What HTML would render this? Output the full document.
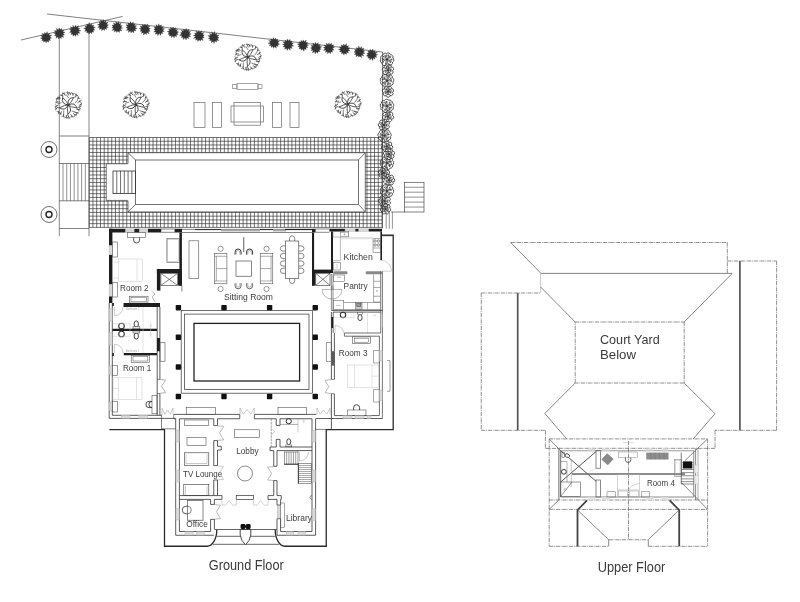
<!DOCTYPE html>
<html><head><meta charset="utf-8"><title>Floor Plan</title>
<style>
html,body{margin:0;padding:0;background:#fff;}
body{width:800px;height:602px;overflow:hidden;}
svg{display:block;will-change:transform;}
text{font-family:"Liberation Sans","DejaVu Sans",sans-serif;}
</style></head><body>
<svg width="800" height="602" viewBox="0 0 800 602">
<rect width="800" height="602" fill="#fff"/>
<g id="garden">
<line x1="21.00" y1="40.00" x2="122.75" y2="16.40" stroke="#4a4a4a" stroke-width="0.7" />
<line x1="47.00" y1="14.00" x2="382.50" y2="52.00" stroke="#4a4a4a" stroke-width="0.7" />
<line x1="382.50" y1="52.00" x2="382.50" y2="228.50" stroke="#4a4a4a" stroke-width="0.7" />
<line x1="59.30" y1="37.00" x2="59.30" y2="236.20" stroke="#555" stroke-width="0.7" />
<line x1="89.00" y1="28.50" x2="89.00" y2="236.20" stroke="#555" stroke-width="0.7" />
<line x1="59.30" y1="136.00" x2="89.00" y2="136.00" stroke="#4a4a4a" stroke-width="0.7" />
<line x1="59.30" y1="163.50" x2="89.00" y2="163.50" stroke="#4a4a4a" stroke-width="0.7" />
<line x1="59.30" y1="200.80" x2="89.00" y2="200.80" stroke="#4a4a4a" stroke-width="0.7" />
<line x1="59.30" y1="228.50" x2="89.00" y2="228.50" stroke="#4a4a4a" stroke-width="0.7" />
<line x1="63.02" y1="163.50" x2="63.02" y2="200.80" stroke="#4a4a4a" stroke-width="0.6" />
<line x1="66.74" y1="163.50" x2="66.74" y2="200.80" stroke="#4a4a4a" stroke-width="0.6" />
<line x1="70.46" y1="163.50" x2="70.46" y2="200.80" stroke="#4a4a4a" stroke-width="0.6" />
<line x1="74.18" y1="163.50" x2="74.18" y2="200.80" stroke="#4a4a4a" stroke-width="0.6" />
<line x1="77.90" y1="163.50" x2="77.90" y2="200.80" stroke="#4a4a4a" stroke-width="0.6" />
<line x1="81.62" y1="163.50" x2="81.62" y2="200.80" stroke="#4a4a4a" stroke-width="0.6" />
<line x1="85.34" y1="163.50" x2="85.34" y2="200.80" stroke="#4a4a4a" stroke-width="0.6" />
<circle cx="49.00" cy="149.50" r="8.00" stroke="#333" stroke-width="0.7" fill="none"/>
<circle cx="49.00" cy="149.50" r="3.00" stroke="#222" stroke-width="1.4" fill="none"/>
<circle cx="49.00" cy="214.50" r="8.00" stroke="#333" stroke-width="0.7" fill="none"/>
<circle cx="49.00" cy="214.50" r="3.00" stroke="#222" stroke-width="1.4" fill="none"/>
<path d="M43.60,42.32 L43.54,40.39 L41.69,40.61 L42.54,38.89 L40.48,38.29 L42.56,37.15 L40.62,35.59 L43.13,35.60 L42.17,33.36 L44.33,34.47 L44.62,32.36 L45.93,33.84 L47.32,31.65 L47.56,34.38 L49.53,33.35 L49.06,35.29 L51.67,35.22 L49.71,36.97 L51.58,38.06 L49.75,38.83 L50.41,40.41 L48.65,40.37 L48.66,42.32 L46.91,40.88 L46.11,42.85 L45.21,41.01 Z" stroke="#333" stroke-width="0.3" fill="#333" />
<path d="M61.67,28.45 L61.78,30.42 L64.05,29.76 L62.80,31.88 L65.14,32.31 L62.95,33.57 L64.57,34.93 L62.55,35.20 L63.69,37.51 L61.43,36.52 L61.20,38.66 L59.76,37.14 L58.54,38.97 L58.06,36.69 L55.87,38.13 L56.52,35.78 L54.54,35.69 L55.82,34.11 L53.78,33.11 L55.75,32.27 L54.41,30.39 L56.94,30.89 L56.27,28.18 L58.43,30.08 L59.10,27.79 L60.16,29.60 Z" stroke="#333" stroke-width="0.3" fill="#333" />
<path d="M78.29,35.44 L76.26,34.00 L75.78,36.60 L74.58,34.63 L73.02,36.22 L72.81,34.05 L70.91,34.52 L71.64,32.61 L69.40,32.25 L71.25,30.85 L69.49,29.51 L71.53,29.03 L70.38,26.81 L72.87,27.79 L72.86,25.36 L74.54,27.38 L75.64,24.95 L76.30,27.24 L78.43,25.70 L77.88,28.19 L79.84,28.18 L78.52,29.89 L80.85,30.73 L78.34,31.58 L80.05,33.37 L77.66,33.10 Z" stroke="#333" stroke-width="0.3" fill="#333" />
<path d="M93.68,32.15 L91.91,31.80 L91.60,33.63 L90.14,32.14 L89.02,34.15 L88.32,32.25 L86.68,32.94 L86.97,31.01 L84.64,31.22 L85.93,29.50 L83.76,28.54 L85.96,27.62 L84.91,25.99 L87.04,26.15 L86.63,23.98 L88.40,24.92 L89.08,22.52 L90.21,25.12 L91.72,23.57 L91.80,25.70 L93.87,25.02 L93.04,26.92 L95.38,27.27 L93.32,28.64 L94.83,29.91 L92.97,30.33 Z" stroke="#333" stroke-width="0.3" fill="#333" />
<path d="M99.33,29.62 L99.94,27.58 L97.71,27.36 L99.55,25.76 L97.50,24.57 L99.72,23.97 L98.96,22.29 L100.71,22.40 L100.61,20.06 L102.40,21.57 L103.39,19.43 L104.20,21.88 L105.97,20.50 L105.62,22.85 L108.12,22.20 L106.51,24.25 L108.53,24.88 L106.75,25.91 L108.25,27.43 L106.18,27.52 L106.67,29.44 L104.77,28.46 L104.42,30.65 L103.17,28.88 L101.79,30.78 L101.58,28.40 Z" stroke="#333" stroke-width="0.3" fill="#333" />
<path d="M121.18,23.17 L120.09,25.47 L122.31,25.64 L120.71,27.06 L122.59,28.27 L120.29,28.71 L121.86,30.98 L119.58,30.42 L119.46,32.45 L117.79,30.93 L116.82,32.61 L116.09,30.63 L114.26,32.08 L114.59,29.84 L111.99,30.44 L113.75,28.37 L111.85,27.65 L113.20,26.61 L111.86,24.99 L114.33,25.16 L113.53,22.81 L115.67,24.18 L116.03,21.68 L117.31,23.33 L118.85,21.53 L119.05,24.02 Z" stroke="#333" stroke-width="0.3" fill="#333" />
<path d="M131.02,32.97 L130.33,30.75 L128.28,32.46 L128.74,30.01 L126.28,30.44 L127.95,28.44 L125.96,27.68 L127.59,26.67 L125.82,24.83 L128.35,24.96 L127.75,22.66 L129.84,23.84 L130.38,21.57 L131.64,23.86 L133.15,21.96 L133.30,24.32 L135.16,23.71 L134.36,25.65 L136.66,25.81 L134.96,27.22 L137.17,28.51 L135.00,29.06 L135.82,30.92 L133.81,30.53 L133.87,33.03 L132.08,31.31 Z" stroke="#333" stroke-width="0.3" fill="#333" />
<path d="M141.41,33.40 L142.09,31.33 L139.94,31.25 L141.49,29.75 L139.23,28.63 L141.31,27.93 L140.03,25.91 L142.53,26.55 L142.26,24.15 L144.05,25.54 L144.97,23.98 L145.89,25.61 L147.79,23.91 L147.55,26.39 L149.86,25.90 L148.44,27.97 L150.36,28.62 L148.84,29.74 L150.20,31.24 L148.20,31.48 L149.09,33.86 L146.71,32.52 L146.37,34.74 L145.02,33.26 L143.62,35.04 L143.38,32.42 Z" stroke="#333" stroke-width="0.3" fill="#333" />
<path d="M162.76,33.65 L160.99,33.19 L160.71,35.53 L159.17,33.30 L157.85,35.69 L157.32,33.41 L155.34,34.35 L156.12,32.00 L153.73,32.09 L155.56,30.39 L153.76,29.42 L155.22,28.57 L154.04,26.72 L156.40,27.14 L155.91,24.54 L157.95,26.29 L158.71,23.77 L159.75,25.98 L161.29,24.87 L161.23,27.02 L163.38,26.46 L162.26,28.38 L164.70,28.83 L162.56,30.06 L164.35,31.54 L161.97,31.64 Z" stroke="#333" stroke-width="0.3" fill="#333" />
<path d="M177.69,29.40 L176.49,31.22 L178.76,31.91 L176.89,33.01 L178.19,34.58 L176.16,34.75 L176.63,36.80 L174.61,35.76 L174.17,38.00 L172.88,35.83 L171.45,37.83 L171.25,35.46 L169.38,36.20 L169.73,34.49 L167.88,34.13 L169.32,32.71 L167.17,31.48 L169.56,30.95 L168.56,29.09 L170.64,29.53 L170.51,27.22 L172.21,28.61 L173.19,27.06 L174.02,28.80 L175.71,27.65 L175.47,29.81 Z" stroke="#333" stroke-width="0.3" fill="#333" />
<path d="M186.28,28.35 L186.88,30.53 L188.95,29.17 L188.49,31.44 L190.54,31.46 L189.17,33.16 L191.20,34.09 L189.09,34.95 L190.66,36.82 L188.21,36.48 L188.68,38.77 L186.75,37.47 L186.14,40.07 L184.98,37.78 L183.26,39.61 L183.20,37.22 L181.34,37.57 L182.16,35.68 L179.55,35.36 L181.60,33.94 L180.31,32.63 L182.44,32.33 L181.34,30.19 L183.58,31.12 L183.65,28.86 L185.14,30.56 Z" stroke="#333" stroke-width="0.3" fill="#333" />
<path d="M196.10,30.79 L197.96,32.21 L198.87,30.62 L199.82,32.26 L201.59,30.76 L201.26,33.32 L203.89,32.44 L202.68,34.50 L204.39,35.21 L202.94,36.38 L204.29,37.86 L202.09,38.02 L203.19,40.50 L200.89,39.40 L200.42,41.20 L199.09,39.66 L197.77,41.58 L197.40,39.24 L195.51,40.15 L196.09,38.12 L193.53,38.23 L195.61,36.50 L193.28,35.45 L195.54,34.78 L194.60,33.12 L196.54,33.36 Z" stroke="#333" stroke-width="0.3" fill="#333" />
<path d="M209.63,33.50 L211.89,34.56 L211.82,31.65 L213.43,33.64 L214.75,31.46 L215.10,34.31 L217.05,33.15 L216.39,35.35 L219.11,35.01 L217.21,36.83 L219.05,37.78 L217.20,38.56 L218.93,40.60 L216.47,40.22 L216.58,42.16 L214.77,40.84 L214.12,43.57 L213.06,41.19 L211.33,42.89 L211.58,40.25 L209.56,40.80 L210.24,39.09 L208.17,38.56 L210.24,37.32 L207.86,35.74 L210.45,35.57 Z" stroke="#333" stroke-width="0.3" fill="#333" />
<path d="M275.68,37.95 L276.09,39.70 L277.82,39.32 L277.39,41.04 L279.43,41.42 L277.61,42.85 L279.63,44.15 L277.57,44.69 L278.25,46.47 L276.10,45.79 L276.25,48.27 L274.57,46.51 L273.57,48.33 L272.89,46.33 L271.17,47.47 L271.45,45.45 L269.21,45.77 L270.55,44.00 L268.07,43.24 L270.49,42.28 L268.85,40.56 L271.27,40.77 L270.66,38.56 L272.65,39.84 L273.12,37.60 L274.27,39.58 Z" stroke="#333" stroke-width="0.3" fill="#333" />
<path d="M287.38,38.89 L288.47,41.10 L290.08,39.32 L290.28,41.37 L292.04,41.11 L291.46,42.84 L293.49,43.32 L291.70,44.65 L293.81,46.11 L291.21,46.33 L292.22,48.44 L290.13,47.76 L290.11,50.37 L288.39,48.19 L287.20,50.55 L286.60,48.16 L284.63,49.35 L285.24,46.99 L283.04,47.12 L284.64,45.38 L282.64,44.53 L284.65,43.73 L282.79,41.79 L285.36,42.20 L284.99,40.12 L286.81,41.34 Z" stroke="#333" stroke-width="0.3" fill="#333" />
<path d="M306.26,40.12 L305.76,42.59 L307.78,42.48 L306.42,44.23 L308.51,45.02 L306.60,45.96 L307.85,47.54 L305.83,47.54 L306.26,49.61 L304.53,48.86 L303.94,51.26 L302.67,48.92 L301.23,50.37 L300.85,48.54 L298.99,49.00 L299.85,46.99 L297.95,46.62 L299.36,45.32 L297.45,44.03 L299.66,43.59 L298.82,41.74 L300.79,42.22 L300.98,40.36 L302.45,41.67 L303.47,39.89 L304.18,41.75 Z" stroke="#333" stroke-width="0.3" fill="#333" />
<path d="M321.09,49.36 L319.15,49.73 L320.01,51.70 L318.07,51.13 L317.92,53.39 L316.39,51.83 L315.18,53.79 L314.57,51.55 L312.47,52.91 L313.23,50.36 L311.04,50.48 L312.12,48.88 L310.62,47.89 L312.30,47.01 L310.89,45.19 L313.47,45.66 L312.69,42.99 L314.68,44.30 L315.41,42.21 L316.54,44.20 L318.23,42.45 L318.05,45.16 L320.36,44.29 L319.32,46.34 L321.86,46.68 L319.88,48.08 Z" stroke="#333" stroke-width="0.3" fill="#333" />
<path d="M331.65,43.07 L331.59,45.24 L333.81,44.84 L332.56,46.83 L334.41,47.51 L332.42,48.59 L334.03,50.07 L332.00,50.24 L332.56,52.18 L330.83,51.64 L330.41,53.78 L329.02,51.98 L327.64,53.85 L327.25,51.58 L325.25,52.48 L326.20,50.16 L323.43,50.35 L325.18,48.69 L323.33,47.55 L325.51,46.90 L324.17,44.91 L326.69,45.63 L326.22,42.98 L328.13,44.74 L328.97,42.89 L329.83,44.73 Z" stroke="#333" stroke-width="0.3" fill="#333" />
<path d="M343.68,44.02 L344.82,45.58 L346.51,43.64 L346.47,46.33 L348.54,45.64 L347.65,47.65 L350.08,47.93 L348.26,49.36 L350.05,50.73 L347.77,51.12 L348.42,52.88 L346.42,52.26 L346.40,54.50 L344.91,53.21 L343.80,54.89 L343.11,52.92 L341.46,53.76 L341.84,51.72 L339.57,52.01 L340.72,50.35 L338.53,49.47 L340.70,48.53 L339.49,46.90 L341.59,46.97 L341.13,44.77 L343.05,45.97 Z" stroke="#333" stroke-width="0.3" fill="#333" />
<path d="M363.86,56.10 L361.35,54.95 L361.47,57.78 L359.80,55.93 L358.67,57.21 L358.03,55.42 L355.90,56.86 L356.38,54.58 L354.34,54.53 L355.91,52.79 L353.97,51.90 L355.57,50.98 L354.64,49.38 L356.64,49.46 L356.43,47.52 L358.15,48.50 L358.78,45.92 L359.89,48.54 L361.63,46.44 L361.57,48.99 L364.01,48.07 L362.82,50.29 L364.72,50.80 L363.33,52.08 L364.89,53.47 L362.41,53.65 Z" stroke="#333" stroke-width="0.3" fill="#333" />
<path d="M377.69,54.83 L375.55,55.66 L376.83,57.37 L374.57,57.08 L375.05,59.34 L373.20,58.09 L372.59,60.68 L371.51,58.09 L369.77,60.19 L369.71,57.86 L367.91,58.16 L368.46,56.46 L366.25,55.98 L368.07,54.61 L366.68,53.26 L368.82,52.94 L367.89,50.89 L369.81,51.37 L370.07,49.25 L371.64,51.09 L372.81,49.12 L373.34,51.39 L375.10,50.42 L374.65,52.45 L377.38,52.03 L375.50,53.92 Z" stroke="#333" stroke-width="0.3" fill="#333" />
<path d="M68.20,105.00 Q60.98,104.07 62.66,97.60" stroke="#363636" stroke-width="0.9" fill="none" />
<path d="M68.20,105.00 Q67.46,102.01 62.66,97.60" stroke="#363636" stroke-width="0.8" fill="none" />
<line x1="61.64" y1="102.55" x2="57.33" y2="103.93" stroke="#363636" stroke-width="0.6" />
<line x1="62.66" y1="97.60" x2="62.42" y2="95.41" stroke="#363636" stroke-width="0.6" />
<path d="M68.20,105.00 Q66.99,97.82 73.67,97.55" stroke="#363636" stroke-width="0.9" fill="none" />
<path d="M68.20,105.00 Q70.85,103.42 73.67,97.55" stroke="#363636" stroke-width="0.8" fill="none" />
<line x1="68.64" y1="98.01" x2="66.06" y2="94.29" stroke="#363636" stroke-width="0.6" />
<line x1="73.67" y1="97.55" x2="75.69" y2="96.68" stroke="#363636" stroke-width="0.6" />
<path d="M68.20,105.00 Q74.68,101.69 76.95,107.97" stroke="#363636" stroke-width="0.9" fill="none" />
<path d="M68.20,105.00 Q70.50,107.05 76.95,107.97" stroke="#363636" stroke-width="0.8" fill="none" />
<line x1="74.99" y1="103.32" x2="77.77" y2="99.74" stroke="#363636" stroke-width="0.6" />
<line x1="76.95" y1="107.97" x2="78.39" y2="109.64" stroke="#363636" stroke-width="0.6" />
<path d="M68.20,105.00 Q73.23,110.26 67.86,114.23" stroke="#363636" stroke-width="0.9" fill="none" />
<path d="M68.20,105.00 Q66.90,107.79 67.86,114.23" stroke="#363636" stroke-width="0.8" fill="none" />
<line x1="71.76" y1="111.03" x2="75.98" y2="112.66" stroke="#363636" stroke-width="0.6" />
<line x1="67.86" y1="114.23" x2="66.67" y2="116.10" stroke="#363636" stroke-width="0.6" />
<path d="M68.20,105.00 Q64.96,111.52 59.40,107.82" stroke="#363636" stroke-width="0.9" fill="none" />
<path d="M68.20,105.00 Q65.13,104.72 59.40,107.82" stroke="#363636" stroke-width="0.8" fill="none" />
<line x1="63.74" y1="110.39" x2="63.64" y2="114.92" stroke="#363636" stroke-width="0.6" />
<line x1="59.40" y1="107.82" x2="57.25" y2="107.33" stroke="#363636" stroke-width="0.6" />
<line x1="59.44" y1="101.93" x2="55.26" y2="102.14" stroke="#363636" stroke-width="0.7" />
<line x1="57.35" y1="102.03" x2="55.66" y2="103.27" stroke="#363636" stroke-width="0.6" />
<line x1="57.35" y1="102.03" x2="56.34" y2="100.19" stroke="#363636" stroke-width="0.6" />
<line x1="59.84" y1="99.25" x2="55.92" y2="98.57" stroke="#363636" stroke-width="0.7" />
<line x1="57.88" y1="98.91" x2="55.92" y2="99.67" stroke="#363636" stroke-width="0.6" />
<line x1="57.88" y1="98.91" x2="57.38" y2="96.87" stroke="#363636" stroke-width="0.6" />
<line x1="60.94" y1="98.27" x2="57.72" y2="97.40" stroke="#363636" stroke-width="0.7" />
<line x1="59.33" y1="97.83" x2="57.29" y2="98.30" stroke="#363636" stroke-width="0.6" />
<line x1="59.33" y1="97.83" x2="59.14" y2="95.74" stroke="#363636" stroke-width="0.6" />
<line x1="63.38" y1="96.19" x2="60.86" y2="94.74" stroke="#363636" stroke-width="0.7" />
<line x1="62.12" y1="95.46" x2="60.03" y2="95.25" stroke="#363636" stroke-width="0.6" />
<line x1="62.12" y1="95.46" x2="62.60" y2="93.42" stroke="#363636" stroke-width="0.6" />
<line x1="65.49" y1="95.76" x2="62.73" y2="92.24" stroke="#363636" stroke-width="0.7" />
<line x1="64.11" y1="94.00" x2="62.12" y2="93.35" stroke="#363636" stroke-width="0.6" />
<line x1="64.11" y1="94.00" x2="65.02" y2="92.10" stroke="#363636" stroke-width="0.6" />
<line x1="68.71" y1="95.55" x2="67.29" y2="91.31" stroke="#363636" stroke-width="0.7" />
<line x1="68.00" y1="93.43" x2="66.33" y2="92.15" stroke="#363636" stroke-width="0.6" />
<line x1="68.00" y1="93.43" x2="69.48" y2="91.94" stroke="#363636" stroke-width="0.6" />
<line x1="70.48" y1="95.16" x2="69.58" y2="92.30" stroke="#363636" stroke-width="0.7" />
<line x1="70.03" y1="93.73" x2="68.61" y2="92.18" stroke="#363636" stroke-width="0.6" />
<line x1="70.03" y1="93.73" x2="71.75" y2="92.52" stroke="#363636" stroke-width="0.6" />
<line x1="72.94" y1="95.68" x2="72.63" y2="92.89" stroke="#363636" stroke-width="0.7" />
<line x1="72.78" y1="94.28" x2="71.78" y2="92.44" stroke="#363636" stroke-width="0.6" />
<line x1="72.78" y1="94.28" x2="74.74" y2="93.52" stroke="#363636" stroke-width="0.6" />
<line x1="75.53" y1="97.32" x2="76.48" y2="93.93" stroke="#363636" stroke-width="0.7" />
<line x1="76.00" y1="95.63" x2="75.57" y2="93.57" stroke="#363636" stroke-width="0.6" />
<line x1="76.00" y1="95.63" x2="78.10" y2="95.46" stroke="#363636" stroke-width="0.6" />
<line x1="77.30" y1="99.59" x2="78.78" y2="96.85" stroke="#363636" stroke-width="0.7" />
<line x1="78.04" y1="98.22" x2="78.17" y2="96.12" stroke="#363636" stroke-width="0.6" />
<line x1="78.04" y1="98.22" x2="80.10" y2="98.62" stroke="#363636" stroke-width="0.6" />
<line x1="77.50" y1="102.92" x2="81.32" y2="100.35" stroke="#363636" stroke-width="0.7" />
<line x1="79.41" y1="101.64" x2="80.19" y2="99.69" stroke="#363636" stroke-width="0.6" />
<line x1="79.41" y1="101.64" x2="81.24" y2="102.66" stroke="#363636" stroke-width="0.6" />
<line x1="78.78" y1="105.46" x2="82.01" y2="103.94" stroke="#363636" stroke-width="0.7" />
<line x1="80.40" y1="104.70" x2="81.66" y2="103.02" stroke="#363636" stroke-width="0.6" />
<line x1="80.40" y1="104.70" x2="81.90" y2="106.17" stroke="#363636" stroke-width="0.6" />
<line x1="77.64" y1="107.41" x2="80.92" y2="106.67" stroke="#363636" stroke-width="0.7" />
<line x1="79.28" y1="107.04" x2="80.86" y2="105.66" stroke="#363636" stroke-width="0.6" />
<line x1="79.28" y1="107.04" x2="80.45" y2="108.78" stroke="#363636" stroke-width="0.6" />
<line x1="76.43" y1="109.40" x2="80.34" y2="109.72" stroke="#363636" stroke-width="0.7" />
<line x1="78.38" y1="109.56" x2="80.25" y2="108.59" stroke="#363636" stroke-width="0.6" />
<line x1="78.38" y1="109.56" x2="79.10" y2="111.53" stroke="#363636" stroke-width="0.6" />
<line x1="74.53" y1="111.74" x2="78.59" y2="113.69" stroke="#363636" stroke-width="0.7" />
<line x1="76.56" y1="112.71" x2="78.64" y2="112.39" stroke="#363636" stroke-width="0.6" />
<line x1="76.56" y1="112.71" x2="76.61" y2="114.81" stroke="#363636" stroke-width="0.6" />
<line x1="73.09" y1="113.35" x2="76.52" y2="115.95" stroke="#363636" stroke-width="0.7" />
<line x1="74.80" y1="114.65" x2="76.90" y2="114.80" stroke="#363636" stroke-width="0.6" />
<line x1="74.80" y1="114.65" x2="74.38" y2="116.70" stroke="#363636" stroke-width="0.6" />
<line x1="70.58" y1="114.39" x2="72.97" y2="117.39" stroke="#363636" stroke-width="0.7" />
<line x1="71.77" y1="115.89" x2="73.75" y2="116.61" stroke="#363636" stroke-width="0.6" />
<line x1="71.77" y1="115.89" x2="70.80" y2="117.75" stroke="#363636" stroke-width="0.6" />
<line x1="67.78" y1="114.31" x2="69.24" y2="118.93" stroke="#363636" stroke-width="0.7" />
<line x1="68.51" y1="116.62" x2="70.19" y2="117.88" stroke="#363636" stroke-width="0.6" />
<line x1="68.51" y1="116.62" x2="67.04" y2="118.12" stroke="#363636" stroke-width="0.6" />
<line x1="66.04" y1="115.06" x2="66.94" y2="118.73" stroke="#363636" stroke-width="0.7" />
<line x1="66.49" y1="116.89" x2="67.93" y2="118.42" stroke="#363636" stroke-width="0.6" />
<line x1="66.49" y1="116.89" x2="64.79" y2="118.13" stroke="#363636" stroke-width="0.6" />
<line x1="63.49" y1="114.21" x2="63.67" y2="117.31" stroke="#363636" stroke-width="0.7" />
<line x1="63.58" y1="115.76" x2="64.58" y2="117.60" stroke="#363636" stroke-width="0.6" />
<line x1="63.58" y1="115.76" x2="61.62" y2="116.51" stroke="#363636" stroke-width="0.6" />
<line x1="61.48" y1="111.36" x2="60.11" y2="114.74" stroke="#363636" stroke-width="0.7" />
<line x1="60.79" y1="113.05" x2="61.12" y2="115.13" stroke="#363636" stroke-width="0.6" />
<line x1="60.79" y1="113.05" x2="58.69" y2="113.11" stroke="#363636" stroke-width="0.6" />
<line x1="59.19" y1="110.54" x2="58.12" y2="113.01" stroke="#363636" stroke-width="0.7" />
<line x1="58.66" y1="111.78" x2="58.55" y2="113.88" stroke="#363636" stroke-width="0.6" />
<line x1="58.66" y1="111.78" x2="56.59" y2="111.41" stroke="#363636" stroke-width="0.6" />
<line x1="57.89" y1="107.19" x2="55.03" y2="109.50" stroke="#363636" stroke-width="0.7" />
<line x1="56.46" y1="108.35" x2="55.66" y2="110.29" stroke="#363636" stroke-width="0.6" />
<line x1="56.46" y1="108.35" x2="54.64" y2="107.30" stroke="#363636" stroke-width="0.6" />
<line x1="58.46" y1="105.05" x2="54.97" y2="106.66" stroke="#363636" stroke-width="0.7" />
<line x1="56.72" y1="105.86" x2="55.54" y2="107.60" stroke="#363636" stroke-width="0.6" />
<line x1="56.72" y1="105.86" x2="55.14" y2="104.47" stroke="#363636" stroke-width="0.6" />
<path d="M135.80,104.50 Q128.58,103.57 130.26,97.10" stroke="#363636" stroke-width="0.9" fill="none" />
<path d="M135.80,104.50 Q135.06,101.51 130.26,97.10" stroke="#363636" stroke-width="0.8" fill="none" />
<line x1="129.24" y1="102.05" x2="124.93" y2="103.43" stroke="#363636" stroke-width="0.6" />
<line x1="130.26" y1="97.10" x2="130.02" y2="94.91" stroke="#363636" stroke-width="0.6" />
<path d="M135.80,104.50 Q134.59,97.32 141.27,97.05" stroke="#363636" stroke-width="0.9" fill="none" />
<path d="M135.80,104.50 Q138.45,102.92 141.27,97.05" stroke="#363636" stroke-width="0.8" fill="none" />
<line x1="136.24" y1="97.51" x2="133.66" y2="93.79" stroke="#363636" stroke-width="0.6" />
<line x1="141.27" y1="97.05" x2="143.29" y2="96.18" stroke="#363636" stroke-width="0.6" />
<path d="M135.80,104.50 Q142.28,101.19 144.55,107.47" stroke="#363636" stroke-width="0.9" fill="none" />
<path d="M135.80,104.50 Q138.10,106.55 144.55,107.47" stroke="#363636" stroke-width="0.8" fill="none" />
<line x1="142.59" y1="102.82" x2="145.37" y2="99.24" stroke="#363636" stroke-width="0.6" />
<line x1="144.55" y1="107.47" x2="145.99" y2="109.14" stroke="#363636" stroke-width="0.6" />
<path d="M135.80,104.50 Q140.83,109.76 135.46,113.73" stroke="#363636" stroke-width="0.9" fill="none" />
<path d="M135.80,104.50 Q134.50,107.29 135.46,113.73" stroke="#363636" stroke-width="0.8" fill="none" />
<line x1="139.36" y1="110.53" x2="143.58" y2="112.16" stroke="#363636" stroke-width="0.6" />
<line x1="135.46" y1="113.73" x2="134.27" y2="115.60" stroke="#363636" stroke-width="0.6" />
<path d="M135.80,104.50 Q132.56,111.02 127.00,107.32" stroke="#363636" stroke-width="0.9" fill="none" />
<path d="M135.80,104.50 Q132.73,104.22 127.00,107.32" stroke="#363636" stroke-width="0.8" fill="none" />
<line x1="131.34" y1="109.89" x2="131.24" y2="114.42" stroke="#363636" stroke-width="0.6" />
<line x1="127.00" y1="107.32" x2="124.85" y2="106.83" stroke="#363636" stroke-width="0.6" />
<line x1="127.04" y1="101.43" x2="122.86" y2="101.64" stroke="#363636" stroke-width="0.7" />
<line x1="124.95" y1="101.53" x2="123.26" y2="102.77" stroke="#363636" stroke-width="0.6" />
<line x1="124.95" y1="101.53" x2="123.94" y2="99.69" stroke="#363636" stroke-width="0.6" />
<line x1="127.44" y1="98.75" x2="123.52" y2="98.07" stroke="#363636" stroke-width="0.7" />
<line x1="125.48" y1="98.41" x2="123.52" y2="99.17" stroke="#363636" stroke-width="0.6" />
<line x1="125.48" y1="98.41" x2="124.98" y2="96.37" stroke="#363636" stroke-width="0.6" />
<line x1="128.54" y1="97.77" x2="125.32" y2="96.90" stroke="#363636" stroke-width="0.7" />
<line x1="126.93" y1="97.33" x2="124.89" y2="97.80" stroke="#363636" stroke-width="0.6" />
<line x1="126.93" y1="97.33" x2="126.74" y2="95.24" stroke="#363636" stroke-width="0.6" />
<line x1="130.98" y1="95.69" x2="128.46" y2="94.24" stroke="#363636" stroke-width="0.7" />
<line x1="129.72" y1="94.96" x2="127.63" y2="94.75" stroke="#363636" stroke-width="0.6" />
<line x1="129.72" y1="94.96" x2="130.20" y2="92.92" stroke="#363636" stroke-width="0.6" />
<line x1="133.09" y1="95.26" x2="130.33" y2="91.74" stroke="#363636" stroke-width="0.7" />
<line x1="131.71" y1="93.50" x2="129.72" y2="92.85" stroke="#363636" stroke-width="0.6" />
<line x1="131.71" y1="93.50" x2="132.62" y2="91.60" stroke="#363636" stroke-width="0.6" />
<line x1="136.31" y1="95.05" x2="134.89" y2="90.81" stroke="#363636" stroke-width="0.7" />
<line x1="135.60" y1="92.93" x2="133.93" y2="91.65" stroke="#363636" stroke-width="0.6" />
<line x1="135.60" y1="92.93" x2="137.08" y2="91.44" stroke="#363636" stroke-width="0.6" />
<line x1="138.08" y1="94.66" x2="137.18" y2="91.80" stroke="#363636" stroke-width="0.7" />
<line x1="137.63" y1="93.23" x2="136.21" y2="91.68" stroke="#363636" stroke-width="0.6" />
<line x1="137.63" y1="93.23" x2="139.35" y2="92.02" stroke="#363636" stroke-width="0.6" />
<line x1="140.54" y1="95.18" x2="140.23" y2="92.39" stroke="#363636" stroke-width="0.7" />
<line x1="140.38" y1="93.78" x2="139.38" y2="91.94" stroke="#363636" stroke-width="0.6" />
<line x1="140.38" y1="93.78" x2="142.34" y2="93.02" stroke="#363636" stroke-width="0.6" />
<line x1="143.13" y1="96.82" x2="144.08" y2="93.43" stroke="#363636" stroke-width="0.7" />
<line x1="143.60" y1="95.13" x2="143.17" y2="93.07" stroke="#363636" stroke-width="0.6" />
<line x1="143.60" y1="95.13" x2="145.70" y2="94.96" stroke="#363636" stroke-width="0.6" />
<line x1="144.90" y1="99.09" x2="146.38" y2="96.35" stroke="#363636" stroke-width="0.7" />
<line x1="145.64" y1="97.72" x2="145.77" y2="95.62" stroke="#363636" stroke-width="0.6" />
<line x1="145.64" y1="97.72" x2="147.70" y2="98.12" stroke="#363636" stroke-width="0.6" />
<line x1="145.10" y1="102.42" x2="148.92" y2="99.85" stroke="#363636" stroke-width="0.7" />
<line x1="147.01" y1="101.14" x2="147.79" y2="99.19" stroke="#363636" stroke-width="0.6" />
<line x1="147.01" y1="101.14" x2="148.84" y2="102.16" stroke="#363636" stroke-width="0.6" />
<line x1="146.38" y1="104.96" x2="149.61" y2="103.44" stroke="#363636" stroke-width="0.7" />
<line x1="148.00" y1="104.20" x2="149.26" y2="102.52" stroke="#363636" stroke-width="0.6" />
<line x1="148.00" y1="104.20" x2="149.50" y2="105.67" stroke="#363636" stroke-width="0.6" />
<line x1="145.24" y1="106.91" x2="148.52" y2="106.17" stroke="#363636" stroke-width="0.7" />
<line x1="146.88" y1="106.54" x2="148.46" y2="105.16" stroke="#363636" stroke-width="0.6" />
<line x1="146.88" y1="106.54" x2="148.05" y2="108.28" stroke="#363636" stroke-width="0.6" />
<line x1="144.03" y1="108.90" x2="147.94" y2="109.22" stroke="#363636" stroke-width="0.7" />
<line x1="145.98" y1="109.06" x2="147.85" y2="108.09" stroke="#363636" stroke-width="0.6" />
<line x1="145.98" y1="109.06" x2="146.70" y2="111.03" stroke="#363636" stroke-width="0.6" />
<line x1="142.13" y1="111.24" x2="146.19" y2="113.19" stroke="#363636" stroke-width="0.7" />
<line x1="144.16" y1="112.21" x2="146.24" y2="111.89" stroke="#363636" stroke-width="0.6" />
<line x1="144.16" y1="112.21" x2="144.21" y2="114.31" stroke="#363636" stroke-width="0.6" />
<line x1="140.69" y1="112.85" x2="144.12" y2="115.45" stroke="#363636" stroke-width="0.7" />
<line x1="142.40" y1="114.15" x2="144.50" y2="114.30" stroke="#363636" stroke-width="0.6" />
<line x1="142.40" y1="114.15" x2="141.98" y2="116.20" stroke="#363636" stroke-width="0.6" />
<line x1="138.18" y1="113.89" x2="140.57" y2="116.89" stroke="#363636" stroke-width="0.7" />
<line x1="139.37" y1="115.39" x2="141.35" y2="116.11" stroke="#363636" stroke-width="0.6" />
<line x1="139.37" y1="115.39" x2="138.40" y2="117.25" stroke="#363636" stroke-width="0.6" />
<line x1="135.38" y1="113.81" x2="136.84" y2="118.43" stroke="#363636" stroke-width="0.7" />
<line x1="136.11" y1="116.12" x2="137.79" y2="117.38" stroke="#363636" stroke-width="0.6" />
<line x1="136.11" y1="116.12" x2="134.64" y2="117.62" stroke="#363636" stroke-width="0.6" />
<line x1="133.64" y1="114.56" x2="134.54" y2="118.23" stroke="#363636" stroke-width="0.7" />
<line x1="134.09" y1="116.39" x2="135.53" y2="117.92" stroke="#363636" stroke-width="0.6" />
<line x1="134.09" y1="116.39" x2="132.39" y2="117.63" stroke="#363636" stroke-width="0.6" />
<line x1="131.09" y1="113.71" x2="131.27" y2="116.81" stroke="#363636" stroke-width="0.7" />
<line x1="131.18" y1="115.26" x2="132.18" y2="117.10" stroke="#363636" stroke-width="0.6" />
<line x1="131.18" y1="115.26" x2="129.22" y2="116.01" stroke="#363636" stroke-width="0.6" />
<line x1="129.08" y1="110.86" x2="127.71" y2="114.24" stroke="#363636" stroke-width="0.7" />
<line x1="128.39" y1="112.55" x2="128.72" y2="114.63" stroke="#363636" stroke-width="0.6" />
<line x1="128.39" y1="112.55" x2="126.29" y2="112.61" stroke="#363636" stroke-width="0.6" />
<line x1="126.79" y1="110.04" x2="125.72" y2="112.51" stroke="#363636" stroke-width="0.7" />
<line x1="126.26" y1="111.28" x2="126.15" y2="113.38" stroke="#363636" stroke-width="0.6" />
<line x1="126.26" y1="111.28" x2="124.19" y2="110.91" stroke="#363636" stroke-width="0.6" />
<line x1="125.49" y1="106.69" x2="122.63" y2="109.00" stroke="#363636" stroke-width="0.7" />
<line x1="124.06" y1="107.85" x2="123.26" y2="109.79" stroke="#363636" stroke-width="0.6" />
<line x1="124.06" y1="107.85" x2="122.24" y2="106.80" stroke="#363636" stroke-width="0.6" />
<line x1="126.06" y1="104.55" x2="122.57" y2="106.16" stroke="#363636" stroke-width="0.7" />
<line x1="124.32" y1="105.36" x2="123.14" y2="107.10" stroke="#363636" stroke-width="0.6" />
<line x1="124.32" y1="105.36" x2="122.74" y2="103.97" stroke="#363636" stroke-width="0.6" />
<path d="M247.80,57.00 Q240.58,56.07 242.26,49.60" stroke="#363636" stroke-width="0.9" fill="none" />
<path d="M247.80,57.00 Q247.06,54.01 242.26,49.60" stroke="#363636" stroke-width="0.8" fill="none" />
<line x1="241.24" y1="54.55" x2="236.93" y2="55.93" stroke="#363636" stroke-width="0.6" />
<line x1="242.26" y1="49.60" x2="242.02" y2="47.41" stroke="#363636" stroke-width="0.6" />
<path d="M247.80,57.00 Q246.59,49.82 253.27,49.55" stroke="#363636" stroke-width="0.9" fill="none" />
<path d="M247.80,57.00 Q250.45,55.42 253.27,49.55" stroke="#363636" stroke-width="0.8" fill="none" />
<line x1="248.24" y1="50.01" x2="245.66" y2="46.29" stroke="#363636" stroke-width="0.6" />
<line x1="253.27" y1="49.55" x2="255.29" y2="48.68" stroke="#363636" stroke-width="0.6" />
<path d="M247.80,57.00 Q254.28,53.69 256.55,59.97" stroke="#363636" stroke-width="0.9" fill="none" />
<path d="M247.80,57.00 Q250.10,59.05 256.55,59.97" stroke="#363636" stroke-width="0.8" fill="none" />
<line x1="254.59" y1="55.32" x2="257.37" y2="51.74" stroke="#363636" stroke-width="0.6" />
<line x1="256.55" y1="59.97" x2="257.99" y2="61.64" stroke="#363636" stroke-width="0.6" />
<path d="M247.80,57.00 Q252.83,62.26 247.46,66.23" stroke="#363636" stroke-width="0.9" fill="none" />
<path d="M247.80,57.00 Q246.50,59.79 247.46,66.23" stroke="#363636" stroke-width="0.8" fill="none" />
<line x1="251.36" y1="63.03" x2="255.58" y2="64.66" stroke="#363636" stroke-width="0.6" />
<line x1="247.46" y1="66.23" x2="246.27" y2="68.10" stroke="#363636" stroke-width="0.6" />
<path d="M247.80,57.00 Q244.56,63.52 239.00,59.82" stroke="#363636" stroke-width="0.9" fill="none" />
<path d="M247.80,57.00 Q244.73,56.72 239.00,59.82" stroke="#363636" stroke-width="0.8" fill="none" />
<line x1="243.34" y1="62.39" x2="243.24" y2="66.92" stroke="#363636" stroke-width="0.6" />
<line x1="239.00" y1="59.82" x2="236.85" y2="59.33" stroke="#363636" stroke-width="0.6" />
<line x1="239.04" y1="53.93" x2="234.86" y2="54.14" stroke="#363636" stroke-width="0.7" />
<line x1="236.95" y1="54.03" x2="235.26" y2="55.27" stroke="#363636" stroke-width="0.6" />
<line x1="236.95" y1="54.03" x2="235.94" y2="52.19" stroke="#363636" stroke-width="0.6" />
<line x1="239.44" y1="51.25" x2="235.52" y2="50.57" stroke="#363636" stroke-width="0.7" />
<line x1="237.48" y1="50.91" x2="235.52" y2="51.67" stroke="#363636" stroke-width="0.6" />
<line x1="237.48" y1="50.91" x2="236.98" y2="48.87" stroke="#363636" stroke-width="0.6" />
<line x1="240.54" y1="50.27" x2="237.32" y2="49.40" stroke="#363636" stroke-width="0.7" />
<line x1="238.93" y1="49.83" x2="236.89" y2="50.30" stroke="#363636" stroke-width="0.6" />
<line x1="238.93" y1="49.83" x2="238.74" y2="47.74" stroke="#363636" stroke-width="0.6" />
<line x1="242.98" y1="48.19" x2="240.46" y2="46.74" stroke="#363636" stroke-width="0.7" />
<line x1="241.72" y1="47.46" x2="239.63" y2="47.25" stroke="#363636" stroke-width="0.6" />
<line x1="241.72" y1="47.46" x2="242.20" y2="45.42" stroke="#363636" stroke-width="0.6" />
<line x1="245.09" y1="47.76" x2="242.33" y2="44.24" stroke="#363636" stroke-width="0.7" />
<line x1="243.71" y1="46.00" x2="241.72" y2="45.35" stroke="#363636" stroke-width="0.6" />
<line x1="243.71" y1="46.00" x2="244.62" y2="44.10" stroke="#363636" stroke-width="0.6" />
<line x1="248.31" y1="47.55" x2="246.89" y2="43.31" stroke="#363636" stroke-width="0.7" />
<line x1="247.60" y1="45.43" x2="245.93" y2="44.15" stroke="#363636" stroke-width="0.6" />
<line x1="247.60" y1="45.43" x2="249.08" y2="43.94" stroke="#363636" stroke-width="0.6" />
<line x1="250.08" y1="47.16" x2="249.18" y2="44.30" stroke="#363636" stroke-width="0.7" />
<line x1="249.63" y1="45.73" x2="248.21" y2="44.18" stroke="#363636" stroke-width="0.6" />
<line x1="249.63" y1="45.73" x2="251.35" y2="44.52" stroke="#363636" stroke-width="0.6" />
<line x1="252.54" y1="47.68" x2="252.23" y2="44.89" stroke="#363636" stroke-width="0.7" />
<line x1="252.38" y1="46.28" x2="251.38" y2="44.44" stroke="#363636" stroke-width="0.6" />
<line x1="252.38" y1="46.28" x2="254.34" y2="45.52" stroke="#363636" stroke-width="0.6" />
<line x1="255.13" y1="49.32" x2="256.08" y2="45.93" stroke="#363636" stroke-width="0.7" />
<line x1="255.60" y1="47.63" x2="255.17" y2="45.57" stroke="#363636" stroke-width="0.6" />
<line x1="255.60" y1="47.63" x2="257.70" y2="47.46" stroke="#363636" stroke-width="0.6" />
<line x1="256.90" y1="51.59" x2="258.38" y2="48.85" stroke="#363636" stroke-width="0.7" />
<line x1="257.64" y1="50.22" x2="257.77" y2="48.12" stroke="#363636" stroke-width="0.6" />
<line x1="257.64" y1="50.22" x2="259.70" y2="50.62" stroke="#363636" stroke-width="0.6" />
<line x1="257.10" y1="54.92" x2="260.92" y2="52.35" stroke="#363636" stroke-width="0.7" />
<line x1="259.01" y1="53.64" x2="259.79" y2="51.69" stroke="#363636" stroke-width="0.6" />
<line x1="259.01" y1="53.64" x2="260.84" y2="54.66" stroke="#363636" stroke-width="0.6" />
<line x1="258.38" y1="57.46" x2="261.61" y2="55.94" stroke="#363636" stroke-width="0.7" />
<line x1="260.00" y1="56.70" x2="261.26" y2="55.02" stroke="#363636" stroke-width="0.6" />
<line x1="260.00" y1="56.70" x2="261.50" y2="58.17" stroke="#363636" stroke-width="0.6" />
<line x1="257.24" y1="59.41" x2="260.52" y2="58.67" stroke="#363636" stroke-width="0.7" />
<line x1="258.88" y1="59.04" x2="260.46" y2="57.66" stroke="#363636" stroke-width="0.6" />
<line x1="258.88" y1="59.04" x2="260.05" y2="60.78" stroke="#363636" stroke-width="0.6" />
<line x1="256.03" y1="61.40" x2="259.94" y2="61.72" stroke="#363636" stroke-width="0.7" />
<line x1="257.98" y1="61.56" x2="259.85" y2="60.59" stroke="#363636" stroke-width="0.6" />
<line x1="257.98" y1="61.56" x2="258.70" y2="63.53" stroke="#363636" stroke-width="0.6" />
<line x1="254.13" y1="63.74" x2="258.19" y2="65.69" stroke="#363636" stroke-width="0.7" />
<line x1="256.16" y1="64.71" x2="258.24" y2="64.39" stroke="#363636" stroke-width="0.6" />
<line x1="256.16" y1="64.71" x2="256.21" y2="66.81" stroke="#363636" stroke-width="0.6" />
<line x1="252.69" y1="65.35" x2="256.12" y2="67.95" stroke="#363636" stroke-width="0.7" />
<line x1="254.40" y1="66.65" x2="256.50" y2="66.80" stroke="#363636" stroke-width="0.6" />
<line x1="254.40" y1="66.65" x2="253.98" y2="68.70" stroke="#363636" stroke-width="0.6" />
<line x1="250.18" y1="66.39" x2="252.57" y2="69.39" stroke="#363636" stroke-width="0.7" />
<line x1="251.37" y1="67.89" x2="253.35" y2="68.61" stroke="#363636" stroke-width="0.6" />
<line x1="251.37" y1="67.89" x2="250.40" y2="69.75" stroke="#363636" stroke-width="0.6" />
<line x1="247.38" y1="66.31" x2="248.84" y2="70.93" stroke="#363636" stroke-width="0.7" />
<line x1="248.11" y1="68.62" x2="249.79" y2="69.88" stroke="#363636" stroke-width="0.6" />
<line x1="248.11" y1="68.62" x2="246.64" y2="70.12" stroke="#363636" stroke-width="0.6" />
<line x1="245.64" y1="67.06" x2="246.54" y2="70.73" stroke="#363636" stroke-width="0.7" />
<line x1="246.09" y1="68.89" x2="247.53" y2="70.42" stroke="#363636" stroke-width="0.6" />
<line x1="246.09" y1="68.89" x2="244.39" y2="70.13" stroke="#363636" stroke-width="0.6" />
<line x1="243.09" y1="66.21" x2="243.27" y2="69.31" stroke="#363636" stroke-width="0.7" />
<line x1="243.18" y1="67.76" x2="244.18" y2="69.60" stroke="#363636" stroke-width="0.6" />
<line x1="243.18" y1="67.76" x2="241.22" y2="68.51" stroke="#363636" stroke-width="0.6" />
<line x1="241.08" y1="63.36" x2="239.71" y2="66.74" stroke="#363636" stroke-width="0.7" />
<line x1="240.39" y1="65.05" x2="240.72" y2="67.13" stroke="#363636" stroke-width="0.6" />
<line x1="240.39" y1="65.05" x2="238.29" y2="65.11" stroke="#363636" stroke-width="0.6" />
<line x1="238.79" y1="62.54" x2="237.72" y2="65.01" stroke="#363636" stroke-width="0.7" />
<line x1="238.26" y1="63.78" x2="238.15" y2="65.88" stroke="#363636" stroke-width="0.6" />
<line x1="238.26" y1="63.78" x2="236.19" y2="63.41" stroke="#363636" stroke-width="0.6" />
<line x1="237.49" y1="59.19" x2="234.63" y2="61.50" stroke="#363636" stroke-width="0.7" />
<line x1="236.06" y1="60.35" x2="235.26" y2="62.29" stroke="#363636" stroke-width="0.6" />
<line x1="236.06" y1="60.35" x2="234.24" y2="59.30" stroke="#363636" stroke-width="0.6" />
<line x1="238.06" y1="57.05" x2="234.57" y2="58.66" stroke="#363636" stroke-width="0.7" />
<line x1="236.32" y1="57.86" x2="235.14" y2="59.60" stroke="#363636" stroke-width="0.6" />
<line x1="236.32" y1="57.86" x2="234.74" y2="56.47" stroke="#363636" stroke-width="0.6" />
<path d="M347.80,104.20 Q340.58,103.27 342.26,96.80" stroke="#363636" stroke-width="0.9" fill="none" />
<path d="M347.80,104.20 Q347.06,101.21 342.26,96.80" stroke="#363636" stroke-width="0.8" fill="none" />
<line x1="341.24" y1="101.75" x2="336.93" y2="103.13" stroke="#363636" stroke-width="0.6" />
<line x1="342.26" y1="96.80" x2="342.02" y2="94.61" stroke="#363636" stroke-width="0.6" />
<path d="M347.80,104.20 Q346.59,97.02 353.27,96.75" stroke="#363636" stroke-width="0.9" fill="none" />
<path d="M347.80,104.20 Q350.45,102.62 353.27,96.75" stroke="#363636" stroke-width="0.8" fill="none" />
<line x1="348.24" y1="97.21" x2="345.66" y2="93.49" stroke="#363636" stroke-width="0.6" />
<line x1="353.27" y1="96.75" x2="355.29" y2="95.88" stroke="#363636" stroke-width="0.6" />
<path d="M347.80,104.20 Q354.28,100.89 356.55,107.17" stroke="#363636" stroke-width="0.9" fill="none" />
<path d="M347.80,104.20 Q350.10,106.25 356.55,107.17" stroke="#363636" stroke-width="0.8" fill="none" />
<line x1="354.59" y1="102.52" x2="357.37" y2="98.94" stroke="#363636" stroke-width="0.6" />
<line x1="356.55" y1="107.17" x2="357.99" y2="108.84" stroke="#363636" stroke-width="0.6" />
<path d="M347.80,104.20 Q352.83,109.46 347.46,113.43" stroke="#363636" stroke-width="0.9" fill="none" />
<path d="M347.80,104.20 Q346.50,106.99 347.46,113.43" stroke="#363636" stroke-width="0.8" fill="none" />
<line x1="351.36" y1="110.23" x2="355.58" y2="111.86" stroke="#363636" stroke-width="0.6" />
<line x1="347.46" y1="113.43" x2="346.27" y2="115.30" stroke="#363636" stroke-width="0.6" />
<path d="M347.80,104.20 Q344.56,110.72 339.00,107.02" stroke="#363636" stroke-width="0.9" fill="none" />
<path d="M347.80,104.20 Q344.73,103.92 339.00,107.02" stroke="#363636" stroke-width="0.8" fill="none" />
<line x1="343.34" y1="109.59" x2="343.24" y2="114.12" stroke="#363636" stroke-width="0.6" />
<line x1="339.00" y1="107.02" x2="336.85" y2="106.53" stroke="#363636" stroke-width="0.6" />
<line x1="339.04" y1="101.13" x2="334.86" y2="101.34" stroke="#363636" stroke-width="0.7" />
<line x1="336.95" y1="101.23" x2="335.26" y2="102.47" stroke="#363636" stroke-width="0.6" />
<line x1="336.95" y1="101.23" x2="335.94" y2="99.39" stroke="#363636" stroke-width="0.6" />
<line x1="339.44" y1="98.45" x2="335.52" y2="97.77" stroke="#363636" stroke-width="0.7" />
<line x1="337.48" y1="98.11" x2="335.52" y2="98.87" stroke="#363636" stroke-width="0.6" />
<line x1="337.48" y1="98.11" x2="336.98" y2="96.07" stroke="#363636" stroke-width="0.6" />
<line x1="340.54" y1="97.47" x2="337.32" y2="96.60" stroke="#363636" stroke-width="0.7" />
<line x1="338.93" y1="97.03" x2="336.89" y2="97.50" stroke="#363636" stroke-width="0.6" />
<line x1="338.93" y1="97.03" x2="338.74" y2="94.94" stroke="#363636" stroke-width="0.6" />
<line x1="342.98" y1="95.39" x2="340.46" y2="93.94" stroke="#363636" stroke-width="0.7" />
<line x1="341.72" y1="94.66" x2="339.63" y2="94.45" stroke="#363636" stroke-width="0.6" />
<line x1="341.72" y1="94.66" x2="342.20" y2="92.62" stroke="#363636" stroke-width="0.6" />
<line x1="345.09" y1="94.96" x2="342.33" y2="91.44" stroke="#363636" stroke-width="0.7" />
<line x1="343.71" y1="93.20" x2="341.72" y2="92.55" stroke="#363636" stroke-width="0.6" />
<line x1="343.71" y1="93.20" x2="344.62" y2="91.30" stroke="#363636" stroke-width="0.6" />
<line x1="348.31" y1="94.75" x2="346.89" y2="90.51" stroke="#363636" stroke-width="0.7" />
<line x1="347.60" y1="92.63" x2="345.93" y2="91.35" stroke="#363636" stroke-width="0.6" />
<line x1="347.60" y1="92.63" x2="349.08" y2="91.14" stroke="#363636" stroke-width="0.6" />
<line x1="350.08" y1="94.36" x2="349.18" y2="91.50" stroke="#363636" stroke-width="0.7" />
<line x1="349.63" y1="92.93" x2="348.21" y2="91.38" stroke="#363636" stroke-width="0.6" />
<line x1="349.63" y1="92.93" x2="351.35" y2="91.72" stroke="#363636" stroke-width="0.6" />
<line x1="352.54" y1="94.88" x2="352.23" y2="92.09" stroke="#363636" stroke-width="0.7" />
<line x1="352.38" y1="93.48" x2="351.38" y2="91.64" stroke="#363636" stroke-width="0.6" />
<line x1="352.38" y1="93.48" x2="354.34" y2="92.72" stroke="#363636" stroke-width="0.6" />
<line x1="355.13" y1="96.52" x2="356.08" y2="93.13" stroke="#363636" stroke-width="0.7" />
<line x1="355.60" y1="94.83" x2="355.17" y2="92.77" stroke="#363636" stroke-width="0.6" />
<line x1="355.60" y1="94.83" x2="357.70" y2="94.66" stroke="#363636" stroke-width="0.6" />
<line x1="356.90" y1="98.79" x2="358.38" y2="96.05" stroke="#363636" stroke-width="0.7" />
<line x1="357.64" y1="97.42" x2="357.77" y2="95.32" stroke="#363636" stroke-width="0.6" />
<line x1="357.64" y1="97.42" x2="359.70" y2="97.82" stroke="#363636" stroke-width="0.6" />
<line x1="357.10" y1="102.12" x2="360.92" y2="99.55" stroke="#363636" stroke-width="0.7" />
<line x1="359.01" y1="100.84" x2="359.79" y2="98.89" stroke="#363636" stroke-width="0.6" />
<line x1="359.01" y1="100.84" x2="360.84" y2="101.86" stroke="#363636" stroke-width="0.6" />
<line x1="358.38" y1="104.66" x2="361.61" y2="103.14" stroke="#363636" stroke-width="0.7" />
<line x1="360.00" y1="103.90" x2="361.26" y2="102.22" stroke="#363636" stroke-width="0.6" />
<line x1="360.00" y1="103.90" x2="361.50" y2="105.37" stroke="#363636" stroke-width="0.6" />
<line x1="357.24" y1="106.61" x2="360.52" y2="105.87" stroke="#363636" stroke-width="0.7" />
<line x1="358.88" y1="106.24" x2="360.46" y2="104.86" stroke="#363636" stroke-width="0.6" />
<line x1="358.88" y1="106.24" x2="360.05" y2="107.98" stroke="#363636" stroke-width="0.6" />
<line x1="356.03" y1="108.60" x2="359.94" y2="108.92" stroke="#363636" stroke-width="0.7" />
<line x1="357.98" y1="108.76" x2="359.85" y2="107.79" stroke="#363636" stroke-width="0.6" />
<line x1="357.98" y1="108.76" x2="358.70" y2="110.73" stroke="#363636" stroke-width="0.6" />
<line x1="354.13" y1="110.94" x2="358.19" y2="112.89" stroke="#363636" stroke-width="0.7" />
<line x1="356.16" y1="111.91" x2="358.24" y2="111.59" stroke="#363636" stroke-width="0.6" />
<line x1="356.16" y1="111.91" x2="356.21" y2="114.01" stroke="#363636" stroke-width="0.6" />
<line x1="352.69" y1="112.55" x2="356.12" y2="115.15" stroke="#363636" stroke-width="0.7" />
<line x1="354.40" y1="113.85" x2="356.50" y2="114.00" stroke="#363636" stroke-width="0.6" />
<line x1="354.40" y1="113.85" x2="353.98" y2="115.90" stroke="#363636" stroke-width="0.6" />
<line x1="350.18" y1="113.59" x2="352.57" y2="116.59" stroke="#363636" stroke-width="0.7" />
<line x1="351.37" y1="115.09" x2="353.35" y2="115.81" stroke="#363636" stroke-width="0.6" />
<line x1="351.37" y1="115.09" x2="350.40" y2="116.95" stroke="#363636" stroke-width="0.6" />
<line x1="347.38" y1="113.51" x2="348.84" y2="118.13" stroke="#363636" stroke-width="0.7" />
<line x1="348.11" y1="115.82" x2="349.79" y2="117.08" stroke="#363636" stroke-width="0.6" />
<line x1="348.11" y1="115.82" x2="346.64" y2="117.32" stroke="#363636" stroke-width="0.6" />
<line x1="345.64" y1="114.26" x2="346.54" y2="117.93" stroke="#363636" stroke-width="0.7" />
<line x1="346.09" y1="116.09" x2="347.53" y2="117.62" stroke="#363636" stroke-width="0.6" />
<line x1="346.09" y1="116.09" x2="344.39" y2="117.33" stroke="#363636" stroke-width="0.6" />
<line x1="343.09" y1="113.41" x2="343.27" y2="116.51" stroke="#363636" stroke-width="0.7" />
<line x1="343.18" y1="114.96" x2="344.18" y2="116.80" stroke="#363636" stroke-width="0.6" />
<line x1="343.18" y1="114.96" x2="341.22" y2="115.71" stroke="#363636" stroke-width="0.6" />
<line x1="341.08" y1="110.56" x2="339.71" y2="113.94" stroke="#363636" stroke-width="0.7" />
<line x1="340.39" y1="112.25" x2="340.72" y2="114.33" stroke="#363636" stroke-width="0.6" />
<line x1="340.39" y1="112.25" x2="338.29" y2="112.31" stroke="#363636" stroke-width="0.6" />
<line x1="338.79" y1="109.74" x2="337.72" y2="112.21" stroke="#363636" stroke-width="0.7" />
<line x1="338.26" y1="110.98" x2="338.15" y2="113.08" stroke="#363636" stroke-width="0.6" />
<line x1="338.26" y1="110.98" x2="336.19" y2="110.61" stroke="#363636" stroke-width="0.6" />
<line x1="337.49" y1="106.39" x2="334.63" y2="108.70" stroke="#363636" stroke-width="0.7" />
<line x1="336.06" y1="107.55" x2="335.26" y2="109.49" stroke="#363636" stroke-width="0.6" />
<line x1="336.06" y1="107.55" x2="334.24" y2="106.50" stroke="#363636" stroke-width="0.6" />
<line x1="338.06" y1="104.25" x2="334.57" y2="105.86" stroke="#363636" stroke-width="0.7" />
<line x1="336.32" y1="105.06" x2="335.14" y2="106.80" stroke="#363636" stroke-width="0.6" />
<line x1="336.32" y1="105.06" x2="334.74" y2="103.67" stroke="#363636" stroke-width="0.6" />
<path d="M381.98,63.06 A2.56,2.56 0 0 1 380.93,59.02 A2.56,2.56 0 0 1 382.72,55.25 A2.56,2.56 0 0 1 386.52,53.52 A2.56,2.56 0 0 1 390.54,54.63 A2.56,2.56 0 0 1 392.90,58.07 A2.56,2.56 0 0 1 392.51,62.22 A2.56,2.56 0 0 1 389.53,65.15 A2.56,2.56 0 0 1 385.37,65.48 A2.56,2.56 0 0 1 381.98,63.06 " stroke="#333" stroke-width="0.85" fill="none" />
<path d="M387.00,59.60 Q384.26,61.54 382.08,58.69" stroke="#333" stroke-width="0.85" fill="none" />
<path d="M387.00,59.60 Q385.30,58.92 382.08,58.69" stroke="#333" stroke-width="0.6" fill="none" />
<line x1="384.44" y1="60.59" x2="382.33" y2="62.25" stroke="#333" stroke-width="0.7" />
<line x1="383.66" y1="59.93" x2="381.89" y2="60.46" stroke="#333" stroke-width="0.6" />
<path d="M383.84,62.65 A1.52,1.52 0 0 1 382.83,60.97" stroke="#333" stroke-width="0.55" fill="none" />
<path d="M387.00,59.60 Q384.25,57.68 386.19,54.66" stroke="#333" stroke-width="0.85" fill="none" />
<path d="M387.00,59.60 Q387.07,57.77 386.19,54.66" stroke="#333" stroke-width="0.6" fill="none" />
<line x1="385.21" y1="57.52" x2="382.92" y2="56.11" stroke="#333" stroke-width="0.7" />
<line x1="385.56" y1="56.57" x2="384.46" y2="55.08" stroke="#333" stroke-width="0.6" />
<path d="M383.06,57.66 A1.52,1.52 0 0 1 384.30,56.14" stroke="#333" stroke-width="0.55" fill="none" />
<path d="M387.00,59.60 Q387.58,56.30 391.14,56.79" stroke="#333" stroke-width="0.85" fill="none" />
<path d="M387.00,59.60 Q388.69,58.89 391.14,56.79" stroke="#333" stroke-width="0.6" fill="none" />
<line x1="388.13" y1="57.10" x2="388.45" y2="54.43" stroke="#333" stroke-width="0.7" />
<line x1="389.15" y1="57.02" x2="390.03" y2="55.39" stroke="#333" stroke-width="0.6" />
<path d="M387.11,55.21 A1.52,1.52 0 0 1 389.01,55.69" stroke="#333" stroke-width="0.55" fill="none" />
<path d="M387.00,59.60 Q390.33,59.16 390.93,62.70" stroke="#333" stroke-width="0.85" fill="none" />
<path d="M387.00,59.60 Q388.18,61.00 390.93,62.70" stroke="#333" stroke-width="0.6" fill="none" />
<line x1="389.73" y1="59.92" x2="392.37" y2="59.43" stroke="#333" stroke-width="0.7" />
<line x1="390.10" y1="60.87" x2="391.92" y2="61.22" stroke="#333" stroke-width="0.6" />
<path d="M391.22,58.38 A1.52,1.52 0 0 1 391.33,60.34" stroke="#333" stroke-width="0.55" fill="none" />
<path d="M387.00,59.60 Q388.43,62.63 385.24,64.28" stroke="#333" stroke-width="0.85" fill="none" />
<path d="M387.00,59.60 Q386.03,61.15 385.24,64.28" stroke="#333" stroke-width="0.6" fill="none" />
<line x1="387.52" y1="62.29" x2="388.80" y2="64.66" stroke="#333" stroke-width="0.7" />
<line x1="386.74" y1="62.94" x2="386.96" y2="64.78" stroke="#333" stroke-width="0.6" />
<path d="M389.45,63.25 A1.52,1.52 0 0 1 387.62,63.95" stroke="#333" stroke-width="0.55" fill="none" />
<path d="M390.16,73.72 A1.81,1.81 0 0 1 386.44,74.01 A1.81,1.81 0 0 1 383.90,71.28 A1.81,1.81 0 0 1 384.44,67.59 A1.81,1.81 0 0 1 387.66,65.71 A1.81,1.81 0 0 1 391.14,67.06 A1.81,1.81 0 0 1 392.25,70.63 A1.81,1.81 0 0 1 390.16,73.72 " stroke="#333" stroke-width="0.85" fill="none" />
<path d="M388.00,70.00 Q389.50,71.83 387.61,73.50" stroke="#333" stroke-width="0.85" fill="none" />
<path d="M388.00,70.00 Q387.60,71.23 387.61,73.50" stroke="#333" stroke-width="0.6" fill="none" />
<line x1="388.82" y1="71.75" x2="390.10" y2="73.15" stroke="#333" stroke-width="0.7" />
<line x1="388.40" y1="72.33" x2="388.86" y2="73.55" stroke="#333" stroke-width="0.6" />
<path d="M390.30,72.07 A1.07,1.07 0 0 1 389.17,72.87" stroke="#333" stroke-width="0.55" fill="none" />
<path d="M388.00,70.00 Q386.53,71.85 384.49,70.36" stroke="#333" stroke-width="0.85" fill="none" />
<path d="M388.00,70.00 Q386.72,69.87 384.49,70.36" stroke="#333" stroke-width="0.6" fill="none" />
<line x1="386.46" y1="71.17" x2="385.37" y2="72.72" stroke="#333" stroke-width="0.7" />
<line x1="385.80" y1="70.88" x2="384.71" y2="71.59" stroke="#333" stroke-width="0.6" />
<path d="M386.46,72.69 A1.07,1.07 0 0 1 385.45,71.75" stroke="#333" stroke-width="0.55" fill="none" />
<path d="M388.00,70.00 Q385.81,69.12 386.66,66.74" stroke="#333" stroke-width="0.85" fill="none" />
<path d="M388.00,70.00 Q387.76,68.73 386.66,66.74" stroke="#333" stroke-width="0.6" fill="none" />
<line x1="386.44" y1="68.86" x2="384.65" y2="68.24" stroke="#333" stroke-width="0.7" />
<line x1="386.53" y1="68.14" x2="385.54" y2="67.30" stroke="#333" stroke-width="0.6" />
<path d="M384.99,69.29 A1.07,1.07 0 0 1 385.60,68.05" stroke="#333" stroke-width="0.55" fill="none" />
<path d="M388.00,70.00 Q388.06,67.64 390.59,67.61" stroke="#333" stroke-width="0.85" fill="none" />
<path d="M388.00,70.00 Q389.10,69.33 390.59,67.61" stroke="#333" stroke-width="0.6" fill="none" />
<line x1="388.52" y1="68.14" x2="388.47" y2="66.25" stroke="#333" stroke-width="0.7" />
<line x1="389.22" y1="67.98" x2="389.67" y2="66.75" stroke="#333" stroke-width="0.6" />
<path d="M387.61,66.93 A1.07,1.07 0 0 1 388.99,67.07" stroke="#333" stroke-width="0.55" fill="none" />
<path d="M388.00,70.00 Q390.22,69.19 391.17,71.54" stroke="#333" stroke-width="0.85" fill="none" />
<path d="M388.00,70.00 Q389.03,70.78 391.17,71.54" stroke="#333" stroke-width="0.6" fill="none" />
<line x1="389.93" y1="69.81" x2="391.67" y2="69.07" stroke="#333" stroke-width="0.7" />
<line x1="390.33" y1="70.40" x2="391.64" y2="70.37" stroke="#333" stroke-width="0.6" />
<path d="M390.72,68.52 A1.07,1.07 0 0 1 391.09,69.85" stroke="#333" stroke-width="0.55" fill="none" />
<path d="M392.40,77.77 A2.56,2.56 0 0 1 392.96,81.90 A2.56,2.56 0 0 1 390.73,85.43 A2.56,2.56 0 0 1 386.75,86.69 A2.56,2.56 0 0 1 382.89,85.11 A2.56,2.56 0 0 1 380.95,81.41 A2.56,2.56 0 0 1 381.85,77.34 A2.56,2.56 0 0 1 385.15,74.79 A2.56,2.56 0 0 1 389.32,74.96 A2.56,2.56 0 0 1 392.40,77.77 " stroke="#333" stroke-width="0.85" fill="none" />
<path d="M387.00,80.60 Q389.61,78.49 391.97,81.19" stroke="#333" stroke-width="0.85" fill="none" />
<path d="M387.00,80.60 Q388.74,81.17 391.97,81.19" stroke="#333" stroke-width="0.6" fill="none" />
<line x1="389.49" y1="79.45" x2="391.49" y2="77.65" stroke="#333" stroke-width="0.7" />
<line x1="390.31" y1="80.06" x2="392.05" y2="79.41" stroke="#333" stroke-width="0.6" />
<path d="M389.96,77.36 A1.52,1.52 0 0 1 391.08,78.97" stroke="#333" stroke-width="0.55" fill="none" />
<path d="M387.00,80.60 Q389.70,82.59 387.68,85.56" stroke="#333" stroke-width="0.85" fill="none" />
<path d="M387.00,80.60 Q386.88,82.43 387.68,85.56" stroke="#333" stroke-width="0.6" fill="none" />
<line x1="388.74" y1="82.72" x2="390.99" y2="84.20" stroke="#333" stroke-width="0.7" />
<line x1="388.36" y1="83.67" x2="389.43" y2="85.18" stroke="#333" stroke-width="0.6" />
<path d="M390.89,82.64 A1.52,1.52 0 0 1 389.61,84.13" stroke="#333" stroke-width="0.55" fill="none" />
<path d="M387.00,80.60 Q385.93,83.78 382.49,82.77" stroke="#333" stroke-width="0.85" fill="none" />
<path d="M387.00,80.60 Q385.23,81.05 382.49,82.77" stroke="#333" stroke-width="0.6" fill="none" />
<line x1="385.51" y1="82.91" x2="384.80" y2="85.49" stroke="#333" stroke-width="0.7" />
<line x1="384.49" y1="82.83" x2="383.38" y2="84.31" stroke="#333" stroke-width="0.6" />
<path d="M386.24,84.93 A1.52,1.52 0 0 1 384.44,84.17" stroke="#333" stroke-width="0.55" fill="none" />
<path d="M387.00,80.60 Q383.67,80.18 383.99,76.61" stroke="#333" stroke-width="0.85" fill="none" />
<path d="M387.00,80.60 Q386.21,78.95 383.99,76.61" stroke="#333" stroke-width="0.6" fill="none" />
<line x1="384.44" y1="79.60" x2="381.77" y2="79.41" stroke="#333" stroke-width="0.7" />
<line x1="384.32" y1="78.59" x2="382.65" y2="77.78" stroke="#333" stroke-width="0.6" />
<path d="M382.61,80.71 A1.52,1.52 0 0 1 383.00,78.79" stroke="#333" stroke-width="0.55" fill="none" />
<path d="M387.00,80.60 Q386.30,77.32 389.78,76.44" stroke="#333" stroke-width="0.85" fill="none" />
<path d="M387.00,80.60 Q388.30,79.31 389.78,76.44" stroke="#333" stroke-width="0.6" fill="none" />
<line x1="387.11" y1="77.86" x2="386.41" y2="75.26" stroke="#333" stroke-width="0.7" />
<line x1="388.02" y1="77.41" x2="388.23" y2="75.56" stroke="#333" stroke-width="0.6" />
<path d="M385.45,76.49 A1.52,1.52 0 0 1 387.40,76.23" stroke="#333" stroke-width="0.55" fill="none" />
<path d="M390.00,95.31 A1.81,1.81 0 0 1 386.27,95.44 A1.81,1.81 0 0 1 383.84,92.60 A1.81,1.81 0 0 1 384.55,88.94 A1.81,1.81 0 0 1 387.85,87.20 A1.81,1.81 0 0 1 391.27,88.70 A1.81,1.81 0 0 1 392.22,92.31 A1.81,1.81 0 0 1 390.00,95.31 " stroke="#333" stroke-width="0.85" fill="none" />
<path d="M388.00,91.50 Q389.18,93.55 387.04,94.89" stroke="#333" stroke-width="0.85" fill="none" />
<path d="M388.00,91.50 Q387.41,92.65 387.04,94.89" stroke="#333" stroke-width="0.6" fill="none" />
<line x1="388.52" y1="93.36" x2="389.56" y2="94.95" stroke="#333" stroke-width="0.7" />
<line x1="388.01" y1="93.86" x2="388.27" y2="95.15" stroke="#333" stroke-width="0.6" />
<path d="M389.93,93.92 A1.07,1.07 0 0 1 388.69,94.52" stroke="#333" stroke-width="0.55" fill="none" />
<path d="M388.00,91.50 Q386.53,93.35 384.49,91.85" stroke="#333" stroke-width="0.85" fill="none" />
<path d="M388.00,91.50 Q386.72,91.37 384.49,91.85" stroke="#333" stroke-width="0.6" fill="none" />
<line x1="386.46" y1="92.67" x2="385.37" y2="94.22" stroke="#333" stroke-width="0.7" />
<line x1="385.80" y1="92.38" x2="384.71" y2="93.09" stroke="#333" stroke-width="0.6" />
<path d="M386.46,94.19 A1.07,1.07 0 0 1 385.45,93.25" stroke="#333" stroke-width="0.55" fill="none" />
<path d="M388.00,91.50 Q385.85,90.52 386.81,88.18" stroke="#333" stroke-width="0.85" fill="none" />
<path d="M388.00,91.50 Q387.81,90.22 386.81,88.18" stroke="#333" stroke-width="0.6" fill="none" />
<line x1="386.49" y1="90.29" x2="384.73" y2="89.60" stroke="#333" stroke-width="0.7" />
<line x1="386.62" y1="89.58" x2="385.66" y2="88.69" stroke="#333" stroke-width="0.6" />
<path d="M385.02,90.66 A1.07,1.07 0 0 1 385.68,89.45" stroke="#333" stroke-width="0.55" fill="none" />
<path d="M388.00,91.50 Q388.25,89.15 390.78,89.33" stroke="#333" stroke-width="0.85" fill="none" />
<path d="M388.00,91.50 Q389.15,90.92 390.78,89.33" stroke="#333" stroke-width="0.6" fill="none" />
<line x1="388.68" y1="89.69" x2="388.78" y2="87.80" stroke="#333" stroke-width="0.7" />
<line x1="389.39" y1="89.58" x2="389.93" y2="88.40" stroke="#333" stroke-width="0.6" />
<path d="M387.87,88.41 A1.07,1.07 0 0 1 389.22,88.66" stroke="#333" stroke-width="0.55" fill="none" />
<path d="M388.00,91.50 Q390.27,90.84 391.07,93.24" stroke="#333" stroke-width="0.85" fill="none" />
<path d="M388.00,91.50 Q388.97,92.35 391.07,93.24" stroke="#333" stroke-width="0.6" fill="none" />
<line x1="389.93" y1="91.43" x2="391.72" y2="90.81" stroke="#333" stroke-width="0.7" />
<line x1="390.30" y1="92.05" x2="391.60" y2="92.10" stroke="#333" stroke-width="0.6" />
<path d="M390.81,90.20 A1.07,1.07 0 0 1 391.10,91.55" stroke="#333" stroke-width="0.55" fill="none" />
<path d="M387.20,112.10 A2.56,2.56 0 0 1 383.23,110.80 A2.56,2.56 0 0 1 381.03,107.26 A2.56,2.56 0 0 1 381.62,103.13 A2.56,2.56 0 0 1 384.73,100.34 A2.56,2.56 0 0 1 388.90,100.20 A2.56,2.56 0 0 1 392.18,102.78 A2.56,2.56 0 0 1 393.04,106.86 A2.56,2.56 0 0 1 391.07,110.54 A2.56,2.56 0 0 1 387.20,112.10 " stroke="#333" stroke-width="0.85" fill="none" />
<path d="M387.00,106.00 Q387.76,109.27 384.30,110.21" stroke="#333" stroke-width="0.85" fill="none" />
<path d="M387.00,106.00 Q385.73,107.31 384.30,110.21" stroke="#333" stroke-width="0.6" fill="none" />
<line x1="386.94" y1="108.74" x2="387.69" y2="111.32" stroke="#333" stroke-width="0.7" />
<line x1="386.04" y1="109.21" x2="385.87" y2="111.06" stroke="#333" stroke-width="0.6" />
<path d="M388.63,110.08 A1.52,1.52 0 0 1 386.69,110.38" stroke="#333" stroke-width="0.55" fill="none" />
<path d="M387.00,106.00 Q383.93,107.36 382.36,104.13" stroke="#333" stroke-width="0.85" fill="none" />
<path d="M387.00,106.00 Q385.47,104.99 382.36,104.13" stroke="#333" stroke-width="0.6" fill="none" />
<line x1="384.29" y1="106.45" x2="381.90" y2="107.67" stroke="#333" stroke-width="0.7" />
<line x1="383.66" y1="105.65" x2="381.82" y2="105.82" stroke="#333" stroke-width="0.6" />
<path d="M383.29,108.35 A1.52,1.52 0 0 1 382.64,106.51" stroke="#333" stroke-width="0.55" fill="none" />
<path d="M387.00,106.00 Q384.52,103.74 386.83,101.00" stroke="#333" stroke-width="0.85" fill="none" />
<path d="M387.00,106.00 Q387.30,104.20 386.83,101.00" stroke="#333" stroke-width="0.6" fill="none" />
<line x1="385.49" y1="103.71" x2="383.41" y2="102.01" stroke="#333" stroke-width="0.7" />
<line x1="385.97" y1="102.81" x2="385.06" y2="101.19" stroke="#333" stroke-width="0.6" />
<path d="M383.34,103.57 A1.52,1.52 0 0 1 384.77,102.22" stroke="#333" stroke-width="0.55" fill="none" />
<path d="M387.00,106.00 Q388.80,103.17 391.90,104.99" stroke="#333" stroke-width="0.85" fill="none" />
<path d="M387.00,106.00 Q388.83,105.99 391.90,104.99" stroke="#333" stroke-width="0.6" fill="none" />
<line x1="389.00" y1="104.12" x2="390.32" y2="101.78" stroke="#333" stroke-width="0.7" />
<line x1="389.97" y1="104.44" x2="391.41" y2="103.27" stroke="#333" stroke-width="0.6" />
<path d="M388.78,101.98 A1.52,1.52 0 0 1 390.35,103.16" stroke="#333" stroke-width="0.55" fill="none" />
<path d="M387.00,106.00 Q390.26,106.80 389.52,110.32" stroke="#333" stroke-width="0.85" fill="none" />
<path d="M387.00,106.00 Q387.59,107.73 389.52,110.32" stroke="#333" stroke-width="0.6" fill="none" />
<line x1="389.42" y1="107.30" x2="392.06" y2="107.80" stroke="#333" stroke-width="0.7" />
<line x1="389.43" y1="108.32" x2="390.99" y2="109.31" stroke="#333" stroke-width="0.6" />
<path d="M391.37,106.40 A1.52,1.52 0 0 1 390.76,108.26" stroke="#333" stroke-width="0.55" fill="none" />
<path d="M389.76,112.58 A1.81,1.81 0 0 1 392.16,115.43 A1.81,1.81 0 0 1 391.43,119.09 A1.81,1.81 0 0 1 388.12,120.80 A1.81,1.81 0 0 1 384.71,119.27 A1.81,1.81 0 0 1 383.78,115.66 A1.81,1.81 0 0 1 386.03,112.68 A1.81,1.81 0 0 1 389.76,112.58 " stroke="#333" stroke-width="0.85" fill="none" />
<path d="M388.00,116.50 Q388.58,114.21 391.06,114.74" stroke="#333" stroke-width="0.85" fill="none" />
<path d="M388.00,116.50 Q389.22,116.09 391.06,114.74" stroke="#333" stroke-width="0.6" fill="none" />
<line x1="388.93" y1="114.80" x2="389.30" y2="112.94" stroke="#333" stroke-width="0.7" />
<line x1="389.65" y1="114.80" x2="390.35" y2="113.70" stroke="#333" stroke-width="0.6" />
<path d="M388.31,113.42 A1.07,1.07 0 0 1 389.62,113.86" stroke="#333" stroke-width="0.55" fill="none" />
<path d="M388.00,116.50 Q390.36,116.65 390.29,119.18" stroke="#333" stroke-width="0.85" fill="none" />
<path d="M388.00,116.50 Q388.63,117.63 390.29,119.18" stroke="#333" stroke-width="0.6" fill="none" />
<line x1="389.84" y1="117.10" x2="391.73" y2="117.12" stroke="#333" stroke-width="0.7" />
<line x1="389.97" y1="117.80" x2="391.18" y2="118.30" stroke="#333" stroke-width="0.6" />
<path d="M391.08,116.23 A1.07,1.07 0 0 1 390.89,117.60" stroke="#333" stroke-width="0.55" fill="none" />
<path d="M388.00,116.50 Q388.87,118.70 386.55,119.72" stroke="#333" stroke-width="0.85" fill="none" />
<path d="M388.00,116.50 Q387.25,117.55 386.55,119.72" stroke="#333" stroke-width="0.6" fill="none" />
<line x1="388.25" y1="118.42" x2="389.04" y2="120.14" stroke="#333" stroke-width="0.7" />
<line x1="387.66" y1="118.84" x2="387.73" y2="120.15" stroke="#333" stroke-width="0.6" />
<path d="M389.56,119.18 A1.07,1.07 0 0 1 388.24,119.59" stroke="#333" stroke-width="0.55" fill="none" />
<path d="M388.00,116.50 Q385.97,117.71 384.60,115.58" stroke="#333" stroke-width="0.85" fill="none" />
<path d="M388.00,116.50 Q386.85,115.92 384.60,115.58" stroke="#333" stroke-width="0.6" fill="none" />
<line x1="386.14" y1="117.04" x2="384.57" y2="118.10" stroke="#333" stroke-width="0.7" />
<line x1="385.64" y1="116.54" x2="384.36" y2="116.81" stroke="#333" stroke-width="0.6" />
<path d="M385.60,118.46 A1.07,1.07 0 0 1 384.99,117.22" stroke="#333" stroke-width="0.55" fill="none" />
<path d="M388.00,116.50 Q386.05,115.16 387.41,113.02" stroke="#333" stroke-width="0.85" fill="none" />
<path d="M388.00,116.50 Q388.04,115.21 387.41,113.02" stroke="#333" stroke-width="0.6" fill="none" />
<line x1="386.73" y1="115.04" x2="385.11" y2="114.05" stroke="#333" stroke-width="0.7" />
<line x1="386.98" y1="114.37" x2="386.19" y2="113.32" stroke="#333" stroke-width="0.6" />
<path d="M385.22,115.14 A1.07,1.07 0 0 1 386.08,114.07" stroke="#333" stroke-width="0.55" fill="none" />
<path d="M386.61,128.41 A1.81,1.81 0 0 1 382.96,129.17 A1.81,1.81 0 0 1 380.09,126.79 A1.81,1.81 0 0 1 380.16,123.06 A1.81,1.81 0 0 1 383.13,120.79 A1.81,1.81 0 0 1 386.75,121.69 A1.81,1.81 0 0 1 388.30,125.09 A1.81,1.81 0 0 1 386.61,128.41 " stroke="#333" stroke-width="0.85" fill="none" />
<path d="M384.00,125.00 Q385.57,126.76 383.75,128.52" stroke="#333" stroke-width="0.85" fill="none" />
<path d="M384.00,125.00 Q383.65,126.24 383.75,128.52" stroke="#333" stroke-width="0.6" fill="none" />
<line x1="384.89" y1="126.72" x2="386.22" y2="128.06" stroke="#333" stroke-width="0.7" />
<line x1="384.49" y1="127.31" x2="385.00" y2="128.51" stroke="#333" stroke-width="0.6" />
<path d="M386.38,126.98 A1.07,1.07 0 0 1 385.29,127.82" stroke="#333" stroke-width="0.55" fill="none" />
<path d="M384.00,125.00 Q382.95,127.12 380.64,126.08" stroke="#333" stroke-width="0.85" fill="none" />
<path d="M384.00,125.00 Q382.72,125.14 380.64,126.08" stroke="#333" stroke-width="0.6" fill="none" />
<line x1="382.74" y1="126.47" x2="381.99" y2="128.21" stroke="#333" stroke-width="0.7" />
<line x1="382.04" y1="126.32" x2="381.12" y2="127.25" stroke="#333" stroke-width="0.6" />
<path d="M383.06,127.95 A1.07,1.07 0 0 1 381.87,127.25" stroke="#333" stroke-width="0.55" fill="none" />
<path d="M384.00,125.00 Q381.66,124.64 381.96,122.12" stroke="#333" stroke-width="0.85" fill="none" />
<path d="M384.00,125.00 Q383.48,123.82 381.96,122.12" stroke="#333" stroke-width="0.6" fill="none" />
<line x1="382.22" y1="124.24" x2="380.34" y2="124.05" stroke="#333" stroke-width="0.7" />
<line x1="382.15" y1="123.52" x2="380.99" y2="122.93" stroke="#333" stroke-width="0.6" />
<path d="M380.90,124.99 A1.07,1.07 0 0 1 381.22,123.64" stroke="#333" stroke-width="0.55" fill="none" />
<path d="M384.00,125.00 Q383.84,122.64 386.36,122.38" stroke="#333" stroke-width="0.85" fill="none" />
<path d="M384.00,125.00 Q385.04,124.23 386.36,122.38" stroke="#333" stroke-width="0.6" fill="none" />
<line x1="384.35" y1="123.10" x2="384.13" y2="121.22" stroke="#333" stroke-width="0.7" />
<line x1="385.04" y1="122.87" x2="385.37" y2="121.61" stroke="#333" stroke-width="0.6" />
<path d="M383.33,121.98 A1.07,1.07 0 0 1 384.72,121.99" stroke="#333" stroke-width="0.55" fill="none" />
<path d="M384.00,125.00 Q386.19,124.10 387.23,126.41" stroke="#333" stroke-width="0.85" fill="none" />
<path d="M384.00,125.00 Q385.06,125.74 387.23,126.41" stroke="#333" stroke-width="0.6" fill="none" />
<line x1="385.92" y1="124.73" x2="387.63" y2="123.92" stroke="#333" stroke-width="0.7" />
<line x1="386.34" y1="125.31" x2="387.65" y2="125.22" stroke="#333" stroke-width="0.6" />
<path d="M386.66,123.41 A1.07,1.07 0 0 1 387.08,124.72" stroke="#333" stroke-width="0.55" fill="none" />
<path d="M384.63,141.60 A2.52,2.52 0 0 1 380.77,140.22 A2.52,2.52 0 0 1 378.70,136.68 A2.52,2.52 0 0 1 379.39,132.63 A2.52,2.52 0 0 1 382.52,129.97 A2.52,2.52 0 0 1 386.62,129.95 A2.52,2.52 0 0 1 389.78,132.57 A2.52,2.52 0 0 1 390.51,136.61 A2.52,2.52 0 0 1 388.48,140.17 A2.52,2.52 0 0 1 384.63,141.60 " stroke="#333" stroke-width="0.85" fill="none" />
<path d="M384.60,135.60 Q384.84,138.89 381.33,139.28" stroke="#333" stroke-width="0.85" fill="none" />
<path d="M384.60,135.60 Q383.16,136.68 381.33,139.28" stroke="#333" stroke-width="0.6" fill="none" />
<line x1="384.13" y1="138.26" x2="384.46" y2="140.88" stroke="#333" stroke-width="0.7" />
<line x1="383.18" y1="138.58" x2="382.73" y2="140.34" stroke="#333" stroke-width="0.6" />
<path d="M385.56,139.81 A1.50,1.50 0 0 1 383.63,139.81" stroke="#333" stroke-width="0.55" fill="none" />
<path d="M384.60,135.60 Q381.48,136.66 380.22,133.36" stroke="#333" stroke-width="0.85" fill="none" />
<path d="M384.60,135.60 Q383.19,134.48 380.22,133.36" stroke="#333" stroke-width="0.6" fill="none" />
<line x1="381.91" y1="135.81" x2="379.46" y2="136.79" stroke="#333" stroke-width="0.7" />
<line x1="381.36" y1="134.97" x2="379.54" y2="134.98" stroke="#333" stroke-width="0.6" />
<path d="M380.76,137.59 A1.50,1.50 0 0 1 380.28,135.72" stroke="#333" stroke-width="0.55" fill="none" />
<path d="M384.60,135.60 Q382.51,133.04 385.17,130.71" stroke="#333" stroke-width="0.85" fill="none" />
<path d="M384.60,135.60 Q385.16,133.89 385.17,130.71" stroke="#333" stroke-width="0.6" fill="none" />
<line x1="383.46" y1="133.15" x2="381.69" y2="131.19" stroke="#333" stroke-width="0.7" />
<line x1="384.06" y1="132.34" x2="383.42" y2="130.64" stroke="#333" stroke-width="0.6" />
<path d="M381.40,132.70 A1.50,1.50 0 0 1 382.98,131.59" stroke="#333" stroke-width="0.55" fill="none" />
<path d="M384.60,135.60 Q386.35,132.80 389.41,134.57" stroke="#333" stroke-width="0.85" fill="none" />
<path d="M384.60,135.60 Q386.40,135.58 389.41,134.57" stroke="#333" stroke-width="0.6" fill="none" />
<line x1="386.55" y1="133.74" x2="387.83" y2="131.43" stroke="#333" stroke-width="0.7" />
<line x1="387.51" y1="134.04" x2="388.92" y2="132.88" stroke="#333" stroke-width="0.6" />
<path d="M386.32,131.64 A1.50,1.50 0 0 1 387.87,132.78" stroke="#333" stroke-width="0.55" fill="none" />
<path d="M384.60,135.60 Q387.75,136.59 386.81,140.00" stroke="#333" stroke-width="0.85" fill="none" />
<path d="M384.60,135.60 Q385.07,137.34 386.81,140.00" stroke="#333" stroke-width="0.6" fill="none" />
<line x1="386.89" y1="137.02" x2="389.45" y2="137.68" stroke="#333" stroke-width="0.7" />
<line x1="386.84" y1="138.03" x2="388.31" y2="139.10" stroke="#333" stroke-width="0.6" />
<path d="M388.87,136.27 A1.50,1.50 0 0 1 388.15,138.06" stroke="#333" stroke-width="0.55" fill="none" />
<path d="M387.25,150.79 A1.81,1.81 0 0 1 383.80,149.37 A1.81,1.81 0 0 1 382.76,145.79 A1.81,1.81 0 0 1 384.91,142.74 A1.81,1.81 0 0 1 388.64,142.53 A1.81,1.81 0 0 1 391.13,145.30 A1.81,1.81 0 0 1 390.51,148.98 A1.81,1.81 0 0 1 387.25,150.79 " stroke="#333" stroke-width="0.85" fill="none" />
<path d="M387.00,146.50 Q387.36,148.84 384.87,149.31" stroke="#333" stroke-width="0.85" fill="none" />
<path d="M387.00,146.50 Q386.03,147.35 384.87,149.31" stroke="#333" stroke-width="0.6" fill="none" />
<line x1="386.81" y1="148.43" x2="387.20" y2="150.28" stroke="#333" stroke-width="0.7" />
<line x1="386.15" y1="148.71" x2="385.93" y2="150.00" stroke="#333" stroke-width="0.6" />
<path d="M387.92,149.45 A1.07,1.07 0 0 1 386.55,149.56" stroke="#333" stroke-width="0.55" fill="none" />
<path d="M387.00,146.50 Q384.91,147.61 383.64,145.42" stroke="#333" stroke-width="0.85" fill="none" />
<path d="M387.00,146.50 Q385.88,145.87 383.64,145.42" stroke="#333" stroke-width="0.6" fill="none" />
<line x1="385.12" y1="146.96" x2="383.50" y2="147.93" stroke="#333" stroke-width="0.7" />
<line x1="384.64" y1="146.42" x2="383.35" y2="146.64" stroke="#333" stroke-width="0.6" />
<path d="M384.51,148.34 A1.07,1.07 0 0 1 383.96,147.08" stroke="#333" stroke-width="0.55" fill="none" />
<path d="M387.00,146.50 Q385.48,144.69 387.36,142.99" stroke="#333" stroke-width="0.85" fill="none" />
<path d="M387.00,146.50 Q387.38,145.27 387.36,142.99" stroke="#333" stroke-width="0.6" fill="none" />
<line x1="386.16" y1="144.76" x2="384.87" y2="143.37" stroke="#333" stroke-width="0.7" />
<line x1="386.58" y1="144.17" x2="386.10" y2="142.96" stroke="#333" stroke-width="0.6" />
<path d="M384.68,144.45 A1.07,1.07 0 0 1 385.80,143.65" stroke="#333" stroke-width="0.55" fill="none" />
<path d="M387.00,146.50 Q388.12,144.41 390.39,145.53" stroke="#333" stroke-width="0.85" fill="none" />
<path d="M387.00,146.50 Q388.29,146.40 390.39,145.53" stroke="#333" stroke-width="0.6" fill="none" />
<line x1="388.31" y1="145.07" x2="389.11" y2="143.36" stroke="#333" stroke-width="0.7" />
<line x1="389.00" y1="145.24" x2="389.95" y2="144.35" stroke="#333" stroke-width="0.6" />
<path d="M388.04,143.58 A1.07,1.07 0 0 1 389.20,144.32" stroke="#333" stroke-width="0.55" fill="none" />
<path d="M387.00,146.50 Q389.35,146.72 389.21,149.25" stroke="#333" stroke-width="0.85" fill="none" />
<path d="M387.00,146.50 Q387.59,147.65 389.21,149.25" stroke="#333" stroke-width="0.6" fill="none" />
<line x1="388.82" y1="147.15" x2="390.71" y2="147.23" stroke="#333" stroke-width="0.7" />
<line x1="388.93" y1="147.86" x2="390.13" y2="148.39" stroke="#333" stroke-width="0.6" />
<path d="M390.09,146.33 A1.07,1.07 0 0 1 389.86,147.69" stroke="#333" stroke-width="0.55" fill="none" />
<path d="M393.20,154.91 A1.81,1.81 0 0 1 390.91,157.85 A1.81,1.81 0 0 1 387.17,157.89 A1.81,1.81 0 0 1 384.82,155.00 A1.81,1.81 0 0 1 385.61,151.35 A1.81,1.81 0 0 1 388.96,149.70 A1.81,1.81 0 0 1 392.33,151.28 A1.81,1.81 0 0 1 393.20,154.91 " stroke="#333" stroke-width="0.85" fill="none" />
<path d="M389.00,154.00 Q391.35,154.27 391.15,156.79" stroke="#333" stroke-width="0.85" fill="none" />
<path d="M389.00,154.00 Q389.57,155.16 391.15,156.79" stroke="#333" stroke-width="0.6" fill="none" />
<line x1="390.81" y1="154.69" x2="392.70" y2="154.81" stroke="#333" stroke-width="0.7" />
<line x1="390.90" y1="155.40" x2="392.09" y2="155.96" stroke="#333" stroke-width="0.6" />
<path d="M392.09,153.89 A1.07,1.07 0 0 1 391.83,155.25" stroke="#333" stroke-width="0.55" fill="none" />
<path d="M389.00,154.00 Q389.67,156.27 387.27,157.07" stroke="#333" stroke-width="0.85" fill="none" />
<path d="M389.00,154.00 Q388.15,154.97 387.27,157.07" stroke="#333" stroke-width="0.6" fill="none" />
<line x1="389.07" y1="155.93" x2="389.70" y2="157.72" stroke="#333" stroke-width="0.7" />
<line x1="388.45" y1="156.30" x2="388.40" y2="157.61" stroke="#333" stroke-width="0.6" />
<path d="M390.31,156.81 A1.07,1.07 0 0 1 388.96,157.10" stroke="#333" stroke-width="0.55" fill="none" />
<path d="M389.00,154.00 Q387.05,155.33 385.54,153.30" stroke="#333" stroke-width="0.85" fill="none" />
<path d="M389.00,154.00 Q387.81,153.50 385.54,153.30" stroke="#333" stroke-width="0.6" fill="none" />
<line x1="387.18" y1="154.66" x2="385.68" y2="155.81" stroke="#333" stroke-width="0.7" />
<line x1="386.64" y1="154.19" x2="385.39" y2="154.54" stroke="#333" stroke-width="0.6" />
<path d="M386.73,156.11 A1.07,1.07 0 0 1 386.04,154.91" stroke="#333" stroke-width="0.55" fill="none" />
<path d="M389.00,154.00 Q387.12,152.57 388.57,150.50" stroke="#333" stroke-width="0.85" fill="none" />
<path d="M389.00,154.00 Q389.10,152.71 388.57,150.50" stroke="#333" stroke-width="0.6" fill="none" />
<line x1="387.80" y1="152.49" x2="386.23" y2="151.42" stroke="#333" stroke-width="0.7" />
<line x1="388.08" y1="151.82" x2="387.34" y2="150.74" stroke="#333" stroke-width="0.6" />
<path d="M386.28,152.52 A1.07,1.07 0 0 1 387.20,151.48" stroke="#333" stroke-width="0.55" fill="none" />
<path d="M389.00,154.00 Q390.15,151.93 392.40,153.08" stroke="#333" stroke-width="0.85" fill="none" />
<path d="M389.00,154.00 Q390.29,153.92 392.40,153.08" stroke="#333" stroke-width="0.6" fill="none" />
<line x1="390.33" y1="152.59" x2="391.15" y2="150.89" stroke="#333" stroke-width="0.7" />
<line x1="391.02" y1="152.77" x2="391.99" y2="151.89" stroke="#333" stroke-width="0.6" />
<path d="M390.08,151.10 A1.07,1.07 0 0 1 391.23,151.86" stroke="#333" stroke-width="0.55" fill="none" />
<path d="M392.71,164.86 A2.52,2.52 0 0 1 390.18,168.09 A2.52,2.52 0 0 1 386.16,168.94 A2.52,2.52 0 0 1 382.54,167.01 A2.52,2.52 0 0 1 381.00,163.21 A2.52,2.52 0 0 1 382.27,159.30 A2.52,2.52 0 0 1 385.76,157.13 A2.52,2.52 0 0 1 389.82,157.70 A2.52,2.52 0 0 1 392.56,160.75 A2.52,2.52 0 0 1 392.71,164.86 " stroke="#333" stroke-width="0.85" fill="none" />
<path d="M387.00,163.00 Q390.25,163.55 389.80,167.05" stroke="#333" stroke-width="0.85" fill="none" />
<path d="M387.00,163.00 Q387.71,164.65 389.80,167.05" stroke="#333" stroke-width="0.6" fill="none" />
<line x1="389.47" y1="164.09" x2="392.09" y2="164.39" stroke="#333" stroke-width="0.7" />
<line x1="389.55" y1="165.09" x2="391.16" y2="165.95" stroke="#333" stroke-width="0.6" />
<path d="M391.32,163.07 A1.50,1.50 0 0 1 390.86,164.94" stroke="#333" stroke-width="0.55" fill="none" />
<path d="M387.00,163.00 Q387.32,166.28 383.82,166.75" stroke="#333" stroke-width="0.85" fill="none" />
<path d="M387.00,163.00 Q385.59,164.11 383.82,166.75" stroke="#333" stroke-width="0.6" fill="none" />
<line x1="386.59" y1="165.67" x2="386.98" y2="168.28" stroke="#333" stroke-width="0.7" />
<line x1="385.64" y1="166.01" x2="385.23" y2="167.78" stroke="#333" stroke-width="0.6" />
<path d="M388.05,167.19 A1.50,1.50 0 0 1 386.13,167.23" stroke="#333" stroke-width="0.55" fill="none" />
<path d="M387.00,163.00 Q383.89,164.10 382.59,160.82" stroke="#333" stroke-width="0.85" fill="none" />
<path d="M387.00,163.00 Q385.58,161.90 382.59,160.82" stroke="#333" stroke-width="0.6" fill="none" />
<line x1="384.31" y1="163.24" x2="381.87" y2="164.25" stroke="#333" stroke-width="0.7" />
<line x1="383.75" y1="162.41" x2="381.93" y2="162.44" stroke="#333" stroke-width="0.6" />
<path d="M383.19,165.03 A1.50,1.50 0 0 1 382.68,163.17" stroke="#333" stroke-width="0.55" fill="none" />
<path d="M387.00,163.00 Q384.85,160.50 387.45,158.10" stroke="#333" stroke-width="0.85" fill="none" />
<path d="M387.00,163.00 Q387.52,161.28 387.45,158.10" stroke="#333" stroke-width="0.6" fill="none" />
<line x1="385.80" y1="160.58" x2="383.98" y2="158.67" stroke="#333" stroke-width="0.7" />
<line x1="386.38" y1="159.76" x2="385.69" y2="158.07" stroke="#333" stroke-width="0.6" />
<path d="M383.73,160.18 A1.50,1.50 0 0 1 385.28,159.04" stroke="#333" stroke-width="0.55" fill="none" />
<path d="M387.00,163.00 Q388.72,160.18 391.80,161.91" stroke="#333" stroke-width="0.85" fill="none" />
<path d="M387.00,163.00 Q388.80,162.96 391.80,161.91" stroke="#333" stroke-width="0.6" fill="none" />
<line x1="388.93" y1="161.11" x2="390.19" y2="158.79" stroke="#333" stroke-width="0.7" />
<line x1="389.89" y1="161.41" x2="391.29" y2="160.24" stroke="#333" stroke-width="0.6" />
<path d="M388.67,159.02 A1.50,1.50 0 0 1 390.24,160.14" stroke="#333" stroke-width="0.55" fill="none" />
<path d="M385.64,176.97 A1.81,1.81 0 0 1 381.92,176.76 A1.81,1.81 0 0 1 379.76,173.72 A1.81,1.81 0 0 1 380.80,170.13 A1.81,1.81 0 0 1 384.24,168.71 A1.81,1.81 0 0 1 387.51,170.51 A1.81,1.81 0 0 1 388.13,174.19 A1.81,1.81 0 0 1 385.64,176.97 " stroke="#333" stroke-width="0.85" fill="none" />
<path d="M384.00,173.00 Q385.19,175.04 383.06,176.40" stroke="#333" stroke-width="0.85" fill="none" />
<path d="M384.00,173.00 Q383.42,174.15 383.06,176.40" stroke="#333" stroke-width="0.6" fill="none" />
<line x1="384.53" y1="174.86" x2="385.58" y2="176.44" stroke="#333" stroke-width="0.7" />
<line x1="384.02" y1="175.36" x2="384.29" y2="176.64" stroke="#333" stroke-width="0.6" />
<path d="M385.95,175.41 A1.07,1.07 0 0 1 384.70,176.01" stroke="#333" stroke-width="0.55" fill="none" />
<path d="M384.00,173.00 Q382.21,174.55 380.49,172.70" stroke="#333" stroke-width="0.85" fill="none" />
<path d="M384.00,173.00 Q382.76,172.64 380.49,172.70" stroke="#333" stroke-width="0.6" fill="none" />
<line x1="382.27" y1="173.87" x2="380.91" y2="175.18" stroke="#333" stroke-width="0.7" />
<line x1="381.68" y1="173.46" x2="380.47" y2="173.96" stroke="#333" stroke-width="0.6" />
<path d="M381.99,175.36 A1.07,1.07 0 0 1 381.17,174.25" stroke="#333" stroke-width="0.55" fill="none" />
<path d="M384.00,173.00 Q381.87,171.97 382.89,169.65" stroke="#333" stroke-width="0.85" fill="none" />
<path d="M384.00,173.00 Q383.85,171.72 382.89,169.65" stroke="#333" stroke-width="0.6" fill="none" />
<line x1="382.52" y1="171.75" x2="380.78" y2="171.02" stroke="#333" stroke-width="0.7" />
<line x1="382.67" y1="171.05" x2="381.73" y2="170.13" stroke="#333" stroke-width="0.6" />
<path d="M381.04,172.08 A1.07,1.07 0 0 1 381.74,170.89" stroke="#333" stroke-width="0.55" fill="none" />
<path d="M384.00,173.00 Q384.27,170.65 386.80,170.85" stroke="#333" stroke-width="0.85" fill="none" />
<path d="M384.00,173.00 Q385.16,172.43 386.80,170.85" stroke="#333" stroke-width="0.6" fill="none" />
<line x1="384.69" y1="171.19" x2="384.81" y2="169.30" stroke="#333" stroke-width="0.7" />
<line x1="385.41" y1="171.10" x2="385.96" y2="169.92" stroke="#333" stroke-width="0.6" />
<path d="M383.90,169.91 A1.07,1.07 0 0 1 385.25,170.17" stroke="#333" stroke-width="0.55" fill="none" />
<path d="M384.00,173.00 Q386.29,172.40 387.02,174.82" stroke="#333" stroke-width="0.85" fill="none" />
<path d="M384.00,173.00 Q384.95,173.87 387.02,174.82" stroke="#333" stroke-width="0.6" fill="none" />
<line x1="385.93" y1="172.99" x2="387.74" y2="172.41" stroke="#333" stroke-width="0.7" />
<line x1="386.28" y1="173.61" x2="387.59" y2="173.70" stroke="#333" stroke-width="0.6" />
<path d="M386.84,171.77 A1.07,1.07 0 0 1 387.09,173.13" stroke="#333" stroke-width="0.55" fill="none" />
<path d="M386.21,183.27 A1.81,1.81 0 0 1 384.70,179.86 A1.81,1.81 0 0 1 386.43,176.55 A1.81,1.81 0 0 1 390.09,175.84 A1.81,1.81 0 0 1 392.93,178.26 A1.81,1.81 0 0 1 392.81,181.99 A1.81,1.81 0 0 1 389.82,184.22 A1.81,1.81 0 0 1 386.21,183.27 " stroke="#333" stroke-width="0.85" fill="none" />
<path d="M389.00,180.00 Q387.83,182.06 385.59,180.89" stroke="#333" stroke-width="0.85" fill="none" />
<path d="M389.00,180.00 Q387.71,180.07 385.59,180.89" stroke="#333" stroke-width="0.6" fill="none" />
<line x1="387.66" y1="181.40" x2="386.82" y2="183.09" stroke="#333" stroke-width="0.7" />
<line x1="386.97" y1="181.21" x2="385.99" y2="182.08" stroke="#333" stroke-width="0.6" />
<path d="M387.89,182.89 A1.07,1.07 0 0 1 386.75,182.12" stroke="#333" stroke-width="0.55" fill="none" />
<path d="M389.00,180.00 Q386.71,179.40 387.27,176.93" stroke="#333" stroke-width="0.85" fill="none" />
<path d="M389.00,180.00 Q388.60,178.77 387.27,176.93" stroke="#333" stroke-width="0.6" fill="none" />
<line x1="387.31" y1="179.06" x2="385.45" y2="178.68" stroke="#333" stroke-width="0.7" />
<line x1="387.31" y1="178.34" x2="386.22" y2="177.63" stroke="#333" stroke-width="0.6" />
<path d="M385.92,179.67 A1.07,1.07 0 0 1 386.37,178.36" stroke="#333" stroke-width="0.55" fill="none" />
<path d="M389.00,180.00 Q389.00,177.64 391.53,177.54" stroke="#333" stroke-width="0.85" fill="none" />
<path d="M389.00,180.00 Q390.08,179.30 391.53,177.54" stroke="#333" stroke-width="0.6" fill="none" />
<line x1="389.48" y1="178.12" x2="389.37" y2="176.23" stroke="#333" stroke-width="0.7" />
<line x1="390.17" y1="177.95" x2="390.59" y2="176.71" stroke="#333" stroke-width="0.6" />
<path d="M388.53,176.94 A1.07,1.07 0 0 1 389.91,177.04" stroke="#333" stroke-width="0.55" fill="none" />
<path d="M389.00,180.00 Q391.29,179.41 392.01,181.84" stroke="#333" stroke-width="0.85" fill="none" />
<path d="M389.00,180.00 Q389.95,180.88 392.01,181.84" stroke="#333" stroke-width="0.6" fill="none" />
<line x1="390.93" y1="179.99" x2="392.74" y2="179.42" stroke="#333" stroke-width="0.7" />
<line x1="391.28" y1="180.62" x2="392.58" y2="180.72" stroke="#333" stroke-width="0.6" />
<path d="M391.85,178.79 A1.07,1.07 0 0 1 392.09,180.15" stroke="#333" stroke-width="0.55" fill="none" />
<path d="M389.00,180.00 Q390.45,181.87 388.51,183.49" stroke="#333" stroke-width="0.85" fill="none" />
<path d="M389.00,180.00 Q388.57,181.22 388.51,183.49" stroke="#333" stroke-width="0.6" fill="none" />
<line x1="389.77" y1="181.77" x2="391.01" y2="183.20" stroke="#333" stroke-width="0.7" />
<line x1="389.33" y1="182.34" x2="389.77" y2="183.57" stroke="#333" stroke-width="0.6" />
<path d="M391.25,182.13 A1.07,1.07 0 0 1 390.09,182.90" stroke="#333" stroke-width="0.55" fill="none" />
<path d="M392.55,193.29 A2.52,2.52 0 0 1 389.78,196.32 A2.52,2.52 0 0 1 385.71,196.86 A2.52,2.52 0 0 1 382.24,194.66 A2.52,2.52 0 0 1 381.01,190.74 A2.52,2.52 0 0 1 382.57,186.95 A2.52,2.52 0 0 1 386.21,185.05 A2.52,2.52 0 0 1 390.22,185.94 A2.52,2.52 0 0 1 392.72,189.19 A2.52,2.52 0 0 1 392.55,193.29 " stroke="#333" stroke-width="0.85" fill="none" />
<path d="M387.00,191.00 Q390.07,192.20 388.90,195.54" stroke="#333" stroke-width="0.85" fill="none" />
<path d="M387.00,191.00 Q387.35,192.77 388.90,195.54" stroke="#333" stroke-width="0.6" fill="none" />
<line x1="389.19" y1="192.58" x2="391.70" y2="193.41" stroke="#333" stroke-width="0.7" />
<line x1="389.07" y1="193.57" x2="390.47" y2="194.74" stroke="#333" stroke-width="0.6" />
<path d="M391.21,191.96 A1.50,1.50 0 0 1 390.38,193.69" stroke="#333" stroke-width="0.55" fill="none" />
<path d="M387.00,191.00 Q386.92,194.30 383.39,194.34" stroke="#333" stroke-width="0.85" fill="none" />
<path d="M387.00,191.00 Q385.46,191.94 383.39,194.34" stroke="#333" stroke-width="0.6" fill="none" />
<line x1="386.27" y1="193.60" x2="386.35" y2="196.24" stroke="#333" stroke-width="0.7" />
<line x1="385.29" y1="193.82" x2="384.67" y2="195.54" stroke="#333" stroke-width="0.6" />
<path d="M387.55,195.29 A1.50,1.50 0 0 1 385.63,195.10" stroke="#333" stroke-width="0.55" fill="none" />
<path d="M387.00,191.00 Q383.86,192.01 382.66,188.68" stroke="#333" stroke-width="0.85" fill="none" />
<path d="M387.00,191.00 Q385.61,189.85 382.66,188.68" stroke="#333" stroke-width="0.6" fill="none" />
<line x1="384.30" y1="191.16" x2="381.84" y2="192.10" stroke="#333" stroke-width="0.7" />
<line x1="383.77" y1="190.31" x2="381.95" y2="190.29" stroke="#333" stroke-width="0.6" />
<path d="M383.13,192.92 A1.50,1.50 0 0 1 382.68,191.04" stroke="#333" stroke-width="0.55" fill="none" />
<path d="M387.00,191.00 Q384.86,188.49 387.46,186.10" stroke="#333" stroke-width="0.85" fill="none" />
<path d="M387.00,191.00 Q387.52,189.28 387.46,186.10" stroke="#333" stroke-width="0.6" fill="none" />
<line x1="385.81" y1="188.58" x2="383.99" y2="186.66" stroke="#333" stroke-width="0.7" />
<line x1="386.39" y1="187.76" x2="385.71" y2="186.07" stroke="#333" stroke-width="0.6" />
<path d="M383.74,188.17 A1.50,1.50 0 0 1 385.29,187.03" stroke="#333" stroke-width="0.55" fill="none" />
<path d="M387.00,191.00 Q388.72,188.18 391.80,189.91" stroke="#333" stroke-width="0.85" fill="none" />
<path d="M387.00,191.00 Q388.80,190.96 391.80,189.91" stroke="#333" stroke-width="0.6" fill="none" />
<line x1="388.93" y1="189.11" x2="390.19" y2="186.79" stroke="#333" stroke-width="0.7" />
<line x1="389.89" y1="189.41" x2="391.29" y2="188.23" stroke="#333" stroke-width="0.6" />
<path d="M388.67,187.02 A1.50,1.50 0 0 1 390.24,188.14" stroke="#333" stroke-width="0.55" fill="none" />
<path d="M387.55,204.53 A1.93,1.93 0 0 1 383.68,205.51 A1.93,1.93 0 0 1 380.50,203.09 A1.93,1.93 0 0 1 380.41,199.10 A1.93,1.93 0 0 1 383.47,196.54 A1.93,1.93 0 0 1 387.38,197.34 A1.93,1.93 0 0 1 389.20,200.89 A1.93,1.93 0 0 1 387.55,204.53 " stroke="#333" stroke-width="0.85" fill="none" />
<path d="M384.60,201.00 Q386.41,202.76 384.60,204.77" stroke="#333" stroke-width="0.85" fill="none" />
<path d="M384.60,201.00 Q384.33,202.35 384.60,204.77" stroke="#333" stroke-width="0.6" fill="none" />
<line x1="385.68" y1="202.77" x2="387.21" y2="204.10" stroke="#333" stroke-width="0.7" />
<line x1="385.30" y1="203.43" x2="385.94" y2="204.67" stroke="#333" stroke-width="0.6" />
<path d="M387.29,202.93 A1.15,1.15 0 0 1 386.19,203.91" stroke="#333" stroke-width="0.55" fill="none" />
<path d="M384.60,201.00 Q383.60,203.32 381.08,202.35" stroke="#333" stroke-width="0.85" fill="none" />
<path d="M384.60,201.00 Q383.24,201.23 381.08,202.35" stroke="#333" stroke-width="0.6" fill="none" />
<line x1="383.34" y1="202.64" x2="382.64" y2="204.54" stroke="#333" stroke-width="0.7" />
<line x1="382.58" y1="202.52" x2="381.65" y2="203.56" stroke="#333" stroke-width="0.6" />
<path d="M383.76,204.20 A1.15,1.15 0 0 1 382.45,203.52" stroke="#333" stroke-width="0.55" fill="none" />
<path d="M384.60,201.00 Q382.10,200.61 382.42,197.92" stroke="#333" stroke-width="0.85" fill="none" />
<path d="M384.60,201.00 Q384.04,199.74 382.42,197.92" stroke="#333" stroke-width="0.6" fill="none" />
<line x1="382.70" y1="200.18" x2="380.68" y2="199.98" stroke="#333" stroke-width="0.7" />
<line x1="382.62" y1="199.42" x2="381.38" y2="198.78" stroke="#333" stroke-width="0.6" />
<path d="M381.29,200.98 A1.15,1.15 0 0 1 381.62,199.54" stroke="#333" stroke-width="0.55" fill="none" />
<path d="M384.60,201.00 Q384.15,198.51 386.79,197.93" stroke="#333" stroke-width="0.85" fill="none" />
<path d="M384.60,201.00 Q385.61,200.06 386.79,197.93" stroke="#333" stroke-width="0.6" fill="none" />
<line x1="384.75" y1="198.94" x2="384.28" y2="196.96" stroke="#333" stroke-width="0.7" />
<line x1="385.45" y1="198.62" x2="385.65" y2="197.23" stroke="#333" stroke-width="0.6" />
<path d="M383.53,197.87 A1.15,1.15 0 0 1 385.00,197.71" stroke="#333" stroke-width="0.55" fill="none" />
<path d="M384.60,201.00 Q386.94,200.04 388.06,202.51" stroke="#333" stroke-width="0.85" fill="none" />
<path d="M384.60,201.00 Q385.73,201.79 388.06,202.51" stroke="#333" stroke-width="0.6" fill="none" />
<line x1="386.65" y1="200.72" x2="388.48" y2="199.85" stroke="#333" stroke-width="0.7" />
<line x1="387.11" y1="201.33" x2="388.50" y2="201.24" stroke="#333" stroke-width="0.6" />
<path d="M387.44,199.30 A1.15,1.15 0 0 1 387.90,200.71" stroke="#333" stroke-width="0.55" fill="none" />
<path d="M385.51,213.00 A1.68,1.68 0 0 1 382.38,211.51 A1.68,1.68 0 0 1 381.60,208.12 A1.68,1.68 0 0 1 383.75,205.40 A1.68,1.68 0 0 1 387.22,205.39 A1.68,1.68 0 0 1 389.40,208.10 A1.68,1.68 0 0 1 388.64,211.48 A1.68,1.68 0 0 1 385.51,213.00 " stroke="#333" stroke-width="0.85" fill="none" />
<path d="M385.50,209.00 Q385.68,211.19 383.34,211.47" stroke="#333" stroke-width="0.85" fill="none" />
<path d="M385.50,209.00 Q384.55,209.73 383.34,211.47" stroke="#333" stroke-width="0.6" fill="none" />
<line x1="385.19" y1="210.77" x2="385.43" y2="212.52" stroke="#333" stroke-width="0.7" />
<line x1="384.56" y1="210.99" x2="384.27" y2="212.17" stroke="#333" stroke-width="0.6" />
<path d="M386.16,211.80 A1.00,1.00 0 0 1 384.87,211.81" stroke="#333" stroke-width="0.55" fill="none" />
<path d="M385.50,209.00 Q383.49,209.90 382.45,207.80" stroke="#333" stroke-width="0.85" fill="none" />
<path d="M385.50,209.00 Q384.49,208.35 382.45,207.80" stroke="#333" stroke-width="0.6" fill="none" />
<line x1="383.73" y1="209.31" x2="382.16" y2="210.12" stroke="#333" stroke-width="0.7" />
<line x1="383.31" y1="208.79" x2="382.10" y2="208.91" stroke="#333" stroke-width="0.6" />
<path d="M383.08,210.56 A1.00,1.00 0 0 1 382.64,209.36" stroke="#333" stroke-width="0.55" fill="none" />
<path d="M385.50,209.00 Q383.88,207.51 385.40,205.72" stroke="#333" stroke-width="0.85" fill="none" />
<path d="M385.50,209.00 Q385.70,207.82 385.40,205.72" stroke="#333" stroke-width="0.6" fill="none" />
<line x1="384.51" y1="207.49" x2="383.16" y2="206.37" stroke="#333" stroke-width="0.7" />
<line x1="384.83" y1="206.90" x2="384.24" y2="205.84" stroke="#333" stroke-width="0.6" />
<path d="M383.11,207.39 A1.00,1.00 0 0 1 384.05,206.51" stroke="#333" stroke-width="0.55" fill="none" />
<path d="M385.50,209.00 Q386.46,207.02 388.61,207.97" stroke="#333" stroke-width="0.85" fill="none" />
<path d="M385.50,209.00 Q386.69,208.86 388.61,207.97" stroke="#333" stroke-width="0.6" fill="none" />
<line x1="386.66" y1="207.63" x2="387.35" y2="206.00" stroke="#333" stroke-width="0.7" />
<line x1="387.32" y1="207.76" x2="388.17" y2="206.89" stroke="#333" stroke-width="0.6" />
<path d="M386.36,206.25 A1.00,1.00 0 0 1 387.47,206.90" stroke="#333" stroke-width="0.55" fill="none" />
<path d="M385.50,209.00 Q387.66,209.41 387.31,211.74" stroke="#333" stroke-width="0.85" fill="none" />
<path d="M385.50,209.00 Q385.95,210.11 387.31,211.74" stroke="#333" stroke-width="0.6" fill="none" />
<line x1="387.13" y1="209.76" x2="388.88" y2="210.00" stroke="#333" stroke-width="0.7" />
<line x1="387.17" y1="210.43" x2="388.23" y2="211.02" stroke="#333" stroke-width="0.6" />
<path d="M388.38,209.11 A1.00,1.00 0 0 1 388.05,210.35" stroke="#333" stroke-width="0.55" fill="none" />
<rect x="237.00" y="83.70" width="21.00" height="5.60" stroke="#6a6a6a" stroke-width="0.6" fill="none" />
<rect x="232.40" y="84.70" width="4.60" height="3.70" stroke="#6a6a6a" stroke-width="0.6" fill="none" />
<rect x="258.00" y="84.70" width="4.00" height="3.70" stroke="#6a6a6a" stroke-width="0.6" fill="none" />
<rect x="194.00" y="102.50" width="11.00" height="25.00" stroke="#6a6a6a" stroke-width="0.7" fill="none" />
<rect x="212.50" y="102.50" width="9.00" height="25.00" stroke="#6a6a6a" stroke-width="0.7" fill="none" />
<rect x="231.00" y="106.00" width="32.50" height="16.00" stroke="#6a6a6a" stroke-width="0.7" fill="none" />
<rect x="234.00" y="102.50" width="26.50" height="22.70" stroke="#6a6a6a" stroke-width="0.7" fill="none" />
<rect x="272.50" y="102.50" width="9.00" height="25.00" stroke="#6a6a6a" stroke-width="0.7" fill="none" />
<rect x="290.00" y="102.50" width="9.00" height="25.00" stroke="#6a6a6a" stroke-width="0.7" fill="none" />
<g stroke="#282828" stroke-width="0.64">
<line x1="89.20" y1="137.5" x2="89.20" y2="227.4"/>
<line x1="92.95" y1="137.5" x2="92.95" y2="227.4"/>
<line x1="96.71" y1="137.5" x2="96.71" y2="227.4"/>
<line x1="100.46" y1="137.5" x2="100.46" y2="227.4"/>
<line x1="104.22" y1="137.5" x2="104.22" y2="227.4"/>
<line x1="107.97" y1="137.5" x2="107.97" y2="227.4"/>
<line x1="111.72" y1="137.5" x2="111.72" y2="227.4"/>
<line x1="115.48" y1="137.5" x2="115.48" y2="227.4"/>
<line x1="119.23" y1="137.5" x2="119.23" y2="227.4"/>
<line x1="122.98" y1="137.5" x2="122.98" y2="227.4"/>
<line x1="126.74" y1="137.5" x2="126.74" y2="227.4"/>
<line x1="130.49" y1="137.5" x2="130.49" y2="227.4"/>
<line x1="134.25" y1="137.5" x2="134.25" y2="227.4"/>
<line x1="138.00" y1="137.5" x2="138.00" y2="227.4"/>
<line x1="141.75" y1="137.5" x2="141.75" y2="227.4"/>
<line x1="145.51" y1="137.5" x2="145.51" y2="227.4"/>
<line x1="149.26" y1="137.5" x2="149.26" y2="227.4"/>
<line x1="153.02" y1="137.5" x2="153.02" y2="227.4"/>
<line x1="156.77" y1="137.5" x2="156.77" y2="227.4"/>
<line x1="160.52" y1="137.5" x2="160.52" y2="227.4"/>
<line x1="164.28" y1="137.5" x2="164.28" y2="227.4"/>
<line x1="168.03" y1="137.5" x2="168.03" y2="227.4"/>
<line x1="171.78" y1="137.5" x2="171.78" y2="227.4"/>
<line x1="175.54" y1="137.5" x2="175.54" y2="227.4"/>
<line x1="179.29" y1="137.5" x2="179.29" y2="227.4"/>
<line x1="183.05" y1="137.5" x2="183.05" y2="227.4"/>
<line x1="186.80" y1="137.5" x2="186.80" y2="227.4"/>
<line x1="190.55" y1="137.5" x2="190.55" y2="227.4"/>
<line x1="194.31" y1="137.5" x2="194.31" y2="227.4"/>
<line x1="198.06" y1="137.5" x2="198.06" y2="227.4"/>
<line x1="201.82" y1="137.5" x2="201.82" y2="227.4"/>
<line x1="205.57" y1="137.5" x2="205.57" y2="227.4"/>
<line x1="209.32" y1="137.5" x2="209.32" y2="227.4"/>
<line x1="213.08" y1="137.5" x2="213.08" y2="227.4"/>
<line x1="216.83" y1="137.5" x2="216.83" y2="227.4"/>
<line x1="220.58" y1="137.5" x2="220.58" y2="227.4"/>
<line x1="224.34" y1="137.5" x2="224.34" y2="227.4"/>
<line x1="228.09" y1="137.5" x2="228.09" y2="227.4"/>
<line x1="231.85" y1="137.5" x2="231.85" y2="227.4"/>
<line x1="235.60" y1="137.5" x2="235.60" y2="227.4"/>
<line x1="239.35" y1="137.5" x2="239.35" y2="227.4"/>
<line x1="243.11" y1="137.5" x2="243.11" y2="227.4"/>
<line x1="246.86" y1="137.5" x2="246.86" y2="227.4"/>
<line x1="250.62" y1="137.5" x2="250.62" y2="227.4"/>
<line x1="254.37" y1="137.5" x2="254.37" y2="227.4"/>
<line x1="258.12" y1="137.5" x2="258.12" y2="227.4"/>
<line x1="261.88" y1="137.5" x2="261.88" y2="227.4"/>
<line x1="265.63" y1="137.5" x2="265.63" y2="227.4"/>
<line x1="269.38" y1="137.5" x2="269.38" y2="227.4"/>
<line x1="273.14" y1="137.5" x2="273.14" y2="227.4"/>
<line x1="276.89" y1="137.5" x2="276.89" y2="227.4"/>
<line x1="280.65" y1="137.5" x2="280.65" y2="227.4"/>
<line x1="284.40" y1="137.5" x2="284.40" y2="227.4"/>
<line x1="288.15" y1="137.5" x2="288.15" y2="227.4"/>
<line x1="291.91" y1="137.5" x2="291.91" y2="227.4"/>
<line x1="295.66" y1="137.5" x2="295.66" y2="227.4"/>
<line x1="299.42" y1="137.5" x2="299.42" y2="227.4"/>
<line x1="303.17" y1="137.5" x2="303.17" y2="227.4"/>
<line x1="306.92" y1="137.5" x2="306.92" y2="227.4"/>
<line x1="310.68" y1="137.5" x2="310.68" y2="227.4"/>
<line x1="314.43" y1="137.5" x2="314.43" y2="227.4"/>
<line x1="318.18" y1="137.5" x2="318.18" y2="227.4"/>
<line x1="321.94" y1="137.5" x2="321.94" y2="227.4"/>
<line x1="325.69" y1="137.5" x2="325.69" y2="227.4"/>
<line x1="329.45" y1="137.5" x2="329.45" y2="227.4"/>
<line x1="333.20" y1="137.5" x2="333.20" y2="227.4"/>
<line x1="336.95" y1="137.5" x2="336.95" y2="227.4"/>
<line x1="340.71" y1="137.5" x2="340.71" y2="227.4"/>
<line x1="344.46" y1="137.5" x2="344.46" y2="227.4"/>
<line x1="348.22" y1="137.5" x2="348.22" y2="227.4"/>
<line x1="351.97" y1="137.5" x2="351.97" y2="227.4"/>
<line x1="355.72" y1="137.5" x2="355.72" y2="227.4"/>
<line x1="359.48" y1="137.5" x2="359.48" y2="227.4"/>
<line x1="363.23" y1="137.5" x2="363.23" y2="227.4"/>
<line x1="366.98" y1="137.5" x2="366.98" y2="227.4"/>
<line x1="370.74" y1="137.5" x2="370.74" y2="227.4"/>
<line x1="374.49" y1="137.5" x2="374.49" y2="227.4"/>
<line x1="378.25" y1="137.5" x2="378.25" y2="227.4"/>
<line x1="382.00" y1="137.5" x2="382.00" y2="227.4"/>
<line x1="89.2" y1="137.50" x2="382" y2="137.50"/>
<line x1="89.2" y1="141.25" x2="382" y2="141.25"/>
<line x1="89.2" y1="144.99" x2="382" y2="144.99"/>
<line x1="89.2" y1="148.74" x2="382" y2="148.74"/>
<line x1="89.2" y1="152.48" x2="382" y2="152.48"/>
<line x1="89.2" y1="156.23" x2="382" y2="156.23"/>
<line x1="89.2" y1="159.97" x2="382" y2="159.97"/>
<line x1="89.2" y1="163.72" x2="382" y2="163.72"/>
<line x1="89.2" y1="167.47" x2="382" y2="167.47"/>
<line x1="89.2" y1="171.21" x2="382" y2="171.21"/>
<line x1="89.2" y1="174.96" x2="382" y2="174.96"/>
<line x1="89.2" y1="178.70" x2="382" y2="178.70"/>
<line x1="89.2" y1="182.45" x2="382" y2="182.45"/>
<line x1="89.2" y1="186.20" x2="382" y2="186.20"/>
<line x1="89.2" y1="189.94" x2="382" y2="189.94"/>
<line x1="89.2" y1="193.69" x2="382" y2="193.69"/>
<line x1="89.2" y1="197.43" x2="382" y2="197.43"/>
<line x1="89.2" y1="201.18" x2="382" y2="201.18"/>
<line x1="89.2" y1="204.93" x2="382" y2="204.93"/>
<line x1="89.2" y1="208.67" x2="382" y2="208.67"/>
<line x1="89.2" y1="212.42" x2="382" y2="212.42"/>
<line x1="89.2" y1="216.16" x2="382" y2="216.16"/>
<line x1="89.2" y1="219.91" x2="382" y2="219.91"/>
<line x1="89.2" y1="223.65" x2="382" y2="223.65"/>
<line x1="89.2" y1="227.40" x2="382" y2="227.40"/>
</g>
<path d="M128.00,152.70 L365.30,152.70 L365.30,211.90 L128.00,211.90 L128.00,200.40 L106.25,200.40 L106.25,163.75 L128.00,163.75 Z" stroke="#444" stroke-width="0.75" fill="#fff" />
<rect x="135.60" y="160.00" width="222.80" height="44.40" stroke="#444" stroke-width="0.75" fill="none" />
<line x1="128.00" y1="152.70" x2="135.60" y2="160.00" stroke="#444" stroke-width="0.7" />
<line x1="365.30" y1="152.70" x2="358.40" y2="160.00" stroke="#444" stroke-width="0.7" />
<line x1="128.00" y1="211.90" x2="135.60" y2="204.40" stroke="#444" stroke-width="0.7" />
<line x1="365.30" y1="211.90" x2="358.40" y2="204.40" stroke="#444" stroke-width="0.7" />
<line x1="128.00" y1="163.75" x2="128.00" y2="200.40" stroke="#fff" stroke-width="1.2" />
<rect x="113.00" y="171.00" width="22.60" height="22.60" stroke="#333" stroke-width="0.8" fill="none" />
<line x1="116.77" y1="171.00" x2="116.77" y2="193.60" stroke="#333" stroke-width="0.7" />
<line x1="120.54" y1="171.00" x2="120.54" y2="193.60" stroke="#333" stroke-width="0.7" />
<line x1="124.31" y1="171.00" x2="124.31" y2="193.60" stroke="#333" stroke-width="0.7" />
<line x1="128.08" y1="171.00" x2="128.08" y2="193.60" stroke="#333" stroke-width="0.7" />
<line x1="131.85" y1="171.00" x2="131.85" y2="193.60" stroke="#333" stroke-width="0.7" />
<rect x="404.50" y="182.30" width="19.50" height="29.70" stroke="#4a4a4a" stroke-width="0.7" fill="none" />
<line x1="404.50" y1="187.25" x2="424.00" y2="187.25" stroke="#4a4a4a" stroke-width="0.6" />
<line x1="404.50" y1="192.20" x2="424.00" y2="192.20" stroke="#4a4a4a" stroke-width="0.6" />
<line x1="404.50" y1="197.15" x2="424.00" y2="197.15" stroke="#4a4a4a" stroke-width="0.6" />
<line x1="404.50" y1="202.10" x2="424.00" y2="202.10" stroke="#4a4a4a" stroke-width="0.6" />
<line x1="404.50" y1="207.05" x2="424.00" y2="207.05" stroke="#4a4a4a" stroke-width="0.6" />
<line x1="391.00" y1="212.00" x2="404.50" y2="212.00" stroke="#4a4a4a" stroke-width="0.7" />
<line x1="386.20" y1="212.00" x2="386.20" y2="228.70" stroke="#4a4a4a" stroke-width="0.6" />
<line x1="389.30" y1="212.00" x2="389.30" y2="228.70" stroke="#4a4a4a" stroke-width="0.6" />
<line x1="392.40" y1="212.00" x2="392.40" y2="228.70" stroke="#4a4a4a" stroke-width="0.6" />
</g>
<g id="house">
<rect x="109.00" y="228.75" width="16.60" height="3.75" fill="#1e1e1e"/>
<rect x="125.60" y="228.90" width="8.80" height="3.50" stroke="#aaa" stroke-width="0.4" fill="#d9d9d9" />
<rect x="134.40" y="228.75" width="5.00" height="3.75" fill="#1e1e1e"/>
<rect x="139.40" y="228.90" width="8.60" height="3.50" stroke="#aaa" stroke-width="0.4" fill="#d9d9d9" />
<rect x="148.00" y="228.75" width="13.25" height="3.75" fill="#1e1e1e"/>
<line x1="161.25" y1="229.00" x2="174.60" y2="229.00" stroke="#333" stroke-width="0.6" />
<line x1="161.25" y1="232.30" x2="174.60" y2="232.30" stroke="#333" stroke-width="0.6" />
<rect x="174.60" y="228.75" width="7.40" height="3.75" fill="#1e1e1e"/>
<line x1="182.00" y1="229.40" x2="312.00" y2="229.40" stroke="#333" stroke-width="0.6" />
<line x1="182.00" y1="232.50" x2="312.00" y2="232.50" stroke="#333" stroke-width="0.6" />
<line x1="195.00" y1="229.60" x2="221.00" y2="229.60" stroke="#222" stroke-width="0.9" />
<line x1="221.00" y1="230.80" x2="260.00" y2="230.80" stroke="#333" stroke-width="0.6" />
<line x1="260.00" y1="229.60" x2="273.00" y2="229.60" stroke="#222" stroke-width="0.9" />
<line x1="273.00" y1="230.80" x2="286.00" y2="230.80" stroke="#333" stroke-width="0.6" />
<line x1="285.00" y1="229.50" x2="312.00" y2="229.50" stroke="#222" stroke-width="1.2" />
<rect x="312.00" y="228.75" width="3.60" height="3.75" fill="#1e1e1e"/>
<line x1="315.60" y1="229.00" x2="329.40" y2="229.00" stroke="#333" stroke-width="0.6" />
<line x1="315.60" y1="232.30" x2="329.40" y2="232.30" stroke="#333" stroke-width="0.6" />
<rect x="329.40" y="228.75" width="15.60" height="2.75" fill="#1e1e1e"/>
<rect x="345.00" y="228.90" width="10.40" height="2.50" stroke="#aaa" stroke-width="0.4" fill="#d9d9d9" />
<rect x="355.40" y="228.75" width="3.35" height="2.75" fill="#1e1e1e"/>
<rect x="358.75" y="228.90" width="10.00" height="2.50" stroke="#aaa" stroke-width="0.4" fill="#d9d9d9" />
<rect x="368.75" y="228.75" width="13.25" height="2.75" fill="#1e1e1e"/>
<rect x="109.00" y="228.75" width="3.40" height="16.85" fill="#1e1e1e"/>
<rect x="109.10" y="245.60" width="3.20" height="9.40" stroke="#aaa" stroke-width="0.4" fill="#d9d9d9" />
<rect x="109.00" y="255.00" width="3.40" height="29.40" fill="#1e1e1e"/>
<rect x="109.10" y="284.40" width="3.20" height="12.10" stroke="#aaa" stroke-width="0.4" fill="#d9d9d9" />
<rect x="109.00" y="296.50" width="3.40" height="6.50" fill="#1e1e1e"/>
<line x1="109.20" y1="303.00" x2="109.20" y2="418.40" stroke="#333" stroke-width="0.8" />
<line x1="112.30" y1="303.00" x2="112.30" y2="415.30" stroke="#333" stroke-width="0.8" />
<rect x="109.60" y="308.75" width="2.30" height="12.25" stroke="none" stroke-width="0" fill="#fff" />
<rect x="109.30" y="308.75" width="2.90" height="12.25" stroke="#aaa" stroke-width="0.4" fill="#d9d9d9" />
<rect x="109.60" y="332.50" width="2.30" height="12.50" stroke="none" stroke-width="0" fill="#fff" />
<rect x="109.30" y="332.50" width="2.90" height="12.50" stroke="#aaa" stroke-width="0.4" fill="#d9d9d9" />
<rect x="109.60" y="365.60" width="2.30" height="9.40" stroke="none" stroke-width="0" fill="#fff" />
<rect x="109.30" y="365.60" width="2.90" height="9.40" stroke="#aaa" stroke-width="0.4" fill="#d9d9d9" />
<rect x="109.60" y="402.00" width="2.30" height="9.00" stroke="none" stroke-width="0" fill="#fff" />
<rect x="109.30" y="402.00" width="2.90" height="9.00" stroke="#aaa" stroke-width="0.4" fill="#d9d9d9" />
<rect x="112.25" y="303.00" width="1.65" height="3.00" fill="#1e1e1e"/>
<rect x="112.25" y="353.00" width="1.65" height="3.00" fill="#1e1e1e"/>
<rect x="179.40" y="232.50" width="2.50" height="53.10" fill="#1e1e1e"/>
<rect x="156.90" y="269.00" width="25.00" height="4.00" fill="#1e1e1e"/>
<rect x="156.90" y="269.00" width="3.50" height="21.60" fill="#1e1e1e"/>
<rect x="178.00" y="273.00" width="3.90" height="12.60" fill="#1e1e1e"/>
<rect x="160.90" y="273.40" width="16.70" height="12.00" stroke="#333" stroke-width="0.6" fill="none" />
<line x1="160.90" y1="273.40" x2="177.60" y2="285.40" stroke="#333" stroke-width="0.6" />
<line x1="160.90" y1="285.40" x2="177.60" y2="273.40" stroke="#333" stroke-width="0.6" />
<line x1="181.90" y1="285.60" x2="181.90" y2="291.50" stroke="#333" stroke-width="0.6" />
<rect x="127.50" y="232.50" width="18.10" height="5.00" stroke="#555" stroke-width="0.6" fill="none" />
<path d="M133.6,237.5 L133.6,240 A3,3 0 0 0 139.6,240 L139.6,237.5" stroke="#333" stroke-width="0.8" fill="none" />
<rect x="166.90" y="238.50" width="12.50" height="24.00" stroke="#555" stroke-width="0.6" fill="none" />
<rect x="167.60" y="239.20" width="11.10" height="22.60" stroke="#999" stroke-width="0.4" fill="none" />
<rect x="112.50" y="242.00" width="5.00" height="15.00" stroke="#555" stroke-width="0.6" fill="none" />
<rect x="112.50" y="282.50" width="5.00" height="14.50" stroke="#555" stroke-width="0.6" fill="none" />
<rect x="118.75" y="259.00" width="23.75" height="22.50" stroke="#c8c8c8" stroke-width="0.5" fill="none" />
<line x1="137.00" y1="259.00" x2="137.00" y2="281.50" stroke="#c8c8c8" stroke-width="0.5" />
<line x1="113.00" y1="262.00" x2="118.75" y2="262.00" stroke="#c8c8c8" stroke-width="0.5" />
<line x1="113.00" y1="278.00" x2="118.75" y2="278.00" stroke="#c8c8c8" stroke-width="0.5" />
<rect x="129.40" y="296.25" width="18.60" height="6.75" stroke="#555" stroke-width="0.6" fill="none" />
<rect x="131.00" y="297.60" width="15.40" height="4.20" stroke="#555" stroke-width="0.5" fill="none" />
<path d="M151.50,291.00 L155.00,294.00 L152.00,297.00 L155.00,302.00" stroke="#777" stroke-width="0.5" fill="none" />
<rect x="123.50" y="303.00" width="36.50" height="4.00" fill="#1e1e1e"/>
<line x1="157.20" y1="307.00" x2="157.20" y2="415.30" stroke="#333" stroke-width="0.8" />
<line x1="159.90" y1="307.00" x2="159.90" y2="379.40" stroke="#333" stroke-width="0.8" />
<rect x="157.00" y="338.00" width="3.00" height="13.25" fill="#1e1e1e"/>
<rect x="112.50" y="328.75" width="44.50" height="2.25" fill="#1e1e1e"/>
<rect x="123.75" y="353.00" width="33.25" height="2.25" fill="#1e1e1e"/>
<path d="M114.4,315.75 A8.75,8.75 0 0 0 123.15,307" stroke="#999" stroke-width="0.5" fill="none" />
<line x1="114.40" y1="307.00" x2="114.40" y2="315.75" stroke="#999" stroke-width="0.5" />
<path d="M114.4,344.25 A8.75,8.75 0 0 1 123.15,353" stroke="#999" stroke-width="0.5" fill="none" />
<line x1="114.40" y1="344.25" x2="114.40" y2="353.00" stroke="#999" stroke-width="0.5" />
<circle cx="121.50" cy="326.00" r="2.80" stroke="#333" stroke-width="1.1" fill="none"/>
<circle cx="121.50" cy="334.00" r="2.80" stroke="#333" stroke-width="1.1" fill="none"/>
<line x1="112.50" y1="323.75" x2="130.00" y2="323.75" stroke="#c8c8c8" stroke-width="0.5" />
<line x1="112.50" y1="336.25" x2="130.00" y2="336.25" stroke="#c8c8c8" stroke-width="0.5" />
<line x1="130.00" y1="323.75" x2="130.00" y2="336.25" stroke="#c8c8c8" stroke-width="0.5" />
<ellipse cx="136.25" cy="324" rx="2.2" ry="3.1" stroke="#333" stroke-width="0.9" fill="#fff"/>
<ellipse cx="136.25" cy="336" rx="2.2" ry="3.1" stroke="#333" stroke-width="0.9" fill="#fff"/>
<rect x="133.00" y="326.80" width="6.80" height="1.95" stroke="#444" stroke-width="0.6" fill="#fff" />
<rect x="133.00" y="331.00" width="6.80" height="2.00" stroke="#444" stroke-width="0.6" fill="#fff" />
<line x1="143.00" y1="307.00" x2="143.00" y2="353.00" stroke="#c8c8c8" stroke-width="0.5" />
<circle cx="150.60" cy="325.60" r="0.90" stroke="#c8c8c8" stroke-width="0.5" fill="none"/>
<circle cx="150.60" cy="334.40" r="0.90" stroke="#c8c8c8" stroke-width="0.5" fill="none"/>
<line x1="150.60" y1="322.00" x2="150.60" y2="338.00" stroke="#c8c8c8" stroke-width="0.4" />
<text x="126.00" y="310.20" font-size="2.6" fill="#aaa" text-anchor="start">Bathroom 2</text>
<text x="126.00" y="352.20" font-size="2.6" fill="#aaa" text-anchor="start">Bathroom 1</text>
<rect x="160.00" y="342.50" width="5.00" height="18.75" stroke="#555" stroke-width="0.6" fill="none" />
<rect x="131.25" y="355.25" width="18.15" height="7.00" stroke="#555" stroke-width="0.6" fill="none" />
<rect x="133.00" y="356.60" width="14.80" height="4.40" stroke="#555" stroke-width="0.5" fill="none" />
<rect x="112.25" y="365.60" width="5.25" height="10.00" stroke="#555" stroke-width="0.6" fill="none" />
<rect x="112.25" y="401.25" width="5.25" height="10.75" stroke="#555" stroke-width="0.6" fill="none" />
<rect x="113.00" y="377.50" width="29.00" height="21.90" stroke="#c8c8c8" stroke-width="0.5" fill="none" />
<line x1="118.50" y1="377.50" x2="118.50" y2="399.40" stroke="#c8c8c8" stroke-width="0.5" />
<line x1="136.50" y1="377.50" x2="136.50" y2="399.40" stroke="#c8c8c8" stroke-width="0.5" />
<line x1="113.00" y1="388.40" x2="118.50" y2="388.40" stroke="#c8c8c8" stroke-width="0.5" />
<line x1="159.90" y1="393.50" x2="159.90" y2="415.30" stroke="#333" stroke-width="0.8" />
<line x1="157.20" y1="379.40" x2="159.90" y2="379.40" stroke="#333" stroke-width="0.6" />
<line x1="157.20" y1="393.50" x2="159.90" y2="393.50" stroke="#333" stroke-width="0.6" />
<path d="M159.90,379.60 L165.60,380.00 L161.50,386.30 L165.60,392.60 L159.90,393.30" stroke="#666" stroke-width="0.5" fill="none" />
<rect x="152.00" y="395.60" width="5.00" height="18.15" stroke="#555" stroke-width="0.6" fill="none" />
<path d="M152,401.4 A3.1,3.1 0 0 0 152,407.6 " stroke="#333" stroke-width="0.9" fill="none" />
<line x1="149.00" y1="401.40" x2="152.00" y2="401.40" stroke="#333" stroke-width="0.8" />
<line x1="149.00" y1="407.60" x2="152.00" y2="407.60" stroke="#333" stroke-width="0.8" />
<path d="M149,401.4 A3.1,3.1 0 0 0 149,407.6" stroke="#333" stroke-width="0.9" fill="none" />
<line x1="109.20" y1="418.40" x2="175.60" y2="418.40" stroke="#333" stroke-width="0.8" />
<line x1="112.30" y1="415.30" x2="161.30" y2="415.30" stroke="#333" stroke-width="0.8" />
<rect x="121.25" y="415.70" width="8.75" height="2.30" stroke="none" stroke-width="0" fill="#fff" />
<rect x="121.25" y="415.40" width="8.75" height="2.90" stroke="#aaa" stroke-width="0.4" fill="#d9d9d9" />
<rect x="138.75" y="415.70" width="8.75" height="2.30" stroke="none" stroke-width="0" fill="#fff" />
<rect x="138.75" y="415.40" width="8.75" height="2.90" stroke="#aaa" stroke-width="0.4" fill="#d9d9d9" />
<line x1="161.50" y1="414.40" x2="161.50" y2="428.80" stroke="#333" stroke-width="0.6" />
<line x1="161.50" y1="428.80" x2="175.60" y2="428.80" stroke="#333" stroke-width="0.6" />
<path d="M162.00,408.00 L164.80,414.20 L167.50,410.00 L170.20,414.20 L173.00,408.00" stroke="#999" stroke-width="0.5" fill="none" />
<line x1="162.00" y1="408.00" x2="162.00" y2="414.40" stroke="#999" stroke-width="0.5" />
<line x1="173.00" y1="408.00" x2="173.00" y2="414.40" stroke="#999" stroke-width="0.5" />
<rect x="175.70" y="305.00" width="5.4" height="5.4" rx="0.8" fill="#111"/>
<rect x="175.70" y="393.80" width="5.4" height="5.4" rx="0.8" fill="#111"/>
<rect x="221.30" y="305.00" width="5.4" height="5.4" rx="0.8" fill="#111"/>
<rect x="221.30" y="393.80" width="5.4" height="5.4" rx="0.8" fill="#111"/>
<rect x="266.90" y="305.00" width="5.4" height="5.4" rx="0.8" fill="#111"/>
<rect x="266.90" y="393.80" width="5.4" height="5.4" rx="0.8" fill="#111"/>
<rect x="312.55" y="305.00" width="5.4" height="5.4" rx="0.8" fill="#111"/>
<rect x="312.55" y="393.80" width="5.4" height="5.4" rx="0.8" fill="#111"/>
<rect x="175.70" y="334.60" width="5.4" height="5.4" rx="0.8" fill="#111"/>
<rect x="312.55" y="334.60" width="5.4" height="5.4" rx="0.8" fill="#111"/>
<rect x="175.70" y="364.30" width="5.4" height="5.4" rx="0.8" fill="#111"/>
<rect x="312.55" y="364.30" width="5.4" height="5.4" rx="0.8" fill="#111"/>
<rect x="181.20" y="310.50" width="131.20" height="82.70" stroke="#333" stroke-width="0.7" fill="none" />
<rect x="184.60" y="314.10" width="124.40" height="75.50" stroke="#333" stroke-width="0.7" fill="none" />
<rect x="194.00" y="323.40" width="105.60" height="57.60" stroke="#222" stroke-width="1.3" fill="none" />
<rect x="189.00" y="240.80" width="9.75" height="37.60" stroke="#555" stroke-width="0.6" fill="none" />
<rect x="214.60" y="253.50" width="12.30" height="30.25" stroke="#555" stroke-width="0.6" fill="none" />
<line x1="214.60" y1="256.25" x2="226.90" y2="256.25" stroke="#555" stroke-width="0.5" />
<line x1="214.60" y1="281.00" x2="226.90" y2="281.00" stroke="#555" stroke-width="0.5" />
<line x1="216.30" y1="256.25" x2="216.30" y2="281.00" stroke="#555" stroke-width="0.5" />
<line x1="216.30" y1="268.60" x2="226.90" y2="268.60" stroke="#555" stroke-width="0.5" />
<rect x="260.25" y="253.50" width="12.50" height="30.25" stroke="#555" stroke-width="0.6" fill="none" />
<line x1="260.25" y1="256.25" x2="272.75" y2="256.25" stroke="#555" stroke-width="0.5" />
<line x1="260.25" y1="281.00" x2="272.75" y2="281.00" stroke="#555" stroke-width="0.5" />
<line x1="271.05" y1="256.25" x2="271.05" y2="281.00" stroke="#555" stroke-width="0.5" />
<line x1="260.25" y1="268.60" x2="271.05" y2="268.60" stroke="#555" stroke-width="0.5" />
<circle cx="220.60" cy="248.75" r="2.60" stroke="#555" stroke-width="0.6" fill="none"/>
<circle cx="220.60" cy="289.00" r="2.60" stroke="#555" stroke-width="0.6" fill="none"/>
<circle cx="266.50" cy="248.75" r="2.60" stroke="#555" stroke-width="0.6" fill="none"/>
<circle cx="266.50" cy="289.00" r="2.60" stroke="#555" stroke-width="0.6" fill="none"/>
<rect x="236.00" y="261.00" width="15.60" height="15.25" stroke="#555" stroke-width="0.7" fill="none" />
<path d="M235.10,254.6 L235.10,252 A3,3 0 0 1 241.10,252 L241.10,254.6" stroke="#333" stroke-width="1.0" fill="none" />
<path d="M236.30,254.6 L236.30,252.4 A1.8,1.8 0 0 1 239.90,252.4 L239.90,254.6" stroke="#666" stroke-width="0.5" fill="none" />
<path d="M235.10,283.2 L235.10,285.8 A3,3 0 0 0 241.10,285.8 L241.10,283.2" stroke="#444" stroke-width="0.8" fill="none" />
<path d="M236.30,283.2 L236.30,285.4 A1.8,1.8 0 0 0 239.90,285.4 L239.90,283.2" stroke="#666" stroke-width="0.5" fill="none" />
<path d="M246.60,254.6 L246.60,252 A3,3 0 0 1 252.60,252 L252.60,254.6" stroke="#333" stroke-width="1.0" fill="none" />
<path d="M247.80,254.6 L247.80,252.4 A1.8,1.8 0 0 1 251.40,252.4 L251.40,254.6" stroke="#666" stroke-width="0.5" fill="none" />
<path d="M246.60,283.2 L246.60,285.8 A3,3 0 0 0 252.60,285.8 L252.60,283.2" stroke="#444" stroke-width="0.8" fill="none" />
<path d="M247.80,283.2 L247.80,285.4 A1.8,1.8 0 0 0 251.40,285.4 L251.40,283.2" stroke="#666" stroke-width="0.5" fill="none" />
<line x1="243.75" y1="237.25" x2="243.75" y2="252.00" stroke="#333" stroke-width="0.8" />
<rect x="285.60" y="241.00" width="13.15" height="37.50" stroke="#555" stroke-width="0.7" fill="none" />
<path d="M285.6,245.90 L283,245.90 A2.6,2.6 0 0 0 283,251.10 L285.6,251.10" stroke="#555" stroke-width="0.7" fill="none" />
<path d="M298.75,245.90 L301.4,245.90 A2.6,2.6 0 0 1 301.4,251.10 L298.75,251.10" stroke="#555" stroke-width="0.7" fill="none" />
<path d="M285.6,253.40 L283,253.40 A2.6,2.6 0 0 0 283,258.60 L285.6,258.60" stroke="#555" stroke-width="0.7" fill="none" />
<path d="M298.75,253.40 L301.4,253.40 A2.6,2.6 0 0 1 301.4,258.60 L298.75,258.60" stroke="#555" stroke-width="0.7" fill="none" />
<path d="M285.6,260.90 L283,260.90 A2.6,2.6 0 0 0 283,266.10 L285.6,266.10" stroke="#555" stroke-width="0.7" fill="none" />
<path d="M298.75,260.90 L301.4,260.90 A2.6,2.6 0 0 1 301.4,266.10 L298.75,266.10" stroke="#555" stroke-width="0.7" fill="none" />
<path d="M285.6,268.20 L283,268.20 A2.6,2.6 0 0 0 283,273.40 L285.6,273.40" stroke="#555" stroke-width="0.7" fill="none" />
<path d="M298.75,268.20 L301.4,268.20 A2.6,2.6 0 0 1 301.4,273.40 L298.75,273.40" stroke="#555" stroke-width="0.7" fill="none" />
<path d="M289.5,241 L289.5,238.4 A2.6,2.6 0 0 1 294.7,238.4 L294.7,241" stroke="#555" stroke-width="0.7" fill="none" />
<path d="M289.5,278.5 L289.5,280.9 A2.6,2.6 0 0 0 294.7,280.9 L294.7,278.5" stroke="#555" stroke-width="0.7" fill="none" />
<rect x="312.00" y="232.50" width="2.10" height="53.10" fill="#1e1e1e"/>
<rect x="331.00" y="231.50" width="2.00" height="39.90" fill="#1e1e1e"/>
<rect x="312.00" y="269.60" width="21.00" height="3.40" fill="#1e1e1e"/>
<rect x="312.00" y="273.00" width="3.40" height="12.60" fill="#1e1e1e"/>
<rect x="315.80" y="273.40" width="14.20" height="12.00" stroke="#333" stroke-width="0.6" fill="none" />
<line x1="315.80" y1="273.40" x2="330.00" y2="285.40" stroke="#333" stroke-width="0.6" />
<line x1="315.80" y1="285.40" x2="330.00" y2="273.40" stroke="#333" stroke-width="0.6" />
<rect x="380.40" y="231.50" width="1.60" height="28.75" fill="#1e1e1e"/>
<rect x="333.00" y="231.60" width="15.75" height="5.40" stroke="#777" stroke-width="0.5" fill="none" />
<rect x="340.60" y="232.20" width="7.60" height="4.30" stroke="#777" stroke-width="0.5" fill="none" />
<circle cx="344.50" cy="234.30" r="0.50" stroke="#555" stroke-width="0.5" fill="none"/>
<line x1="340.40" y1="237.00" x2="340.40" y2="260.60" stroke="#777" stroke-width="0.5" />
<line x1="333.00" y1="260.60" x2="340.40" y2="260.60" stroke="#777" stroke-width="0.5" />
<rect x="333.60" y="262.50" width="6.70" height="7.50" stroke="#555" stroke-width="0.5" fill="none" />
<line x1="337.00" y1="264.00" x2="337.00" y2="268.50" stroke="#888" stroke-width="0.4" />
<line x1="348.75" y1="237.40" x2="373.00" y2="237.40" stroke="#bbb" stroke-width="0.5" />
<line x1="340.40" y1="238.70" x2="373.00" y2="238.70" stroke="#bbb" stroke-width="0.5" />
<rect x="373.00" y="238.75" width="7.20" height="13.75" stroke="#555" stroke-width="0.5" fill="none" />
<line x1="373.00" y1="248.00" x2="380.20" y2="248.00" stroke="#555" stroke-width="0.5" />
<circle cx="375.00" cy="241.00" r="1.20" stroke="#444" stroke-width="0.6" fill="none"/>
<circle cx="378.30" cy="241.00" r="1.20" stroke="#444" stroke-width="0.6" fill="none"/>
<circle cx="375.00" cy="245.00" r="1.20" stroke="#444" stroke-width="0.6" fill="none"/>
<circle cx="378.30" cy="245.00" r="1.20" stroke="#444" stroke-width="0.6" fill="none"/>
<text x="343.60" y="260.30" font-size="9" fill="#3c3c3c" text-anchor="start" textLength="29.2" lengthAdjust="spacingAndGlyphs">Kitchen</text>
<path d="M382,260.25 A11,11 0 0 1 391.5,270.8" stroke="#aaa" stroke-width="0.5" fill="none" />
<line x1="382.00" y1="271.20" x2="391.50" y2="271.20" stroke="#aaa" stroke-width="0.5" />
<rect x="333" y="271.3" width="14.5" height="3" rx="1.4" fill="#8a8a8a"/>
<rect x="365.6" y="271.3" width="16.4" height="3" rx="1.4" fill="#8a8a8a"/>
<line x1="331.40" y1="274.00" x2="331.40" y2="310.40" stroke="#666" stroke-width="0.7" />
<line x1="333.00" y1="274.00" x2="333.00" y2="310.40" stroke="#666" stroke-width="0.7" />
<line x1="380.70" y1="271.30" x2="380.70" y2="333.00" stroke="#555" stroke-width="0.8" />
<line x1="382.40" y1="271.30" x2="382.40" y2="418.50" stroke="#555" stroke-width="0.8" />
<rect x="381.00" y="313.00" width="1.10" height="14.50" stroke="none" stroke-width="0" fill="#fff" />
<rect x="380.90" y="313.00" width="1.30" height="14.50" stroke="#aaa" stroke-width="0.4" fill="#d9d9d9" />
<rect x="333.60" y="275.00" width="10.80" height="6.25" stroke="#555" stroke-width="0.5" fill="none" />
<line x1="337.00" y1="277.20" x2="341.00" y2="277.20" stroke="#777" stroke-width="0.5" />
<line x1="373.60" y1="274.40" x2="373.60" y2="302.00" stroke="#555" stroke-width="0.5" />
<line x1="373.60" y1="281.25" x2="380.40" y2="281.25" stroke="#555" stroke-width="0.5" />
<line x1="373.60" y1="287.50" x2="380.40" y2="287.50" stroke="#555" stroke-width="0.5" />
<line x1="373.60" y1="296.25" x2="380.40" y2="296.25" stroke="#555" stroke-width="0.5" />
<line x1="373.60" y1="302.00" x2="380.40" y2="302.00" stroke="#555" stroke-width="0.5" />
<circle cx="377.00" cy="291.00" r="0.40" stroke="#555" stroke-width="0.5" fill="none"/>
<text x="343.60" y="288.60" font-size="9" fill="#3c3c3c" text-anchor="start" textLength="24" lengthAdjust="spacingAndGlyphs">Pantry</text>
<path d="M322,289.5 A10,9.6 0 0 0 342,289.5 Z" stroke="#777" stroke-width="0.5" fill="#fff" />
<line x1="331.40" y1="285.60" x2="331.40" y2="299.00" stroke="#666" stroke-width="0.7" />
<line x1="333.00" y1="285.60" x2="333.00" y2="299.00" stroke="#666" stroke-width="0.7" />
<rect x="333.40" y="300.60" width="10.35" height="9.00" stroke="#555" stroke-width="0.5" fill="none" />
<line x1="336.00" y1="305.50" x2="341.00" y2="305.50" stroke="#888" stroke-width="0.4" />
<line x1="343.75" y1="302.50" x2="380.40" y2="302.50" stroke="#555" stroke-width="0.5" />
<line x1="343.75" y1="309.60" x2="380.40" y2="309.60" stroke="#555" stroke-width="0.5" />
<rect x="355.60" y="302.60" width="6.40" height="6.80" stroke="#555" stroke-width="0.5" fill="#ccc" />
<rect x="356.80" y="303.60" width="4.00" height="3.00" stroke="#444" stroke-width="0.5" fill="#999" />
<line x1="367.50" y1="302.50" x2="367.50" y2="309.60" stroke="#555" stroke-width="0.4" />
<line x1="331.40" y1="310.40" x2="382.40" y2="310.40" stroke="#333" stroke-width="0.8" />
<line x1="333.00" y1="312.10" x2="380.70" y2="312.10" stroke="#333" stroke-width="0.8" />
<circle cx="343.00" cy="314.90" r="2.70" stroke="#333" stroke-width="1.1" fill="none"/>
<ellipse cx="360" cy="317.6" rx="2.1" ry="3" stroke="#333" stroke-width="0.9" fill="#fff"/>
<rect x="357.50" y="312.30" width="5.00" height="1.90" stroke="#444" stroke-width="0.5" fill="#fff" />
<line x1="333.00" y1="317.50" x2="354.00" y2="317.50" stroke="#c8c8c8" stroke-width="0.5" />
<line x1="354.00" y1="312.20" x2="354.00" y2="317.50" stroke="#c8c8c8" stroke-width="0.5" />
<line x1="367.50" y1="312.00" x2="367.50" y2="333.00" stroke="#c8c8c8" stroke-width="0.5" />
<circle cx="374.60" cy="315.30" r="0.90" stroke="#c8c8c8" stroke-width="0.5" fill="none"/>
<line x1="331.40" y1="312.00" x2="331.40" y2="379.40" stroke="#333" stroke-width="0.8" />
<line x1="334.40" y1="333.00" x2="334.40" y2="379.40" stroke="#333" stroke-width="0.8" />
<line x1="333.20" y1="312.00" x2="333.20" y2="333.00" stroke="#333" stroke-width="0.7" />
<rect x="331.25" y="317.00" width="1.85" height="11.00" fill="#1e1e1e"/>
<path d="M335,325.4 A8.8,8.2 0 0 1 343.8,333" stroke="#999" stroke-width="0.5" fill="none" />
<line x1="335.00" y1="325.40" x2="335.00" y2="333.00" stroke="#999" stroke-width="0.5" />
<line x1="344.40" y1="333.00" x2="380.70" y2="333.00" stroke="#333" stroke-width="0.7" />
<line x1="344.40" y1="336.20" x2="379.40" y2="336.20" stroke="#333" stroke-width="0.7" />
<line x1="344.40" y1="333.00" x2="344.40" y2="336.20" stroke="#333" stroke-width="0.7" />
<line x1="379.40" y1="336.20" x2="379.40" y2="415.50" stroke="#333" stroke-width="0.7" />
<rect x="352.50" y="336.90" width="18.10" height="6.60" stroke="#555" stroke-width="0.6" fill="none" />
<rect x="354.60" y="338.20" width="13.90" height="4.00" stroke="#555" stroke-width="0.5" fill="none" />
<rect x="326.25" y="342.75" width="5.00" height="18.50" stroke="#555" stroke-width="0.6" fill="none" />
<rect x="331.6" y="351.25" width="2.7" height="14.4" fill="#444"/>
<line x1="331.60" y1="352.80" x2="334.30" y2="351.60" stroke="#bbb" stroke-width="0.35" />
<line x1="331.60" y1="354.60" x2="334.30" y2="353.40" stroke="#bbb" stroke-width="0.35" />
<line x1="331.60" y1="356.40" x2="334.30" y2="355.20" stroke="#bbb" stroke-width="0.35" />
<line x1="331.60" y1="358.20" x2="334.30" y2="357.00" stroke="#bbb" stroke-width="0.35" />
<line x1="331.60" y1="360.00" x2="334.30" y2="358.80" stroke="#bbb" stroke-width="0.35" />
<line x1="331.60" y1="361.80" x2="334.30" y2="360.60" stroke="#bbb" stroke-width="0.35" />
<line x1="331.60" y1="363.60" x2="334.30" y2="362.40" stroke="#bbb" stroke-width="0.35" />
<line x1="331.60" y1="365.40" x2="334.30" y2="364.20" stroke="#bbb" stroke-width="0.35" />
<text x="338.75" y="356.30" font-size="9" fill="#3c3c3c" text-anchor="start" textLength="28.7" lengthAdjust="spacingAndGlyphs">Room 3</text>
<line x1="331.40" y1="379.40" x2="334.40" y2="379.40" stroke="#333" stroke-width="0.6" />
<line x1="331.40" y1="393.75" x2="334.40" y2="393.75" stroke="#333" stroke-width="0.6" />
<path d="M331.40,379.60 L325.00,380.40 L328.90,386.60 L325.00,392.80 L331.40,393.50" stroke="#777" stroke-width="0.5" fill="none" />
<line x1="331.40" y1="393.75" x2="331.40" y2="429.40" stroke="#333" stroke-width="0.8" />
<line x1="334.40" y1="393.75" x2="334.40" y2="415.50" stroke="#333" stroke-width="0.8" />
<rect x="347.50" y="365.00" width="31.25" height="22.50" stroke="#c8c8c8" stroke-width="0.5" fill="none" />
<line x1="354.50" y1="365.00" x2="354.50" y2="387.50" stroke="#c8c8c8" stroke-width="0.5" />
<line x1="372.00" y1="365.00" x2="372.00" y2="387.50" stroke="#c8c8c8" stroke-width="0.5" />
<line x1="372.00" y1="376.20" x2="378.75" y2="376.20" stroke="#c8c8c8" stroke-width="0.5" />
<rect x="373.75" y="350.60" width="5.45" height="12.40" stroke="#555" stroke-width="0.5" fill="none" />
<rect x="373.75" y="389.40" width="5.45" height="12.60" stroke="#555" stroke-width="0.5" fill="none" />
<rect x="379.80" y="350.50" width="2.20" height="10.50" stroke="none" stroke-width="0" fill="#fff" />
<rect x="379.60" y="350.50" width="2.60" height="10.50" stroke="#aaa" stroke-width="0.4" fill="#d9d9d9" />
<rect x="379.80" y="390.00" width="2.20" height="10.50" stroke="none" stroke-width="0" fill="#fff" />
<rect x="379.60" y="390.00" width="2.60" height="10.50" stroke="#aaa" stroke-width="0.4" fill="#d9d9d9" />
<path d="M387.00,360.60 L390.00,360.60 L390.00,391.25 L387.00,391.25" stroke="#777" stroke-width="0.7" fill="none" />
<rect x="347.25" y="410.00" width="18.75" height="5.60" stroke="#555" stroke-width="0.6" fill="none" />
<path d="M353.6,410 L353.6,407.7 A3,3 0 0 1 359.6,407.7 L359.6,410" stroke="#333" stroke-width="0.9" fill="none" />
<line x1="334.40" y1="415.60" x2="379.40" y2="415.60" stroke="#333" stroke-width="0.8" />
<line x1="315.60" y1="418.50" x2="382.40" y2="418.50" stroke="#333" stroke-width="0.8" />
<rect x="343.00" y="416.00" width="9.00" height="2.10" stroke="none" stroke-width="0" fill="#fff" />
<rect x="343.00" y="415.70" width="9.00" height="2.70" stroke="#aaa" stroke-width="0.4" fill="#d9d9d9" />
<rect x="355.00" y="416.00" width="9.00" height="2.10" stroke="none" stroke-width="0" fill="#fff" />
<rect x="355.00" y="415.70" width="9.00" height="2.70" stroke="#aaa" stroke-width="0.4" fill="#d9d9d9" />
<rect x="367.00" y="416.00" width="4.00" height="2.10" stroke="none" stroke-width="0" fill="#fff" />
<rect x="367.00" y="415.70" width="4.00" height="2.70" stroke="#aaa" stroke-width="0.4" fill="#d9d9d9" />
<path d="M317.00,408.00 L320.20,414.20 L323.50,410.00 L326.80,414.20 L330.00,408.00" stroke="#999" stroke-width="0.5" fill="none" />
<line x1="317.00" y1="408.00" x2="317.00" y2="414.40" stroke="#999" stroke-width="0.5" />
<line x1="330.00" y1="408.00" x2="330.00" y2="414.40" stroke="#999" stroke-width="0.5" />
<line x1="331.40" y1="429.40" x2="315.60" y2="429.40" stroke="#333" stroke-width="0.6" />
<path d="M382.00,235.25 L393.20,235.25 L393.20,429.60 L326.25,429.60 L326.25,546.25 L285.00,546.25" stroke="#2a2a2a" stroke-width="1.3" fill="none" />
<path d="M285,546.25 A9.8,16.5 0 0 1 275.2,529.7" stroke="#2a2a2a" stroke-width="1.3" fill="none" />
<path d="M109.40,429.60 L164.50,429.60 L164.50,546.25 L207.00,546.25" stroke="#2a2a2a" stroke-width="1.3" fill="none" />
<path d="M207,546.25 A9.8,16.5 0 0 0 216.8,529.7" stroke="#2a2a2a" stroke-width="1.3" fill="none" />
<line x1="382.00" y1="235.90" x2="392.60" y2="235.90" stroke="#555" stroke-width="0.5" />
<line x1="173.75" y1="414.40" x2="239.75" y2="414.40" stroke="#333" stroke-width="0.8" />
<line x1="179.40" y1="418.75" x2="213.75" y2="418.75" stroke="#333" stroke-width="0.8" />
<line x1="217.50" y1="418.75" x2="239.75" y2="418.75" stroke="#333" stroke-width="0.8" />
<line x1="173.75" y1="418.75" x2="175.70" y2="418.75" stroke="#333" stroke-width="0.6" />
<line x1="239.75" y1="414.40" x2="239.75" y2="418.75" stroke="#333" stroke-width="0.8" />
<line x1="173.75" y1="414.40" x2="173.75" y2="418.75" stroke="#333" stroke-width="0.6" />
<line x1="254.40" y1="414.40" x2="316.25" y2="414.40" stroke="#333" stroke-width="0.8" />
<line x1="254.40" y1="418.75" x2="276.25" y2="418.75" stroke="#333" stroke-width="0.8" />
<line x1="280.00" y1="418.75" x2="312.00" y2="418.75" stroke="#333" stroke-width="0.8" />
<line x1="254.40" y1="414.40" x2="254.40" y2="418.75" stroke="#333" stroke-width="0.8" />
<rect x="186.25" y="407.50" width="29.35" height="6.90" stroke="#555" stroke-width="0.6" fill="none" />
<rect x="278.00" y="407.50" width="28.50" height="6.90" stroke="#555" stroke-width="0.6" fill="none" />
<path d="M240.00,408.00 L243.30,414.20 L247.00,409.50 L250.80,414.20 L254.20,408.00" stroke="#999" stroke-width="0.5" fill="none" />
<line x1="240.00" y1="408.00" x2="240.00" y2="414.40" stroke="#999" stroke-width="0.5" />
<line x1="254.20" y1="408.00" x2="254.20" y2="414.40" stroke="#999" stroke-width="0.5" />
<line x1="175.70" y1="418.75" x2="175.70" y2="535.25" stroke="#333" stroke-width="0.8" />
<line x1="179.40" y1="418.75" x2="179.40" y2="531.50" stroke="#333" stroke-width="0.8" />
<rect x="176.20" y="430.00" width="2.70" height="12.00" stroke="none" stroke-width="0" fill="#fff" />
<rect x="175.90" y="430.00" width="3.30" height="12.00" stroke="#aaa" stroke-width="0.4" fill="#d9d9d9" />
<rect x="176.20" y="470.00" width="2.70" height="12.00" stroke="none" stroke-width="0" fill="#fff" />
<rect x="175.90" y="470.00" width="3.30" height="12.00" stroke="#aaa" stroke-width="0.4" fill="#d9d9d9" />
<rect x="176.20" y="508.75" width="2.70" height="11.25" stroke="none" stroke-width="0" fill="#fff" />
<rect x="175.90" y="508.75" width="3.30" height="11.25" stroke="#aaa" stroke-width="0.4" fill="#d9d9d9" />
<line x1="312.00" y1="418.75" x2="312.00" y2="531.50" stroke="#333" stroke-width="0.8" />
<line x1="315.60" y1="418.75" x2="315.60" y2="535.25" stroke="#333" stroke-width="0.8" />
<rect x="312.50" y="430.60" width="2.60" height="11.40" stroke="none" stroke-width="0" fill="#fff" />
<rect x="312.20" y="430.60" width="3.20" height="11.40" stroke="#aaa" stroke-width="0.4" fill="#d9d9d9" />
<rect x="312.50" y="470.00" width="2.60" height="12.00" stroke="none" stroke-width="0" fill="#fff" />
<rect x="312.20" y="470.00" width="3.20" height="12.00" stroke="#aaa" stroke-width="0.4" fill="#d9d9d9" />
<rect x="312.50" y="508.75" width="2.60" height="11.85" stroke="none" stroke-width="0" fill="#fff" />
<rect x="312.20" y="508.75" width="3.20" height="11.85" stroke="#aaa" stroke-width="0.4" fill="#d9d9d9" />
<path d="M312,495.5 A2,2 0 0 0 312,499.5" stroke="#555" stroke-width="0.6" fill="none" />
<rect x="184.40" y="420.00" width="24.35" height="5.60" stroke="#555" stroke-width="0.6" fill="none" />
<rect x="187.00" y="437.50" width="19.00" height="8.10" stroke="#555" stroke-width="0.6" fill="none" />
<rect x="184.40" y="452.75" width="24.35" height="12.85" stroke="#555" stroke-width="0.7" fill="none" />
<line x1="186.00" y1="463.60" x2="207.00" y2="463.60" stroke="#888" stroke-width="0.5" />
<line x1="186.00" y1="454.00" x2="186.00" y2="463.60" stroke="#888" stroke-width="0.4" />
<line x1="207.00" y1="454.00" x2="207.00" y2="463.60" stroke="#888" stroke-width="0.4" />
<rect x="183.75" y="484.40" width="25.00" height="11.20" stroke="#555" stroke-width="0.7" fill="none" />
<line x1="185.50" y1="486.00" x2="185.50" y2="495.60" stroke="#888" stroke-width="0.4" />
<line x1="207.00" y1="486.00" x2="207.00" y2="495.60" stroke="#888" stroke-width="0.4" />
<text x="183.00" y="476.60" font-size="9" fill="#3c3c3c" text-anchor="start" textLength="39.2" lengthAdjust="spacingAndGlyphs">TV Lounge</text>
<path d="M213.75,418.75 L213.75,425.60 L217.50,425.60 L217.50,418.75" stroke="#333" stroke-width="0.8" fill="none" />
<path d="M217.50,425.80 L223.75,426.50 L219.50,433.00 L223.75,439.80 L217.50,440.40" stroke="#777" stroke-width="0.5" fill="none" />
<path d="M213.75,465.60 L213.75,440.60 L217.50,440.60 L217.50,446.25 L221.25,446.25 L221.25,450.00 L217.50,450.00 L217.50,465.60 L213.75,465.60" stroke="#333" stroke-width="0.8" fill="none" />
<path d="M217.50,465.80 L223.50,466.50 L219.50,472.80 L223.50,479.40 L217.50,479.90" stroke="#999" stroke-width="0.5" fill="none" />
<path d="M213.75,495.60 L213.75,480.00 L217.50,480.00 L217.50,495.60" stroke="#333" stroke-width="0.8" fill="none" />
<line x1="179.40" y1="495.60" x2="222.00" y2="495.60" stroke="#333" stroke-width="0.8" />
<line x1="179.40" y1="499.40" x2="210.60" y2="499.40" stroke="#333" stroke-width="0.8" />
<line x1="214.40" y1="499.40" x2="222.00" y2="499.40" stroke="#333" stroke-width="0.8" />
<line x1="222.00" y1="495.60" x2="222.00" y2="499.40" stroke="#333" stroke-width="0.8" />
<path d="M210.60,499.40 L210.60,504.40 L214.40,504.40 L214.40,499.40" stroke="#333" stroke-width="0.8" fill="none" />
<path d="M214.40,504.60 L220.50,505.20 L216.50,511.80 L220.50,518.60 L214.40,519.20" stroke="#777" stroke-width="0.5" fill="none" />
<line x1="210.60" y1="519.40" x2="210.60" y2="531.50" stroke="#333" stroke-width="0.8" />
<line x1="214.40" y1="519.40" x2="214.40" y2="529.00" stroke="#333" stroke-width="0.8" />
<line x1="210.60" y1="519.40" x2="214.40" y2="519.40" stroke="#333" stroke-width="0.8" />
<rect x="187.50" y="500.60" width="15.50" height="19.65" stroke="#555" stroke-width="0.7" fill="none" />
<path d="M187.5,506.2 L186,506.2 A3.8,3.8 0 0 0 186,513.8 L187.5,513.8" stroke="#333" stroke-width="0.8" fill="none" />
<path d="M187.5,506.2 A3.8,3.8 0 0 1 187.5,513.8" stroke="#555" stroke-width="0.7" fill="none" />
<text x="186.25" y="527.30" font-size="9" fill="#3c3c3c" text-anchor="start" textLength="21.5" lengthAdjust="spacingAndGlyphs">Office</text>
<line x1="179.40" y1="531.50" x2="210.60" y2="531.50" stroke="#333" stroke-width="0.8" />
<line x1="175.70" y1="535.25" x2="213.90" y2="535.25" stroke="#333" stroke-width="0.8" />
<rect x="185.00" y="532.00" width="8.00" height="2.80" stroke="none" stroke-width="0" fill="#fff" />
<rect x="185.00" y="531.70" width="8.00" height="3.40" stroke="#aaa" stroke-width="0.4" fill="#d9d9d9" />
<rect x="196.25" y="532.00" width="8.15" height="2.80" stroke="none" stroke-width="0" fill="#fff" />
<rect x="196.25" y="531.70" width="8.15" height="3.40" stroke="#aaa" stroke-width="0.4" fill="#d9d9d9" />
<rect x="234.40" y="429.75" width="25.20" height="7.75" stroke="#555" stroke-width="0.6" fill="none" />
<text x="236.25" y="454.00" font-size="9" fill="#3c3c3c" text-anchor="start" textLength="22.3" lengthAdjust="spacingAndGlyphs">Lobby</text>
<circle cx="245.00" cy="473.50" r="7.50" stroke="#555" stroke-width="0.7" fill="none"/>
<rect x="236.25" y="495.60" width="17.25" height="3.80" stroke="#333" stroke-width="0.7" fill="none" />
<path d="M222.00,499.40 L222.00,505.00 L225.50,505.20 L229.00,500.50 L232.50,505.20 L236.25,505.00 L236.25,499.40" stroke="#aaa" stroke-width="0.5" fill="none" />
<path d="M253.50,499.40 L253.50,505.00 L257.00,505.20 L260.70,500.50 L264.30,505.20 L268.00,505.00 L268.00,499.40" stroke="#aaa" stroke-width="0.5" fill="none" />
<line x1="271.25" y1="418.75" x2="271.25" y2="446.40" stroke="#666" stroke-width="0.6" stroke-dasharray="2.5 0.8"/>
<path d="M276.25,418.75 L276.25,425.60 L280.00,425.60 L280.00,418.75" stroke="#333" stroke-width="0.8" fill="none" />
<path d="M276.25,447.00 L276.25,439.40 L280.00,439.40 L280.00,447.00" stroke="#333" stroke-width="0.8" fill="none" />
<path d="M271.40,428.50 L274.50,431.50 L271.40,434.50" stroke="#999" stroke-width="0.5" fill="none" />
<circle cx="288.75" cy="421.20" r="2.60" stroke="#333" stroke-width="1.0" fill="none"/>
<line x1="280.00" y1="424.40" x2="298.00" y2="424.40" stroke="#555" stroke-width="0.5" />
<line x1="298.00" y1="418.75" x2="298.00" y2="432.50" stroke="#999" stroke-width="0.5" />
<circle cx="303.75" cy="421.25" r="0.80" stroke="#bbb" stroke-width="0.5" fill="none"/>
<line x1="303.75" y1="419.00" x2="303.75" y2="423.00" stroke="#bbb" stroke-width="0.4" />
<ellipse cx="288.75" cy="441.7" rx="2" ry="2.9" stroke="#333" stroke-width="0.9" fill="#fff"/>
<rect x="285.80" y="444.90" width="6.00" height="1.90" stroke="#444" stroke-width="0.5" fill="#fff" />
<path d="M280.00,447.00 L312.00,447.00" stroke="#333" stroke-width="0.8" fill="none" />
<path d="M312.00,450.60 L277.00,450.60" stroke="#333" stroke-width="0.8" fill="none" />
<path d="M276.25,447.00 L270.00,447.00 L270.00,450.60 L273.75,450.60" stroke="#333" stroke-width="0.8" fill="none" />
<line x1="273.75" y1="450.60" x2="273.75" y2="466.25" stroke="#333" stroke-width="0.8" />
<line x1="277.00" y1="450.60" x2="277.00" y2="466.25" stroke="#333" stroke-width="0.8" />
<line x1="273.75" y1="466.25" x2="277.00" y2="466.25" stroke="#333" stroke-width="0.8" />
<path d="M273.75,466.50 L267.60,467.20 L271.60,473.60 L267.60,480.00 L273.75,480.50" stroke="#777" stroke-width="0.5" fill="none" />
<path d="M273.75,495.60 L273.75,480.60 L277.00,480.60 L277.00,495.60" stroke="#333" stroke-width="0.8" fill="none" />
<path d="M273.75,495.60 L268.00,495.60 L268.00,499.40 L277.00,499.40" stroke="#333" stroke-width="0.8" fill="none" />
<path d="M277.00,495.60 L281.25,495.60 L281.25,499.40 L280.60,499.40" stroke="#333" stroke-width="0.8" fill="none" />
<line x1="277.00" y1="499.40" x2="277.00" y2="505.00" stroke="#333" stroke-width="0.8" />
<line x1="280.60" y1="499.40" x2="280.60" y2="505.00" stroke="#333" stroke-width="0.8" />
<rect x="277.20" y="505.00" width="3.20" height="13.75" stroke="#aaa" stroke-width="0.4" fill="#d9d9d9" />
<line x1="277.00" y1="518.75" x2="277.00" y2="535.25" stroke="#333" stroke-width="0.8" />
<line x1="280.60" y1="518.75" x2="280.60" y2="531.50" stroke="#333" stroke-width="0.8" />
<line x1="277.00" y1="518.75" x2="280.60" y2="518.75" stroke="#333" stroke-width="0.6" />
<line x1="277.00" y1="505.00" x2="280.60" y2="505.00" stroke="#333" stroke-width="0.6" />
<rect x="280.60" y="503.00" width="4.00" height="24.25" stroke="#555" stroke-width="0.5" fill="none" />
<rect x="284.40" y="452.00" width="13.60" height="12.20" stroke="#555" stroke-width="0.6" fill="none" />
<line x1="286.67" y1="452.00" x2="286.67" y2="464.20" stroke="#555" stroke-width="0.55" />
<line x1="288.93" y1="452.00" x2="288.93" y2="464.20" stroke="#555" stroke-width="0.55" />
<line x1="291.20" y1="452.00" x2="291.20" y2="464.20" stroke="#555" stroke-width="0.55" />
<line x1="293.47" y1="452.00" x2="293.47" y2="464.20" stroke="#555" stroke-width="0.55" />
<line x1="295.73" y1="452.00" x2="295.73" y2="464.20" stroke="#555" stroke-width="0.55" />
<line x1="284.40" y1="464.20" x2="298.00" y2="464.20" stroke="#333" stroke-width="0.9" />
<rect x="298.30" y="463.50" width="13.10" height="20.00" stroke="#555" stroke-width="0.6" fill="none" />
<line x1="298.30" y1="465.50" x2="311.40" y2="465.50" stroke="#555" stroke-width="0.5" />
<line x1="298.30" y1="467.50" x2="311.40" y2="467.50" stroke="#555" stroke-width="0.5" />
<line x1="298.30" y1="469.50" x2="311.40" y2="469.50" stroke="#555" stroke-width="0.5" />
<line x1="298.30" y1="471.50" x2="311.40" y2="471.50" stroke="#555" stroke-width="0.5" />
<line x1="298.30" y1="473.50" x2="311.40" y2="473.50" stroke="#555" stroke-width="0.5" />
<line x1="298.30" y1="475.50" x2="311.40" y2="475.50" stroke="#555" stroke-width="0.5" />
<line x1="298.30" y1="477.50" x2="311.40" y2="477.50" stroke="#555" stroke-width="0.5" />
<line x1="298.30" y1="479.50" x2="311.40" y2="479.50" stroke="#555" stroke-width="0.5" />
<line x1="298.30" y1="481.50" x2="311.40" y2="481.50" stroke="#555" stroke-width="0.5" />
<line x1="298.30" y1="463.50" x2="298.30" y2="483.50" stroke="#333" stroke-width="0.9" />
<path d="M299.5,452 L299.5,461 M299.5,461 A9,9 0 0 0 308.5,452" stroke="#999" stroke-width="0.5" fill="none" />
<line x1="298.00" y1="450.60" x2="298.00" y2="452.00" stroke="#555" stroke-width="0.5" />
<text x="286.00" y="521.30" font-size="9" fill="#3c3c3c" text-anchor="start" textLength="26" lengthAdjust="spacingAndGlyphs">Library</text>
<line x1="280.60" y1="531.50" x2="312.00" y2="531.50" stroke="#333" stroke-width="0.8" />
<line x1="277.00" y1="535.25" x2="315.60" y2="535.25" stroke="#333" stroke-width="0.8" />
<rect x="286.25" y="532.00" width="7.50" height="2.80" stroke="none" stroke-width="0" fill="#fff" />
<rect x="286.25" y="531.70" width="7.50" height="3.40" stroke="#aaa" stroke-width="0.4" fill="#d9d9d9" />
<rect x="298.00" y="532.00" width="7.60" height="2.80" stroke="none" stroke-width="0" fill="#fff" />
<rect x="298.00" y="531.70" width="7.60" height="3.40" stroke="#aaa" stroke-width="0.4" fill="#d9d9d9" />
<line x1="214.40" y1="529.50" x2="277.00" y2="529.50" stroke="#333" stroke-width="0.75" />
<line x1="216.60" y1="536.30" x2="275.40" y2="536.30" stroke="#333" stroke-width="0.75" />
<line x1="212.80" y1="544.30" x2="279.20" y2="544.30" stroke="#333" stroke-width="0.75" />
<path d="M240.2,529.5 L250.8,529.5 L250.8,535 Q250,541 245.5,544.8 Q241,541 240.2,535 Z" stroke="#333" stroke-width="0.9" fill="#fff" />
<rect x="240.6" y="524" width="4.8" height="5" rx="1.3" fill="#111"/>
<rect x="245.8" y="524" width="4.8" height="5" rx="1.3" fill="#111"/>
<rect x="243.5" y="525.6" width="4" height="1.8" fill="#111"/>
<text x="208.75" y="570.00" font-size="14.5" fill="#3c3c3c" text-anchor="start" textLength="75" lengthAdjust="spacingAndGlyphs">Ground Floor</text>
</g>
<g id="labels">
<text x="120.00" y="290.60" font-size="9" fill="#3c3c3c" text-anchor="start" textLength="28.5" lengthAdjust="spacingAndGlyphs">Room 2</text>
<text x="123.00" y="371.00" font-size="9" fill="#3c3c3c" text-anchor="start" textLength="28.3" lengthAdjust="spacingAndGlyphs">Room 1</text>
<text x="224.00" y="299.60" font-size="9" fill="#3c3c3c" text-anchor="start" textLength="49" lengthAdjust="spacingAndGlyphs">Sitting Room</text>
</g>
<g id="upper">
<line x1="510.60" y1="242.50" x2="727.30" y2="242.50" stroke="#555" stroke-width="0.65" stroke-dasharray="4.2 0.8 0.8 0.8"/>
<line x1="727.30" y1="242.50" x2="727.30" y2="273.00" stroke="#555" stroke-width="0.65" stroke-dasharray="4.2 0.8 0.8 0.8"/>
<line x1="510.60" y1="242.50" x2="540.60" y2="273.00" stroke="#555" stroke-width="0.7" />
<line x1="540.60" y1="273.40" x2="732.00" y2="273.40" stroke="#666" stroke-width="0.8" />
<line x1="540.60" y1="273.00" x2="540.60" y2="293.00" stroke="#bbb" stroke-width="0.8" />
<line x1="540.60" y1="287.00" x2="575.20" y2="322.00" stroke="#555" stroke-width="0.7" />
<line x1="732.00" y1="273.60" x2="684.20" y2="322.00" stroke="#555" stroke-width="0.7" />
<line x1="575.20" y1="322.00" x2="684.20" y2="322.00" stroke="#555" stroke-width="0.65" stroke-dasharray="4.2 0.8 0.8 0.8"/>
<line x1="684.20" y1="322.00" x2="684.20" y2="383.00" stroke="#555" stroke-width="0.65" stroke-dasharray="4.2 0.8 0.8 0.8"/>
<line x1="684.20" y1="383.00" x2="575.20" y2="383.00" stroke="#555" stroke-width="0.65" stroke-dasharray="4.2 0.8 0.8 0.8"/>
<line x1="575.20" y1="383.00" x2="575.20" y2="322.00" stroke="#555" stroke-width="0.65" stroke-dasharray="4.2 0.8 0.8 0.8"/>
<line x1="481.25" y1="293.00" x2="540.60" y2="293.00" stroke="#555" stroke-width="0.65" stroke-dasharray="4.2 0.8 0.8 0.8"/>
<line x1="481.25" y1="293.00" x2="481.25" y2="430.30" stroke="#555" stroke-width="0.65" stroke-dasharray="4.2 0.8 0.8 0.8"/>
<line x1="481.25" y1="430.30" x2="545.40" y2="430.30" stroke="#555" stroke-width="0.65" stroke-dasharray="4.2 0.8 0.8 0.8"/>
<line x1="545.40" y1="430.30" x2="545.40" y2="448.40" stroke="#555" stroke-width="0.65" stroke-dasharray="4.2 0.8 0.8 0.8"/>
<line x1="545.40" y1="448.40" x2="558.75" y2="448.40" stroke="#555" stroke-width="0.65" stroke-dasharray="4.2 0.8 0.8 0.8"/>
<line x1="517.70" y1="293.00" x2="517.70" y2="430.30" stroke="#555" stroke-width="1.7" />
<line x1="727.30" y1="261.00" x2="776.60" y2="261.00" stroke="#555" stroke-width="0.65" stroke-dasharray="4.2 0.8 0.8 0.8"/>
<line x1="776.60" y1="261.00" x2="776.60" y2="430.30" stroke="#555" stroke-width="0.65" stroke-dasharray="4.2 0.8 0.8 0.8"/>
<line x1="776.60" y1="430.30" x2="715.00" y2="430.30" stroke="#555" stroke-width="0.65" stroke-dasharray="4.2 0.8 0.8 0.8"/>
<line x1="715.00" y1="430.30" x2="715.00" y2="448.40" stroke="#555" stroke-width="0.65" stroke-dasharray="4.2 0.8 0.8 0.8"/>
<line x1="715.00" y1="448.40" x2="695.60" y2="448.40" stroke="#555" stroke-width="0.65" stroke-dasharray="4.2 0.8 0.8 0.8"/>
<line x1="739.90" y1="261.00" x2="739.90" y2="430.30" stroke="#555" stroke-width="1.7" />
<path d="M575.20,383.00 L544.80,413.50 L566.70,438.80" stroke="#555" stroke-width="0.7" fill="none" />
<path d="M684.20,383.00 L715.00,413.70 L693.30,438.80" stroke="#555" stroke-width="0.7" fill="none" />
<line x1="549.20" y1="438.90" x2="707.60" y2="438.90" stroke="#555" stroke-width="0.65" stroke-dasharray="4.2 0.8 0.8 0.8"/>
<line x1="549.20" y1="438.90" x2="549.20" y2="546.30" stroke="#555" stroke-width="0.65" stroke-dasharray="4.2 0.8 0.8 0.8"/>
<line x1="707.60" y1="438.90" x2="707.60" y2="546.30" stroke="#555" stroke-width="0.65" stroke-dasharray="4.2 0.8 0.8 0.8"/>
<line x1="549.20" y1="546.30" x2="608.70" y2="546.30" stroke="#555" stroke-width="0.65" stroke-dasharray="4.2 0.8 0.8 0.8"/>
<line x1="608.70" y1="539.75" x2="648.30" y2="539.75" stroke="#555" stroke-width="0.65" stroke-dasharray="4.2 0.8 0.8 0.8"/>
<line x1="648.30" y1="546.30" x2="707.60" y2="546.30" stroke="#555" stroke-width="0.65" stroke-dasharray="4.2 0.8 0.8 0.8"/>
<line x1="608.70" y1="539.75" x2="608.70" y2="546.30" stroke="#555" stroke-width="0.7" />
<line x1="648.30" y1="539.75" x2="648.30" y2="546.30" stroke="#555" stroke-width="0.7" />
<line x1="558.75" y1="448.30" x2="695.60" y2="448.30" stroke="#555" stroke-width="0.65" stroke-dasharray="4.2 0.8 0.8 0.8"/>
<line x1="549.20" y1="500.00" x2="707.60" y2="500.00" stroke="#555" stroke-width="0.65" stroke-dasharray="4.2 0.8 0.8 0.8"/>
<line x1="549.20" y1="509.40" x2="707.60" y2="509.40" stroke="#555" stroke-width="0.65" stroke-dasharray="4.2 0.8 0.8 0.8"/>
<line x1="549.20" y1="438.90" x2="560.60" y2="450.75" stroke="#555" stroke-width="0.7" />
<line x1="707.60" y1="438.90" x2="685.00" y2="460.50" stroke="#555" stroke-width="0.7" />
<line x1="549.20" y1="509.40" x2="558.75" y2="500.00" stroke="#555" stroke-width="0.7" />
<line x1="707.60" y1="509.40" x2="681.50" y2="482.50" stroke="#555" stroke-width="0.7" />
<line x1="698.00" y1="448.30" x2="698.00" y2="500.00" stroke="#777" stroke-width="0.6" />
<line x1="628.50" y1="441.00" x2="628.50" y2="539.75" stroke="#555" stroke-width="0.65" stroke-dasharray="4.2 0.8 0.8 0.8"/>
<path d="M587.00,500.40 L577.50,510.00 L577.50,546.30" stroke="#444" stroke-width="1.8" fill="none" />
<path d="M669.60,500.40 L679.20,510.00 L679.20,546.30" stroke="#444" stroke-width="1.8" fill="none" />
<line x1="577.50" y1="510.00" x2="608.70" y2="539.75" stroke="#555" stroke-width="0.7" />
<line x1="679.20" y1="510.00" x2="648.30" y2="539.75" stroke="#555" stroke-width="0.7" />
<line x1="558.90" y1="448.30" x2="558.90" y2="500.00" stroke="#444" stroke-width="0.8" />
<line x1="560.70" y1="450.75" x2="560.70" y2="497.00" stroke="#444" stroke-width="0.8" />
<line x1="560.70" y1="450.75" x2="693.75" y2="450.75" stroke="#5a5a5a" stroke-width="0.6" />
<line x1="560.70" y1="497.00" x2="693.75" y2="497.00" stroke="#5a5a5a" stroke-width="0.7" />
<line x1="693.75" y1="450.75" x2="693.75" y2="497.00" stroke="#5a5a5a" stroke-width="0.7" />
<line x1="695.60" y1="448.30" x2="695.60" y2="500.00" stroke="#5a5a5a" stroke-width="0.7" />
<rect x="588.00" y="448.50" width="7.00" height="2.00" stroke="none" stroke-width="0" fill="#e2e2e2" />
<rect x="588.00" y="497.30" width="7.00" height="2.50" stroke="none" stroke-width="0" fill="#e2e2e2" />
<rect x="602.00" y="448.50" width="8.00" height="2.00" stroke="none" stroke-width="0" fill="#e2e2e2" />
<rect x="602.00" y="497.30" width="8.00" height="2.50" stroke="none" stroke-width="0" fill="#e2e2e2" />
<rect x="646.25" y="448.50" width="7.50" height="2.00" stroke="none" stroke-width="0" fill="#e2e2e2" />
<rect x="646.25" y="497.30" width="7.50" height="2.50" stroke="none" stroke-width="0" fill="#e2e2e2" />
<rect x="661.25" y="448.50" width="6.75" height="2.00" stroke="none" stroke-width="0" fill="#e2e2e2" />
<rect x="661.25" y="497.30" width="6.75" height="2.50" stroke="none" stroke-width="0" fill="#e2e2e2" />
<rect x="695.00" y="465.00" width="3.60" height="8.00" stroke="#bbb" stroke-width="0.4" fill="#eee" />
<rect x="695.00" y="475.75" width="3.60" height="8.25" stroke="#bbb" stroke-width="0.4" fill="#eee" />
<line x1="560.70" y1="450.75" x2="596.25" y2="481.40" stroke="#3a3a3a" stroke-width="0.85" />
<line x1="596.25" y1="451.40" x2="560.70" y2="482.00" stroke="#3a3a3a" stroke-width="0.85" />
<line x1="572.00" y1="473.90" x2="685.00" y2="473.90" stroke="#666" stroke-width="1.5" />
<ellipse cx="567.3" cy="455.6" rx="2.4" ry="1.7" stroke="#333" stroke-width="0.8" fill="#fff" transform="rotate(20 567.3 455.6)"/>
<rect x="562.00" y="452.50" width="2.50" height="5.00" stroke="#444" stroke-width="0.5" fill="none" />
<circle cx="563.90" cy="471.80" r="2.40" stroke="#333" stroke-width="1.0" fill="none"/>
<line x1="567.00" y1="461.40" x2="567.00" y2="482.00" stroke="#666" stroke-width="0.5" />
<line x1="560.70" y1="461.40" x2="567.00" y2="461.40" stroke="#666" stroke-width="0.5" />
<line x1="571.25" y1="459.00" x2="571.25" y2="487.00" stroke="#888" stroke-width="0.5" />
<rect x="560.70" y="482.00" width="19.90" height="14.40" stroke="#555" stroke-width="0.6" fill="none" />
<line x1="560.70" y1="496.40" x2="572.00" y2="482.00" stroke="#555" stroke-width="0.6" />
<circle cx="565.00" cy="489.50" r="1.00" stroke="#888" stroke-width="0.5" fill="none"/>
<rect x="596.00" y="450.75" width="4.60" height="17.50" stroke="#5a5a5a" stroke-width="0.7" fill="none" />
<rect x="596.00" y="480.00" width="4.60" height="17.00" stroke="#5a5a5a" stroke-width="0.7" fill="none" />
<path d="M596,468.5 Q590,470 589,474" stroke="#ccc" stroke-width="0.5" fill="none" />
<rect x="603.2" y="455" width="8.6" height="8.6" fill="#8a8a8a" transform="rotate(42 607.5 459.3)"/>
<rect x="618.50" y="452.00" width="19.00" height="5.60" stroke="#888" stroke-width="0.5" fill="none" />
<path d="M625.4,457.6 L625.4,459.8 A2.7,2.7 0 0 0 630.8,459.8 L630.8,457.6" stroke="#444" stroke-width="0.8" fill="none" />
<line x1="623.00" y1="442.60" x2="634.00" y2="442.60" stroke="#bbb" stroke-width="0.5" />
<rect x="646.25" y="452.60" width="22.25" height="6.90" stroke="none" stroke-width="0" fill="#8c8c8c" />
<line x1="650.70" y1="452.60" x2="650.70" y2="459.50" stroke="#777" stroke-width="0.5" />
<line x1="655.15" y1="452.60" x2="655.15" y2="459.50" stroke="#777" stroke-width="0.5" />
<line x1="659.60" y1="452.60" x2="659.60" y2="459.50" stroke="#777" stroke-width="0.5" />
<line x1="664.05" y1="452.60" x2="664.05" y2="459.50" stroke="#777" stroke-width="0.5" />
<rect x="674.40" y="459.50" width="6.85" height="16.90" stroke="#888" stroke-width="0.6" fill="none" />
<rect x="675.60" y="460.60" width="4.40" height="14.60" stroke="#aaa" stroke-width="0.4" fill="none" />
<line x1="681.25" y1="452.60" x2="681.25" y2="484.00" stroke="#444" stroke-width="0.7" />
<line x1="681.25" y1="469.50" x2="693.75" y2="469.50" stroke="#444" stroke-width="0.6" />
<line x1="681.25" y1="472.60" x2="693.75" y2="472.60" stroke="#444" stroke-width="0.6" />
<line x1="681.25" y1="475.75" x2="693.75" y2="475.75" stroke="#444" stroke-width="0.6" />
<line x1="681.25" y1="478.90" x2="693.75" y2="478.90" stroke="#444" stroke-width="0.6" />
<line x1="681.25" y1="481.60" x2="693.75" y2="481.60" stroke="#444" stroke-width="0.6" />
<line x1="681.25" y1="484.00" x2="693.75" y2="484.00" stroke="#444" stroke-width="0.6" />
<rect x="683.00" y="461.40" width="9.25" height="7.10" fill="#111"/>
<line x1="681.50" y1="462.50" x2="683.00" y2="462.50" stroke="#444" stroke-width="0.4" />
<line x1="692.25" y1="462.50" x2="693.75" y2="462.50" stroke="#444" stroke-width="0.4" />
<line x1="681.50" y1="464.20" x2="683.00" y2="464.20" stroke="#444" stroke-width="0.4" />
<line x1="692.25" y1="464.20" x2="693.75" y2="464.20" stroke="#444" stroke-width="0.4" />
<line x1="681.50" y1="465.90" x2="683.00" y2="465.90" stroke="#444" stroke-width="0.4" />
<line x1="692.25" y1="465.90" x2="693.75" y2="465.90" stroke="#444" stroke-width="0.4" />
<line x1="681.50" y1="467.60" x2="683.00" y2="467.60" stroke="#444" stroke-width="0.4" />
<line x1="692.25" y1="467.60" x2="693.75" y2="467.60" stroke="#444" stroke-width="0.4" />
<text x="646.90" y="485.75" font-size="8.3" fill="#3c3c3c" text-anchor="start" textLength="28" lengthAdjust="spacingAndGlyphs">Room 4</text>
<rect x="617.50" y="474.60" width="21.90" height="22.40" stroke="#aaa" stroke-width="0.5" fill="none" />
<line x1="617.50" y1="490.00" x2="639.40" y2="490.00" stroke="#999" stroke-width="0.5" />
<rect x="618.50" y="491.00" width="9.00" height="5.30" stroke="#999" stroke-width="0.5" fill="none" />
<rect x="629.50" y="491.00" width="9.00" height="5.30" stroke="#999" stroke-width="0.5" fill="none" />
<path d="M628.5,490 Q632,484 639.4,483.5" stroke="#aaa" stroke-width="0.5" fill="none" />
<rect x="607.00" y="491.75" width="8.60" height="5.25" stroke="#666" stroke-width="0.5" fill="none" />
<rect x="641.25" y="491.75" width="8.15" height="5.25" stroke="#666" stroke-width="0.5" fill="none" />
<text x="600.00" y="343.80" font-size="13.3" fill="#3c3c3c" text-anchor="start" textLength="59.8" lengthAdjust="spacingAndGlyphs">Court Yard</text>
<text x="600.00" y="359.40" font-size="13.3" fill="#3c3c3c" text-anchor="start" textLength="36" lengthAdjust="spacingAndGlyphs">Below</text>
<text x="597.75" y="572.25" font-size="14" fill="#3c3c3c" text-anchor="start" textLength="67.5" lengthAdjust="spacingAndGlyphs">Upper Floor</text>
</g>
</svg>
</body></html>
